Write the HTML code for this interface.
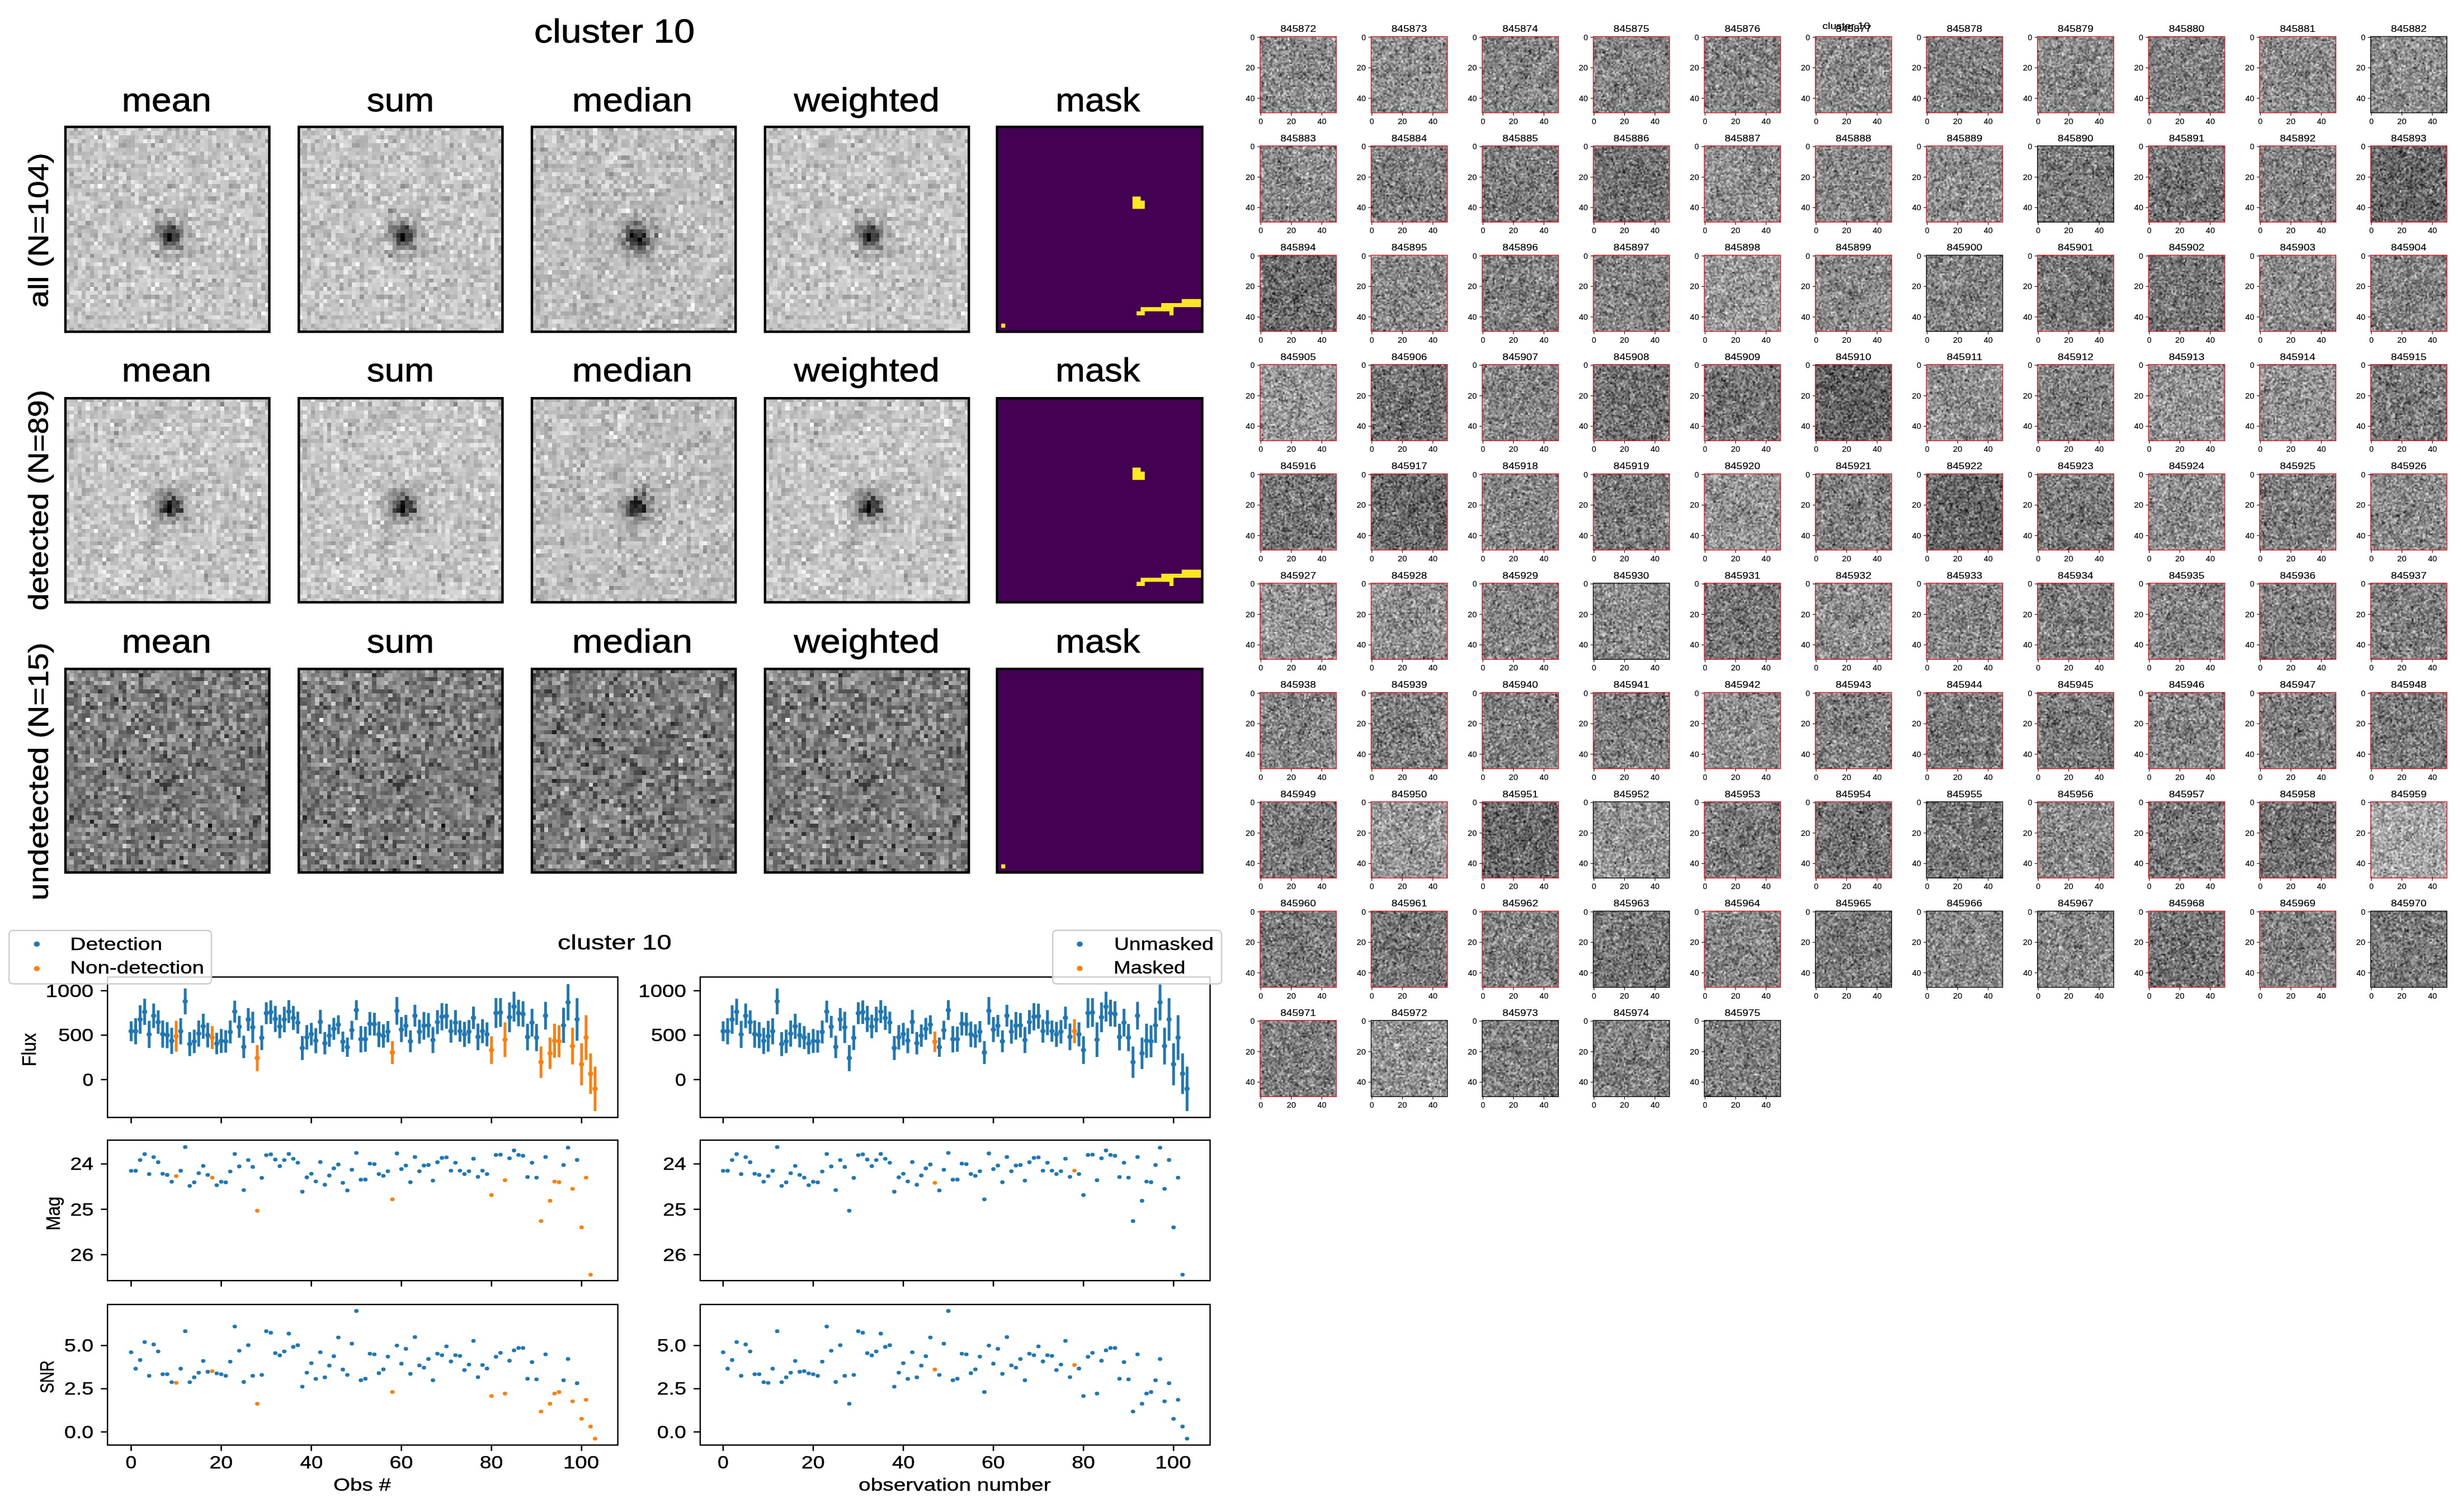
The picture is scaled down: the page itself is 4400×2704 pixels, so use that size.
<!DOCTYPE html>
<html><head><meta charset="utf-8"><title>cluster 10</title>
<style>
html,body{margin:0;padding:0;background:#fff;}
body{width:4400px;height:2704px;position:relative;overflow:hidden;}
svg,canvas{position:absolute;left:0;top:0;}
text{font-family:"Liberation Sans",sans-serif;stroke:#000;}
</style></head><body>
<svg width="4400" height="2704" viewBox="0 0 4400 2704"><defs><radialGradient id="star"><stop offset="0" stop-color="#202020" stop-opacity="1"/><stop offset="0.35" stop-color="#505050" stop-opacity="0.8"/><stop offset="1" stop-color="#c2c2c2" stop-opacity="0"/></radialGradient></defs><rect x="117.00" y="226.90" width="364.50" height="366.40" fill="#c2c2c2"/><circle cx="305.08" cy="421.54" r="43.74" fill="url(#star)"/><rect x="534.20" y="226.90" width="364.20" height="366.40" fill="#c2c2c2"/><circle cx="722.13" cy="421.38" r="43.70" fill="url(#star)"/><rect x="951.00" y="226.90" width="364.20" height="366.40" fill="#c2c2c2"/><circle cx="1138.93" cy="421.38" r="43.70" fill="url(#star)"/><rect x="1367.80" y="226.90" width="364.40" height="366.40" fill="#c2c2c2"/><circle cx="1555.83" cy="421.49" r="43.73" fill="url(#star)"/><rect x="117.00" y="712.20" width="364.50" height="364.90" fill="#c2c2c2"/><circle cx="305.08" cy="906.84" r="43.74" fill="url(#star)"/><rect x="534.20" y="712.20" width="364.20" height="364.90" fill="#c2c2c2"/><circle cx="722.13" cy="906.68" r="43.70" fill="url(#star)"/><rect x="951.00" y="712.20" width="364.20" height="364.90" fill="#c2c2c2"/><circle cx="1138.93" cy="906.68" r="43.70" fill="url(#star)"/><rect x="1367.80" y="712.20" width="364.40" height="364.90" fill="#c2c2c2"/><circle cx="1555.83" cy="906.79" r="43.73" fill="url(#star)"/><rect x="117.00" y="1196.30" width="364.50" height="364.00" fill="#7f7f7f"/><rect x="534.20" y="1196.30" width="364.20" height="364.00" fill="#7f7f7f"/><rect x="951.00" y="1196.30" width="364.20" height="364.00" fill="#7f7f7f"/><rect x="1367.80" y="1196.30" width="364.40" height="364.00" fill="#7f7f7f"/><rect x="2252.90" y="65.40" width="136.3" height="136.3" fill="rgb(138,138,138)"/><rect x="2451.46" y="65.40" width="136.3" height="136.3" fill="rgb(142,142,142)"/><rect x="2650.02" y="65.40" width="136.3" height="136.3" fill="rgb(135,135,135)"/><rect x="2848.58" y="65.40" width="136.3" height="136.3" fill="rgb(135,135,135)"/><rect x="3047.14" y="65.40" width="136.3" height="136.3" fill="rgb(133,133,133)"/><rect x="3245.70" y="65.40" width="136.3" height="136.3" fill="rgb(138,138,138)"/><rect x="3444.26" y="65.40" width="136.3" height="136.3" fill="rgb(127,127,127)"/><rect x="3642.82" y="65.40" width="136.3" height="136.3" fill="rgb(138,138,138)"/><rect x="3841.38" y="65.40" width="136.3" height="136.3" fill="rgb(129,129,129)"/><rect x="4039.94" y="65.40" width="136.3" height="136.3" fill="rgb(138,138,138)"/><rect x="4238.50" y="65.40" width="136.3" height="136.3" fill="rgb(142,142,142)"/><rect x="2252.90" y="260.90" width="136.3" height="136.3" fill="rgb(138,138,138)"/><rect x="2451.46" y="260.90" width="136.3" height="136.3" fill="rgb(129,129,129)"/><rect x="2650.02" y="260.90" width="136.3" height="136.3" fill="rgb(125,125,125)"/><rect x="2848.58" y="260.90" width="136.3" height="136.3" fill="rgb(115,115,115)"/><rect x="3047.14" y="260.90" width="136.3" height="136.3" fill="rgb(142,142,142)"/><rect x="3245.70" y="260.90" width="136.3" height="136.3" fill="rgb(138,138,138)"/><rect x="3444.26" y="260.90" width="136.3" height="136.3" fill="rgb(142,142,142)"/><rect x="3642.82" y="260.90" width="136.3" height="136.3" fill="rgb(123,123,123)"/><rect x="3841.38" y="260.90" width="136.3" height="136.3" fill="rgb(119,119,119)"/><rect x="4039.94" y="260.90" width="136.3" height="136.3" fill="rgb(133,133,133)"/><rect x="4238.50" y="260.90" width="136.3" height="136.3" fill="rgb(104,104,104)"/><rect x="2252.90" y="456.40" width="136.3" height="136.3" fill="rgb(112,112,112)"/><rect x="2451.46" y="456.40" width="136.3" height="136.3" fill="rgb(138,138,138)"/><rect x="2650.02" y="456.40" width="136.3" height="136.3" fill="rgb(129,129,129)"/><rect x="2848.58" y="456.40" width="136.3" height="136.3" fill="rgb(133,133,133)"/><rect x="3047.14" y="456.40" width="136.3" height="136.3" fill="rgb(154,154,154)"/><rect x="3245.70" y="456.40" width="136.3" height="136.3" fill="rgb(138,138,138)"/><rect x="3444.26" y="456.40" width="136.3" height="136.3" fill="rgb(133,133,133)"/><rect x="3642.82" y="456.40" width="136.3" height="136.3" fill="rgb(119,119,119)"/><rect x="3841.38" y="456.40" width="136.3" height="136.3" fill="rgb(119,119,119)"/><rect x="4039.94" y="456.40" width="136.3" height="136.3" fill="rgb(138,138,138)"/><rect x="4238.50" y="456.40" width="136.3" height="136.3" fill="rgb(133,133,133)"/><rect x="2252.90" y="651.90" width="136.3" height="136.3" fill="rgb(154,154,154)"/><rect x="2451.46" y="651.90" width="136.3" height="136.3" fill="rgb(115,115,115)"/><rect x="2650.02" y="651.90" width="136.3" height="136.3" fill="rgb(135,135,135)"/><rect x="2848.58" y="651.90" width="136.3" height="136.3" fill="rgb(115,115,115)"/><rect x="3047.14" y="651.90" width="136.3" height="136.3" fill="rgb(119,119,119)"/><rect x="3245.70" y="651.90" width="136.3" height="136.3" fill="rgb(100,100,100)"/><rect x="3444.26" y="651.90" width="136.3" height="136.3" fill="rgb(144,144,144)"/><rect x="3642.82" y="651.90" width="136.3" height="136.3" fill="rgb(129,129,129)"/><rect x="3841.38" y="651.90" width="136.3" height="136.3" fill="rgb(148,148,148)"/><rect x="4039.94" y="651.90" width="136.3" height="136.3" fill="rgb(148,148,148)"/><rect x="4238.50" y="651.90" width="136.3" height="136.3" fill="rgb(123,123,123)"/><rect x="2252.90" y="847.40" width="136.3" height="136.3" fill="rgb(119,119,119)"/><rect x="2451.46" y="847.40" width="136.3" height="136.3" fill="rgb(106,106,106)"/><rect x="2650.02" y="847.40" width="136.3" height="136.3" fill="rgb(135,135,135)"/><rect x="2848.58" y="847.40" width="136.3" height="136.3" fill="rgb(123,123,123)"/><rect x="3047.14" y="847.40" width="136.3" height="136.3" fill="rgb(150,150,150)"/><rect x="3245.70" y="847.40" width="136.3" height="136.3" fill="rgb(129,129,129)"/><rect x="3444.26" y="847.40" width="136.3" height="136.3" fill="rgb(106,106,106)"/><rect x="3642.82" y="847.40" width="136.3" height="136.3" fill="rgb(123,123,123)"/><rect x="3841.38" y="847.40" width="136.3" height="136.3" fill="rgb(142,142,142)"/><rect x="4039.94" y="847.40" width="136.3" height="136.3" fill="rgb(129,129,129)"/><rect x="4238.50" y="847.40" width="136.3" height="136.3" fill="rgb(138,138,138)"/><rect x="2252.90" y="1042.90" width="136.3" height="136.3" fill="rgb(148,148,148)"/><rect x="2451.46" y="1042.90" width="136.3" height="136.3" fill="rgb(144,144,144)"/><rect x="2650.02" y="1042.90" width="136.3" height="136.3" fill="rgb(133,133,133)"/><rect x="2848.58" y="1042.90" width="136.3" height="136.3" fill="rgb(138,138,138)"/><rect x="3047.14" y="1042.90" width="136.3" height="136.3" fill="rgb(119,119,119)"/><rect x="3245.70" y="1042.90" width="136.3" height="136.3" fill="rgb(144,144,144)"/><rect x="3444.26" y="1042.90" width="136.3" height="136.3" fill="rgb(135,135,135)"/><rect x="3642.82" y="1042.90" width="136.3" height="136.3" fill="rgb(129,129,129)"/><rect x="3841.38" y="1042.90" width="136.3" height="136.3" fill="rgb(133,133,133)"/><rect x="4039.94" y="1042.90" width="136.3" height="136.3" fill="rgb(129,129,129)"/><rect x="4238.50" y="1042.90" width="136.3" height="136.3" fill="rgb(129,129,129)"/><rect x="2252.90" y="1238.40" width="136.3" height="136.3" fill="rgb(133,133,133)"/><rect x="2451.46" y="1238.40" width="136.3" height="136.3" fill="rgb(129,129,129)"/><rect x="2650.02" y="1238.40" width="136.3" height="136.3" fill="rgb(129,129,129)"/><rect x="2848.58" y="1238.40" width="136.3" height="136.3" fill="rgb(129,129,129)"/><rect x="3047.14" y="1238.40" width="136.3" height="136.3" fill="rgb(142,142,142)"/><rect x="3245.70" y="1238.40" width="136.3" height="136.3" fill="rgb(129,129,129)"/><rect x="3444.26" y="1238.40" width="136.3" height="136.3" fill="rgb(123,123,123)"/><rect x="3642.82" y="1238.40" width="136.3" height="136.3" fill="rgb(123,123,123)"/><rect x="3841.38" y="1238.40" width="136.3" height="136.3" fill="rgb(135,135,135)"/><rect x="4039.94" y="1238.40" width="136.3" height="136.3" fill="rgb(129,129,129)"/><rect x="4238.50" y="1238.40" width="136.3" height="136.3" fill="rgb(123,123,123)"/><rect x="2252.90" y="1433.90" width="136.3" height="136.3" fill="rgb(123,123,123)"/><rect x="2451.46" y="1433.90" width="136.3" height="136.3" fill="rgb(154,154,154)"/><rect x="2650.02" y="1433.90" width="136.3" height="136.3" fill="rgb(106,106,106)"/><rect x="2848.58" y="1433.90" width="136.3" height="136.3" fill="rgb(148,148,148)"/><rect x="3047.14" y="1433.90" width="136.3" height="136.3" fill="rgb(123,123,123)"/><rect x="3245.70" y="1433.90" width="136.3" height="136.3" fill="rgb(115,115,115)"/><rect x="3444.26" y="1433.90" width="136.3" height="136.3" fill="rgb(123,123,123)"/><rect x="3642.82" y="1433.90" width="136.3" height="136.3" fill="rgb(138,138,138)"/><rect x="3841.38" y="1433.90" width="136.3" height="136.3" fill="rgb(123,123,123)"/><rect x="4039.94" y="1433.90" width="136.3" height="136.3" fill="rgb(115,115,115)"/><rect x="4238.50" y="1433.90" width="136.3" height="136.3" fill="rgb(167,167,167)"/><rect x="2252.90" y="1629.40" width="136.3" height="136.3" fill="rgb(123,123,123)"/><rect x="2451.46" y="1629.40" width="136.3" height="136.3" fill="rgb(119,119,119)"/><rect x="2650.02" y="1629.40" width="136.3" height="136.3" fill="rgb(129,129,129)"/><rect x="2848.58" y="1629.40" width="136.3" height="136.3" fill="rgb(119,119,119)"/><rect x="3047.14" y="1629.40" width="136.3" height="136.3" fill="rgb(133,133,133)"/><rect x="3245.70" y="1629.40" width="136.3" height="136.3" fill="rgb(123,123,123)"/><rect x="3444.26" y="1629.40" width="136.3" height="136.3" fill="rgb(138,138,138)"/><rect x="3642.82" y="1629.40" width="136.3" height="136.3" fill="rgb(138,138,138)"/><rect x="3841.38" y="1629.40" width="136.3" height="136.3" fill="rgb(115,115,115)"/><rect x="4039.94" y="1629.40" width="136.3" height="136.3" fill="rgb(129,129,129)"/><rect x="4238.50" y="1629.40" width="136.3" height="136.3" fill="rgb(123,123,123)"/><rect x="2252.90" y="1824.90" width="136.3" height="136.3" fill="rgb(129,129,129)"/><rect x="2451.46" y="1824.90" width="136.3" height="136.3" fill="rgb(148,148,148)"/><rect x="2650.02" y="1824.90" width="136.3" height="136.3" fill="rgb(129,129,129)"/><rect x="2848.58" y="1824.90" width="136.3" height="136.3" fill="rgb(129,129,129)"/><rect x="3047.14" y="1824.90" width="136.3" height="136.3" fill="rgb(129,129,129)"/></svg>
<canvas id="cv" width="4400" height="2704"></canvas>
<svg width="4400" height="2704" viewBox="0 0 4400 2704">
<text x="955.05" y="75.60" font-size="60.00" textLength="287.10" lengthAdjust="spacingAndGlyphs" fill="#000" stroke-width="0.78">cluster 10</text>
<text x="217.74" y="199.10" font-size="60.00" textLength="160.23" lengthAdjust="spacingAndGlyphs" fill="#000" stroke-width="0.78">mean</text>
<text x="655.79" y="199.10" font-size="60.00" textLength="120.40" lengthAdjust="spacingAndGlyphs" fill="#000" stroke-width="0.78">sum</text>
<text x="1022.73" y="199.10" font-size="60.00" textLength="215.33" lengthAdjust="spacingAndGlyphs" fill="#000" stroke-width="0.78">median</text>
<text x="1419.50" y="199.10" font-size="60.00" textLength="260.43" lengthAdjust="spacingAndGlyphs" fill="#000" stroke-width="0.78">weighted</text>
<text x="1887.29" y="199.10" font-size="60.00" textLength="150.96" lengthAdjust="spacingAndGlyphs" fill="#000" stroke-width="0.78">mask</text>
<text x="217.74" y="682.40" font-size="60.00" textLength="160.23" lengthAdjust="spacingAndGlyphs" fill="#000" stroke-width="0.78">mean</text>
<text x="655.79" y="682.40" font-size="60.00" textLength="120.40" lengthAdjust="spacingAndGlyphs" fill="#000" stroke-width="0.78">sum</text>
<text x="1022.73" y="682.40" font-size="60.00" textLength="215.33" lengthAdjust="spacingAndGlyphs" fill="#000" stroke-width="0.78">median</text>
<text x="1419.50" y="682.40" font-size="60.00" textLength="260.43" lengthAdjust="spacingAndGlyphs" fill="#000" stroke-width="0.78">weighted</text>
<text x="1887.29" y="682.40" font-size="60.00" textLength="150.96" lengthAdjust="spacingAndGlyphs" fill="#000" stroke-width="0.78">mask</text>
<text x="217.74" y="1166.70" font-size="60.00" textLength="160.23" lengthAdjust="spacingAndGlyphs" fill="#000" stroke-width="0.78">mean</text>
<text x="655.79" y="1166.70" font-size="60.00" textLength="120.40" lengthAdjust="spacingAndGlyphs" fill="#000" stroke-width="0.78">sum</text>
<text x="1022.73" y="1166.70" font-size="60.00" textLength="215.33" lengthAdjust="spacingAndGlyphs" fill="#000" stroke-width="0.78">median</text>
<text x="1419.50" y="1166.70" font-size="60.00" textLength="260.43" lengthAdjust="spacingAndGlyphs" fill="#000" stroke-width="0.78">weighted</text>
<text x="1887.29" y="1166.70" font-size="60.00" textLength="150.96" lengthAdjust="spacingAndGlyphs" fill="#000" stroke-width="0.78">mask</text>
<g transform="translate(85.50,0) rotate(-90)"><text x="-550.15" y="0.00" font-size="49.20" textLength="276.76" lengthAdjust="spacingAndGlyphs" fill="#000" stroke-width="0.64">all (N=104)</text></g>
<g transform="translate(85.50,0) rotate(-90)"><text x="-1091.89" y="0.00" font-size="49.20" textLength="394.60" lengthAdjust="spacingAndGlyphs" fill="#000" stroke-width="0.64">detected (N=89)</text></g>
<g transform="translate(85.50,0) rotate(-90)"><text x="-1610.31" y="0.00" font-size="49.20" textLength="461.00" lengthAdjust="spacingAndGlyphs" fill="#000" stroke-width="0.64">undetected (N=15)</text></g>
<rect x="1782.60" y="226.90" width="366.90" height="366.40" fill="#440154"/>
<path d="M2024.75 351.48h7.34v7.33h-7.34zM2032.09 351.48h7.34v7.33h-7.34zM2024.75 358.80h7.34v7.33h-7.34zM2032.09 358.80h7.34v7.33h-7.34zM2039.43 358.80h7.34v7.33h-7.34zM2024.75 366.13h7.34v7.33h-7.34zM2032.09 366.13h7.34v7.33h-7.34zM2039.43 366.13h7.34v7.33h-7.34zM2112.81 534.68h7.34v7.33h-7.34zM2120.15 534.68h7.34v7.33h-7.34zM2127.49 534.68h7.34v7.33h-7.34zM2134.82 534.68h7.34v7.33h-7.34zM2142.16 534.68h7.34v7.33h-7.34zM2076.12 542.00h7.34v7.33h-7.34zM2083.46 542.00h7.34v7.33h-7.34zM2090.80 542.00h7.34v7.33h-7.34zM2098.13 542.00h7.34v7.33h-7.34zM2105.47 542.00h7.34v7.33h-7.34zM2112.81 542.00h7.34v7.33h-7.34zM2120.15 542.00h7.34v7.33h-7.34zM2127.49 542.00h7.34v7.33h-7.34zM2134.82 542.00h7.34v7.33h-7.34zM2142.16 542.00h7.34v7.33h-7.34zM2039.43 549.33h7.34v7.33h-7.34zM2046.77 549.33h7.34v7.33h-7.34zM2054.11 549.33h7.34v7.33h-7.34zM2061.44 549.33h7.34v7.33h-7.34zM2068.78 549.33h7.34v7.33h-7.34zM2076.12 549.33h7.34v7.33h-7.34zM2083.46 549.33h7.34v7.33h-7.34zM2090.80 549.33h7.34v7.33h-7.34zM2032.09 556.66h7.34v7.33h-7.34zM2039.43 556.66h7.34v7.33h-7.34zM2090.80 556.66h7.34v7.33h-7.34zM1789.94 578.64h7.34v7.33h-7.34z" fill="#fde725"/>
<rect x="1782.60" y="712.20" width="366.90" height="364.90" fill="#440154"/>
<path d="M2024.75 836.27h7.34v7.30h-7.34zM2032.09 836.27h7.34v7.30h-7.34zM2024.75 843.56h7.34v7.30h-7.34zM2032.09 843.56h7.34v7.30h-7.34zM2039.43 843.56h7.34v7.30h-7.34zM2024.75 850.86h7.34v7.30h-7.34zM2032.09 850.86h7.34v7.30h-7.34zM2039.43 850.86h7.34v7.30h-7.34zM2112.81 1018.72h7.34v7.30h-7.34zM2120.15 1018.72h7.34v7.30h-7.34zM2127.49 1018.72h7.34v7.30h-7.34zM2134.82 1018.72h7.34v7.30h-7.34zM2142.16 1018.72h7.34v7.30h-7.34zM2076.12 1026.01h7.34v7.30h-7.34zM2083.46 1026.01h7.34v7.30h-7.34zM2090.80 1026.01h7.34v7.30h-7.34zM2098.13 1026.01h7.34v7.30h-7.34zM2105.47 1026.01h7.34v7.30h-7.34zM2112.81 1026.01h7.34v7.30h-7.34zM2120.15 1026.01h7.34v7.30h-7.34zM2127.49 1026.01h7.34v7.30h-7.34zM2134.82 1026.01h7.34v7.30h-7.34zM2142.16 1026.01h7.34v7.30h-7.34zM2039.43 1033.31h7.34v7.30h-7.34zM2046.77 1033.31h7.34v7.30h-7.34zM2054.11 1033.31h7.34v7.30h-7.34zM2061.44 1033.31h7.34v7.30h-7.34zM2068.78 1033.31h7.34v7.30h-7.34zM2076.12 1033.31h7.34v7.30h-7.34zM2083.46 1033.31h7.34v7.30h-7.34zM2090.80 1033.31h7.34v7.30h-7.34zM2032.09 1040.61h7.34v7.30h-7.34zM2039.43 1040.61h7.34v7.30h-7.34zM2090.80 1040.61h7.34v7.30h-7.34z" fill="#fde725"/>
<rect x="1782.60" y="1196.30" width="366.90" height="364.00" fill="#440154"/>
<path d="M1789.94 1545.74h7.34v7.28h-7.34z" fill="#fde725"/>
<rect x="117.00" y="226.90" width="364.50" height="366.40" fill="none" stroke="#000" stroke-width="4.4"/>
<rect x="534.20" y="226.90" width="364.20" height="366.40" fill="none" stroke="#000" stroke-width="4.4"/>
<rect x="951.00" y="226.90" width="364.20" height="366.40" fill="none" stroke="#000" stroke-width="4.4"/>
<rect x="1367.80" y="226.90" width="364.40" height="366.40" fill="none" stroke="#000" stroke-width="4.4"/>
<rect x="1782.60" y="226.90" width="366.90" height="366.40" fill="none" stroke="#000" stroke-width="4.4"/>
<rect x="117.00" y="712.20" width="364.50" height="364.90" fill="none" stroke="#000" stroke-width="4.4"/>
<rect x="534.20" y="712.20" width="364.20" height="364.90" fill="none" stroke="#000" stroke-width="4.4"/>
<rect x="951.00" y="712.20" width="364.20" height="364.90" fill="none" stroke="#000" stroke-width="4.4"/>
<rect x="1367.80" y="712.20" width="364.40" height="364.90" fill="none" stroke="#000" stroke-width="4.4"/>
<rect x="1782.60" y="712.20" width="366.90" height="364.90" fill="none" stroke="#000" stroke-width="4.4"/>
<rect x="117.00" y="1196.30" width="364.50" height="364.00" fill="none" stroke="#000" stroke-width="4.4"/>
<rect x="534.20" y="1196.30" width="364.20" height="364.00" fill="none" stroke="#000" stroke-width="4.4"/>
<rect x="951.00" y="1196.30" width="364.20" height="364.00" fill="none" stroke="#000" stroke-width="4.4"/>
<rect x="1367.80" y="1196.30" width="364.40" height="364.00" fill="none" stroke="#000" stroke-width="4.4"/>
<rect x="1782.60" y="1196.30" width="366.90" height="364.00" fill="none" stroke="#000" stroke-width="4.4"/>
<text x="997.12" y="1697.50" font-size="36.50" textLength="203.45" lengthAdjust="spacingAndGlyphs" fill="#000" stroke-width="0.47">cluster 10</text>
<rect x="232.00" y="1826.56" width="5" height="35.50" fill="#1f77b4"/><ellipse cx="234.50" cy="1844.31" rx="4.7" ry="4.2" fill="#1f77b4"/><rect x="240.05" y="1820.90" width="5" height="46.72" fill="#1f77b4"/><ellipse cx="242.55" cy="1844.26" rx="4.7" ry="4.2" fill="#1f77b4"/><rect x="248.11" y="1797.68" width="5" height="51.04" fill="#1f77b4"/><ellipse cx="250.61" cy="1823.20" rx="4.7" ry="4.2" fill="#1f77b4"/><rect x="256.16" y="1786.18" width="5" height="46.72" fill="#1f77b4"/><ellipse cx="258.66" cy="1809.54" rx="4.7" ry="4.2" fill="#1f77b4"/><rect x="264.21" y="1825.59" width="5" height="48.62" fill="#1f77b4"/><ellipse cx="266.71" cy="1849.90" rx="4.7" ry="4.2" fill="#1f77b4"/><rect x="272.26" y="1794.68" width="5" height="43.86" fill="#1f77b4"/><ellipse cx="274.76" cy="1816.61" rx="4.7" ry="4.2" fill="#1f77b4"/><rect x="280.32" y="1806.92" width="5" height="41.95" fill="#1f77b4"/><ellipse cx="282.82" cy="1827.89" rx="4.7" ry="4.2" fill="#1f77b4"/><rect x="288.37" y="1825.03" width="5" height="48.62" fill="#1f77b4"/><ellipse cx="290.87" cy="1849.34" rx="4.7" ry="4.2" fill="#1f77b4"/><rect x="296.42" y="1827.89" width="5" height="46.72" fill="#1f77b4"/><ellipse cx="298.92" cy="1851.25" rx="4.7" ry="4.2" fill="#1f77b4"/><rect x="304.48" y="1838.14" width="5" height="46.72" fill="#1f77b4"/><ellipse cx="306.98" cy="1861.50" rx="4.7" ry="4.2" fill="#1f77b4"/><rect x="312.53" y="1825.59" width="5" height="55.14" fill="#ff7f0e"/><ellipse cx="315.03" cy="1853.16" rx="4.7" ry="4.2" fill="#ff7f0e"/><rect x="320.58" y="1820.90" width="5" height="46.72" fill="#1f77b4"/><ellipse cx="323.08" cy="1844.26" rx="4.7" ry="4.2" fill="#1f77b4"/><rect x="328.64" y="1767.67" width="5" height="46.40" fill="#1f77b4"/><ellipse cx="331.14" cy="1790.87" rx="4.7" ry="4.2" fill="#1f77b4"/><rect x="336.69" y="1845.69" width="5" height="42.90" fill="#1f77b4"/><ellipse cx="339.19" cy="1867.14" rx="4.7" ry="4.2" fill="#1f77b4"/><rect x="344.74" y="1841.40" width="5" height="41.95" fill="#1f77b4"/><ellipse cx="347.24" cy="1862.37" rx="4.7" ry="4.2" fill="#1f77b4"/><rect x="352.80" y="1825.03" width="5" height="46.72" fill="#1f77b4"/><ellipse cx="355.30" cy="1848.39" rx="4.7" ry="4.2" fill="#1f77b4"/><rect x="360.85" y="1812.96" width="5" height="44.81" fill="#1f77b4"/><ellipse cx="363.35" cy="1835.36" rx="4.7" ry="4.2" fill="#1f77b4"/><rect x="368.90" y="1829.32" width="5" height="43.86" fill="#1f77b4"/><ellipse cx="371.40" cy="1851.25" rx="4.7" ry="4.2" fill="#1f77b4"/><rect x="376.95" y="1835.04" width="5" height="41.00" fill="#ff7f0e"/><ellipse cx="379.45" cy="1855.54" rx="4.7" ry="4.2" fill="#ff7f0e"/><rect x="385.01" y="1847.02" width="5" height="38.33" fill="#1f77b4"/><ellipse cx="387.51" cy="1866.19" rx="4.7" ry="4.2" fill="#1f77b4"/><rect x="393.06" y="1840.13" width="5" height="42.90" fill="#1f77b4"/><ellipse cx="395.56" cy="1861.58" rx="4.7" ry="4.2" fill="#1f77b4"/><rect x="401.11" y="1842.35" width="5" height="40.04" fill="#1f77b4"/><ellipse cx="403.61" cy="1862.37" rx="4.7" ry="4.2" fill="#1f77b4"/><rect x="409.17" y="1825.10" width="5" height="41.00" fill="#1f77b4"/><ellipse cx="411.67" cy="1845.59" rx="4.7" ry="4.2" fill="#1f77b4"/><rect x="417.22" y="1789.52" width="5" height="39.25" fill="#1f77b4"/><ellipse cx="419.72" cy="1809.14" rx="4.7" ry="4.2" fill="#1f77b4"/><rect x="425.27" y="1816.69" width="5" height="39.25" fill="#1f77b4"/><ellipse cx="427.77" cy="1836.31" rx="4.7" ry="4.2" fill="#1f77b4"/><rect x="433.33" y="1852.28" width="5" height="40.04" fill="#1f77b4"/><ellipse cx="435.83" cy="1872.30" rx="4.7" ry="4.2" fill="#1f77b4"/><rect x="441.38" y="1802.71" width="5" height="41.00" fill="#1f77b4"/><ellipse cx="443.88" cy="1823.20" rx="4.7" ry="4.2" fill="#1f77b4"/><rect x="449.43" y="1809.30" width="5" height="55.93" fill="#1f77b4"/><ellipse cx="451.93" cy="1837.27" rx="4.7" ry="4.2" fill="#1f77b4"/><rect x="457.48" y="1868.95" width="5" height="46.72" fill="#ff7f0e"/><ellipse cx="459.98" cy="1892.31" rx="4.7" ry="4.2" fill="#ff7f0e"/><rect x="465.54" y="1833.98" width="5" height="43.86" fill="#1f77b4"/><ellipse cx="468.04" cy="1855.91" rx="4.7" ry="4.2" fill="#1f77b4"/><rect x="473.59" y="1792.38" width="5" height="39.25" fill="#1f77b4"/><ellipse cx="476.09" cy="1812.00" rx="4.7" ry="4.2" fill="#1f77b4"/><rect x="481.64" y="1789.12" width="5" height="41.95" fill="#1f77b4"/><ellipse cx="484.14" cy="1810.09" rx="4.7" ry="4.2" fill="#1f77b4"/><rect x="489.70" y="1798.88" width="5" height="46.72" fill="#1f77b4"/><ellipse cx="492.20" cy="1822.23" rx="4.7" ry="4.2" fill="#1f77b4"/><rect x="497.75" y="1814.70" width="5" height="41.95" fill="#1f77b4"/><ellipse cx="500.25" cy="1835.68" rx="4.7" ry="4.2" fill="#1f77b4"/><rect x="505.80" y="1800.32" width="5" height="45.76" fill="#1f77b4"/><ellipse cx="508.30" cy="1823.20" rx="4.7" ry="4.2" fill="#1f77b4"/><rect x="513.86" y="1788.64" width="5" height="41.00" fill="#1f77b4"/><ellipse cx="516.36" cy="1809.14" rx="4.7" ry="4.2" fill="#1f77b4"/><rect x="521.91" y="1798.97" width="5" height="42.90" fill="#1f77b4"/><ellipse cx="524.41" cy="1820.42" rx="4.7" ry="4.2" fill="#1f77b4"/><rect x="529.96" y="1809.22" width="5" height="39.25" fill="#1f77b4"/><ellipse cx="532.46" cy="1828.85" rx="4.7" ry="4.2" fill="#1f77b4"/><rect x="538.01" y="1852.74" width="5" height="42.90" fill="#1f77b4"/><ellipse cx="540.51" cy="1874.20" rx="4.7" ry="4.2" fill="#1f77b4"/><rect x="546.07" y="1833.14" width="5" height="43.86" fill="#1f77b4"/><ellipse cx="548.57" cy="1855.06" rx="4.7" ry="4.2" fill="#1f77b4"/><rect x="554.12" y="1829.32" width="5" height="40.04" fill="#1f77b4"/><ellipse cx="556.62" cy="1849.34" rx="4.7" ry="4.2" fill="#1f77b4"/><rect x="562.17" y="1838.70" width="5" height="44.81" fill="#1f77b4"/><ellipse cx="564.67" cy="1861.10" rx="4.7" ry="4.2" fill="#1f77b4"/><rect x="570.23" y="1806.04" width="5" height="42.90" fill="#1f77b4"/><ellipse cx="572.73" cy="1827.49" rx="4.7" ry="4.2" fill="#1f77b4"/><rect x="578.28" y="1845.58" width="5" height="40.04" fill="#1f77b4"/><ellipse cx="580.78" cy="1865.60" rx="4.7" ry="4.2" fill="#1f77b4"/><rect x="586.33" y="1832.09" width="5" height="40.04" fill="#1f77b4"/><ellipse cx="588.83" cy="1852.11" rx="4.7" ry="4.2" fill="#1f77b4"/><rect x="594.38" y="1820.38" width="5" height="39.25" fill="#1f77b4"/><ellipse cx="596.88" cy="1840.00" rx="4.7" ry="4.2" fill="#1f77b4"/><rect x="602.44" y="1815.66" width="5" height="33.69" fill="#1f77b4"/><ellipse cx="604.94" cy="1832.50" rx="4.7" ry="4.2" fill="#1f77b4"/><rect x="610.49" y="1844.78" width="5" height="36.45" fill="#1f77b4"/><ellipse cx="612.99" cy="1863.01" rx="4.7" ry="4.2" fill="#1f77b4"/><rect x="618.54" y="1855.41" width="5" height="34.58" fill="#1f77b4"/><ellipse cx="621.04" cy="1872.70" rx="4.7" ry="4.2" fill="#1f77b4"/><rect x="626.60" y="1825.56" width="5" height="33.69" fill="#1f77b4"/><ellipse cx="629.10" cy="1842.40" rx="4.7" ry="4.2" fill="#1f77b4"/><rect x="634.65" y="1788.69" width="5" height="35.50" fill="#1f77b4"/><ellipse cx="637.15" cy="1806.44" rx="4.7" ry="4.2" fill="#1f77b4"/><rect x="642.70" y="1835.04" width="5" height="47.03" fill="#1f77b4"/><ellipse cx="645.20" cy="1858.56" rx="4.7" ry="4.2" fill="#1f77b4"/><rect x="650.76" y="1836.00" width="5" height="44.81" fill="#1f77b4"/><ellipse cx="653.26" cy="1858.40" rx="4.7" ry="4.2" fill="#1f77b4"/><rect x="658.81" y="1809.78" width="5" height="41.95" fill="#1f77b4"/><ellipse cx="661.31" cy="1830.75" rx="4.7" ry="4.2" fill="#1f77b4"/><rect x="666.86" y="1811.21" width="5" height="41.00" fill="#1f77b4"/><ellipse cx="669.36" cy="1831.71" rx="4.7" ry="4.2" fill="#1f77b4"/><rect x="674.91" y="1826.94" width="5" height="45.76" fill="#1f77b4"/><ellipse cx="677.41" cy="1849.82" rx="4.7" ry="4.2" fill="#1f77b4"/><rect x="682.97" y="1831.71" width="5" height="41.95" fill="#1f77b4"/><ellipse cx="685.47" cy="1852.68" rx="4.7" ry="4.2" fill="#1f77b4"/><rect x="691.02" y="1825.98" width="5" height="38.14" fill="#1f77b4"/><ellipse cx="693.52" cy="1845.05" rx="4.7" ry="4.2" fill="#1f77b4"/><rect x="699.07" y="1861.80" width="5" height="41.00" fill="#ff7f0e"/><ellipse cx="701.57" cy="1882.30" rx="4.7" ry="4.2" fill="#ff7f0e"/><rect x="707.13" y="1783.00" width="5" height="49.58" fill="#1f77b4"/><ellipse cx="709.63" cy="1807.79" rx="4.7" ry="4.2" fill="#1f77b4"/><rect x="715.18" y="1818.83" width="5" height="44.81" fill="#1f77b4"/><ellipse cx="717.68" cy="1841.24" rx="4.7" ry="4.2" fill="#1f77b4"/><rect x="723.23" y="1815.02" width="5" height="39.09" fill="#1f77b4"/><ellipse cx="725.73" cy="1834.57" rx="4.7" ry="4.2" fill="#1f77b4"/><rect x="731.29" y="1842.67" width="5" height="39.09" fill="#1f77b4"/><ellipse cx="733.79" cy="1862.21" rx="4.7" ry="4.2" fill="#1f77b4"/><rect x="739.34" y="1796.91" width="5" height="39.09" fill="#1f77b4"/><ellipse cx="741.84" cy="1816.45" rx="4.7" ry="4.2" fill="#1f77b4"/><rect x="747.39" y="1823.60" width="5" height="42.90" fill="#1f77b4"/><ellipse cx="749.89" cy="1845.05" rx="4.7" ry="4.2" fill="#1f77b4"/><rect x="755.45" y="1809.78" width="5" height="49.58" fill="#1f77b4"/><ellipse cx="757.95" cy="1834.57" rx="4.7" ry="4.2" fill="#1f77b4"/><rect x="763.50" y="1811.68" width="5" height="43.86" fill="#1f77b4"/><ellipse cx="766.00" cy="1833.61" rx="4.7" ry="4.2" fill="#1f77b4"/><rect x="771.55" y="1836.55" width="5" height="46.72" fill="#1f77b4"/><ellipse cx="774.05" cy="1859.91" rx="4.7" ry="4.2" fill="#1f77b4"/><rect x="779.60" y="1806.44" width="5" height="42.90" fill="#1f77b4"/><ellipse cx="782.10" cy="1827.89" rx="4.7" ry="4.2" fill="#1f77b4"/><rect x="787.66" y="1794.05" width="5" height="48.62" fill="#1f77b4"/><ellipse cx="790.16" cy="1818.36" rx="4.7" ry="4.2" fill="#1f77b4"/><rect x="795.71" y="1794.92" width="5" height="44.81" fill="#1f77b4"/><ellipse cx="798.21" cy="1817.32" rx="4.7" ry="4.2" fill="#1f77b4"/><rect x="803.76" y="1823.60" width="5" height="41.00" fill="#1f77b4"/><ellipse cx="806.26" cy="1844.10" rx="4.7" ry="4.2" fill="#1f77b4"/><rect x="811.82" y="1806.44" width="5" height="44.81" fill="#1f77b4"/><ellipse cx="814.32" cy="1828.85" rx="4.7" ry="4.2" fill="#1f77b4"/><rect x="819.87" y="1825.03" width="5" height="38.14" fill="#1f77b4"/><ellipse cx="822.37" cy="1844.10" rx="4.7" ry="4.2" fill="#1f77b4"/><rect x="827.92" y="1827.41" width="5" height="44.81" fill="#1f77b4"/><ellipse cx="830.42" cy="1849.82" rx="4.7" ry="4.2" fill="#1f77b4"/><rect x="835.98" y="1824.08" width="5" height="41.95" fill="#1f77b4"/><ellipse cx="838.48" cy="1845.05" rx="4.7" ry="4.2" fill="#1f77b4"/><rect x="844.03" y="1800.24" width="5" height="40.04" fill="#1f77b4"/><ellipse cx="846.53" cy="1820.26" rx="4.7" ry="4.2" fill="#1f77b4"/><rect x="852.08" y="1830.43" width="5" height="47.67" fill="#1f77b4"/><ellipse cx="854.58" cy="1854.27" rx="4.7" ry="4.2" fill="#1f77b4"/><rect x="860.13" y="1822.65" width="5" height="42.90" fill="#1f77b4"/><ellipse cx="862.63" cy="1844.10" rx="4.7" ry="4.2" fill="#1f77b4"/><rect x="868.19" y="1828.37" width="5" height="42.90" fill="#1f77b4"/><ellipse cx="870.69" cy="1849.82" rx="4.7" ry="4.2" fill="#1f77b4"/><rect x="876.24" y="1853.16" width="5" height="49.58" fill="#ff7f0e"/><ellipse cx="878.74" cy="1877.95" rx="4.7" ry="4.2" fill="#ff7f0e"/><rect x="884.29" y="1784.91" width="5" height="53.39" fill="#1f77b4"/><ellipse cx="886.79" cy="1811.60" rx="4.7" ry="4.2" fill="#1f77b4"/><rect x="892.35" y="1784.99" width="5" height="51.48" fill="#1f77b4"/><ellipse cx="894.85" cy="1810.73" rx="4.7" ry="4.2" fill="#1f77b4"/><rect x="900.40" y="1828.37" width="5" height="61.97" fill="#ff7f0e"/><ellipse cx="902.90" cy="1859.35" rx="4.7" ry="4.2" fill="#ff7f0e"/><rect x="908.45" y="1792.62" width="5" height="53.39" fill="#1f77b4"/><ellipse cx="910.95" cy="1819.31" rx="4.7" ry="4.2" fill="#1f77b4"/><rect x="916.51" y="1773.55" width="5" height="53.39" fill="#1f77b4"/><ellipse cx="919.01" cy="1800.24" rx="4.7" ry="4.2" fill="#1f77b4"/><rect x="924.56" y="1787.77" width="5" height="47.67" fill="#1f77b4"/><ellipse cx="927.06" cy="1811.60" rx="4.7" ry="4.2" fill="#1f77b4"/><rect x="932.61" y="1790.63" width="5" height="45.76" fill="#1f77b4"/><ellipse cx="935.11" cy="1813.51" rx="4.7" ry="4.2" fill="#1f77b4"/><rect x="940.66" y="1830.75" width="5" height="47.67" fill="#1f77b4"/><ellipse cx="943.16" cy="1854.59" rx="4.7" ry="4.2" fill="#1f77b4"/><rect x="948.72" y="1804.06" width="5" height="49.58" fill="#1f77b4"/><ellipse cx="951.22" cy="1828.85" rx="4.7" ry="4.2" fill="#1f77b4"/><rect x="956.77" y="1831.23" width="5" height="48.62" fill="#1f77b4"/><ellipse cx="959.27" cy="1855.54" rx="4.7" ry="4.2" fill="#1f77b4"/><rect x="964.82" y="1871.43" width="5" height="56.25" fill="#ff7f0e"/><ellipse cx="967.32" cy="1899.56" rx="4.7" ry="4.2" fill="#ff7f0e"/><rect x="972.88" y="1791.66" width="5" height="49.58" fill="#1f77b4"/><ellipse cx="975.38" cy="1816.45" rx="4.7" ry="4.2" fill="#1f77b4"/><rect x="980.93" y="1855.54" width="5" height="56.25" fill="#ff7f0e"/><ellipse cx="983.43" cy="1883.67" rx="4.7" ry="4.2" fill="#ff7f0e"/><rect x="988.98" y="1830.75" width="5" height="61.02" fill="#ff7f0e"/><ellipse cx="991.48" cy="1861.26" rx="4.7" ry="4.2" fill="#ff7f0e"/><rect x="997.04" y="1833.61" width="5" height="57.20" fill="#ff7f0e"/><ellipse cx="999.54" cy="1862.21" rx="4.7" ry="4.2" fill="#ff7f0e"/><rect x="1005.09" y="1802.15" width="5" height="62.92" fill="#1f77b4"/><ellipse cx="1007.59" cy="1833.61" rx="4.7" ry="4.2" fill="#1f77b4"/><rect x="1013.14" y="1760.04" width="5" height="64.83" fill="#1f77b4"/><ellipse cx="1015.64" cy="1792.46" rx="4.7" ry="4.2" fill="#1f77b4"/><rect x="1021.19" y="1837.90" width="5" height="65.78" fill="#ff7f0e"/><ellipse cx="1023.69" cy="1870.79" rx="4.7" ry="4.2" fill="#ff7f0e"/><rect x="1029.25" y="1784.99" width="5" height="76.27" fill="#1f77b4"/><ellipse cx="1031.75" cy="1823.12" rx="4.7" ry="4.2" fill="#1f77b4"/><rect x="1037.30" y="1865.65" width="5" height="75.32" fill="#ff7f0e"/><ellipse cx="1039.80" cy="1903.31" rx="4.7" ry="4.2" fill="#ff7f0e"/><rect x="1045.35" y="1815.50" width="5" height="80.09" fill="#ff7f0e"/><ellipse cx="1047.85" cy="1855.54" rx="4.7" ry="4.2" fill="#ff7f0e"/><rect x="1053.41" y="1883.98" width="5" height="72.46" fill="#ff7f0e"/><ellipse cx="1055.91" cy="1920.21" rx="4.7" ry="4.2" fill="#ff7f0e"/><rect x="1061.46" y="1907.50" width="5" height="79.45" fill="#ff7f0e"/><ellipse cx="1063.96" cy="1947.23" rx="4.7" ry="4.2" fill="#ff7f0e"/><ellipse cx="234.50" cy="2093.80" rx="3.9" ry="3.4" fill="#1f77b4"/><ellipse cx="242.55" cy="2093.75" rx="3.9" ry="3.4" fill="#1f77b4"/><ellipse cx="250.61" cy="2074.55" rx="3.9" ry="3.4" fill="#1f77b4"/><ellipse cx="258.66" cy="2064.00" rx="3.9" ry="3.4" fill="#1f77b4"/><ellipse cx="266.71" cy="2099.70" rx="3.9" ry="3.4" fill="#1f77b4"/><ellipse cx="274.76" cy="2069.30" rx="3.9" ry="3.4" fill="#1f77b4"/><ellipse cx="282.82" cy="2078.48" rx="3.9" ry="3.4" fill="#1f77b4"/><ellipse cx="290.87" cy="2099.10" rx="3.9" ry="3.4" fill="#1f77b4"/><ellipse cx="298.92" cy="2101.18" rx="3.9" ry="3.4" fill="#1f77b4"/><ellipse cx="306.98" cy="2113.35" rx="3.9" ry="3.4" fill="#1f77b4"/><ellipse cx="315.03" cy="2103.33" rx="3.9" ry="3.4" fill="#ff7f0e"/><ellipse cx="323.08" cy="2093.75" rx="3.9" ry="3.4" fill="#1f77b4"/><ellipse cx="331.14" cy="2051.38" rx="3.9" ry="3.4" fill="#1f77b4"/><ellipse cx="339.19" cy="2120.85" rx="3.9" ry="3.4" fill="#1f77b4"/><ellipse cx="347.24" cy="2114.47" rx="3.9" ry="3.4" fill="#1f77b4"/><ellipse cx="355.30" cy="2098.07" rx="3.9" ry="3.4" fill="#1f77b4"/><ellipse cx="363.35" cy="2085.12" rx="3.9" ry="3.4" fill="#1f77b4"/><ellipse cx="371.40" cy="2101.18" rx="3.9" ry="3.4" fill="#1f77b4"/><ellipse cx="379.45" cy="2106.08" rx="3.9" ry="3.4" fill="#ff7f0e"/><ellipse cx="387.51" cy="2119.53" rx="3.9" ry="3.4" fill="#1f77b4"/><ellipse cx="395.56" cy="2113.45" rx="3.9" ry="3.4" fill="#1f77b4"/><ellipse cx="403.61" cy="2114.47" rx="3.9" ry="3.4" fill="#1f77b4"/><ellipse cx="411.67" cy="2095.12" rx="3.9" ry="3.4" fill="#1f77b4"/><ellipse cx="419.72" cy="2063.72" rx="3.9" ry="3.4" fill="#1f77b4"/><ellipse cx="427.77" cy="2086.01" rx="3.9" ry="3.4" fill="#1f77b4"/><ellipse cx="435.83" cy="2128.31" rx="3.9" ry="3.4" fill="#1f77b4"/><ellipse cx="443.88" cy="2074.55" rx="3.9" ry="3.4" fill="#1f77b4"/><ellipse cx="451.93" cy="2086.90" rx="3.9" ry="3.4" fill="#1f77b4"/><ellipse cx="459.98" cy="2165.27" rx="3.9" ry="3.4" fill="#ff7f0e"/><ellipse cx="468.04" cy="2106.51" rx="3.9" ry="3.4" fill="#1f77b4"/><ellipse cx="476.09" cy="2065.81" rx="3.9" ry="3.4" fill="#1f77b4"/><ellipse cx="484.14" cy="2064.41" rx="3.9" ry="3.4" fill="#1f77b4"/><ellipse cx="492.20" cy="2073.76" rx="3.9" ry="3.4" fill="#1f77b4"/><ellipse cx="500.25" cy="2085.42" rx="3.9" ry="3.4" fill="#1f77b4"/><ellipse cx="508.30" cy="2074.55" rx="3.9" ry="3.4" fill="#1f77b4"/><ellipse cx="516.36" cy="2063.72" rx="3.9" ry="3.4" fill="#1f77b4"/><ellipse cx="524.41" cy="2072.30" rx="3.9" ry="3.4" fill="#1f77b4"/><ellipse cx="532.46" cy="2079.30" rx="3.9" ry="3.4" fill="#1f77b4"/><ellipse cx="540.51" cy="2131.21" rx="3.9" ry="3.4" fill="#1f77b4"/><ellipse cx="548.57" cy="2105.52" rx="3.9" ry="3.4" fill="#1f77b4"/><ellipse cx="556.62" cy="2099.10" rx="3.9" ry="3.4" fill="#1f77b4"/><ellipse cx="564.67" cy="2112.85" rx="3.9" ry="3.4" fill="#1f77b4"/><ellipse cx="572.73" cy="2078.14" rx="3.9" ry="3.4" fill="#1f77b4"/><ellipse cx="580.78" cy="2118.73" rx="3.9" ry="3.4" fill="#1f77b4"/><ellipse cx="588.83" cy="2102.14" rx="3.9" ry="3.4" fill="#1f77b4"/><ellipse cx="596.88" cy="2089.52" rx="3.9" ry="3.4" fill="#1f77b4"/><ellipse cx="604.94" cy="2082.52" rx="3.9" ry="3.4" fill="#1f77b4"/><ellipse cx="612.99" cy="2115.30" rx="3.9" ry="3.4" fill="#1f77b4"/><ellipse cx="621.04" cy="2128.91" rx="3.9" ry="3.4" fill="#1f77b4"/><ellipse cx="629.10" cy="2091.88" rx="3.9" ry="3.4" fill="#1f77b4"/><ellipse cx="637.15" cy="2061.78" rx="3.9" ry="3.4" fill="#1f77b4"/><ellipse cx="645.20" cy="2109.69" rx="3.9" ry="3.4" fill="#1f77b4"/><ellipse cx="653.26" cy="2109.49" rx="3.9" ry="3.4" fill="#1f77b4"/><ellipse cx="661.31" cy="2080.96" rx="3.9" ry="3.4" fill="#1f77b4"/><ellipse cx="669.36" cy="2081.81" rx="3.9" ry="3.4" fill="#1f77b4"/><ellipse cx="677.41" cy="2099.61" rx="3.9" ry="3.4" fill="#1f77b4"/><ellipse cx="685.47" cy="2102.79" rx="3.9" ry="3.4" fill="#1f77b4"/><ellipse cx="693.52" cy="2094.57" rx="3.9" ry="3.4" fill="#1f77b4"/><ellipse cx="701.57" cy="2144.85" rx="3.9" ry="3.4" fill="#ff7f0e"/><ellipse cx="709.63" cy="2062.74" rx="3.9" ry="3.4" fill="#1f77b4"/><ellipse cx="717.68" cy="2090.73" rx="3.9" ry="3.4" fill="#1f77b4"/><ellipse cx="725.73" cy="2084.39" rx="3.9" ry="3.4" fill="#1f77b4"/><ellipse cx="733.79" cy="2114.27" rx="3.9" ry="3.4" fill="#1f77b4"/><ellipse cx="741.84" cy="2069.18" rx="3.9" ry="3.4" fill="#1f77b4"/><ellipse cx="749.89" cy="2094.57" rx="3.9" ry="3.4" fill="#1f77b4"/><ellipse cx="757.95" cy="2084.39" rx="3.9" ry="3.4" fill="#1f77b4"/><ellipse cx="766.00" cy="2083.52" rx="3.9" ry="3.4" fill="#1f77b4"/><ellipse cx="774.05" cy="2111.35" rx="3.9" ry="3.4" fill="#1f77b4"/><ellipse cx="782.10" cy="2078.48" rx="3.9" ry="3.4" fill="#1f77b4"/><ellipse cx="790.16" cy="2070.66" rx="3.9" ry="3.4" fill="#1f77b4"/><ellipse cx="798.21" cy="2069.86" rx="3.9" ry="3.4" fill="#1f77b4"/><ellipse cx="806.26" cy="2093.59" rx="3.9" ry="3.4" fill="#1f77b4"/><ellipse cx="814.32" cy="2079.30" rx="3.9" ry="3.4" fill="#1f77b4"/><ellipse cx="822.37" cy="2093.59" rx="3.9" ry="3.4" fill="#1f77b4"/><ellipse cx="830.42" cy="2099.61" rx="3.9" ry="3.4" fill="#1f77b4"/><ellipse cx="838.48" cy="2094.57" rx="3.9" ry="3.4" fill="#1f77b4"/><ellipse cx="846.53" cy="2072.17" rx="3.9" ry="3.4" fill="#1f77b4"/><ellipse cx="854.58" cy="2104.60" rx="3.9" ry="3.4" fill="#1f77b4"/><ellipse cx="862.63" cy="2093.59" rx="3.9" ry="3.4" fill="#1f77b4"/><ellipse cx="870.69" cy="2099.61" rx="3.9" ry="3.4" fill="#1f77b4"/><ellipse cx="878.74" cy="2137.26" rx="3.9" ry="3.4" fill="#ff7f0e"/><ellipse cx="886.79" cy="2065.52" rx="3.9" ry="3.4" fill="#1f77b4"/><ellipse cx="894.85" cy="2064.88" rx="3.9" ry="3.4" fill="#1f77b4"/><ellipse cx="902.90" cy="2110.66" rx="3.9" ry="3.4" fill="#ff7f0e"/><ellipse cx="910.95" cy="2071.41" rx="3.9" ry="3.4" fill="#1f77b4"/><ellipse cx="919.01" cy="2057.49" rx="3.9" ry="3.4" fill="#1f77b4"/><ellipse cx="927.06" cy="2065.52" rx="3.9" ry="3.4" fill="#1f77b4"/><ellipse cx="935.11" cy="2066.94" rx="3.9" ry="3.4" fill="#1f77b4"/><ellipse cx="943.16" cy="2104.97" rx="3.9" ry="3.4" fill="#1f77b4"/><ellipse cx="951.22" cy="2079.30" rx="3.9" ry="3.4" fill="#1f77b4"/><ellipse cx="959.27" cy="2106.08" rx="3.9" ry="3.4" fill="#1f77b4"/><ellipse cx="967.32" cy="2183.70" rx="3.9" ry="3.4" fill="#ff7f0e"/><ellipse cx="975.38" cy="2069.18" rx="3.9" ry="3.4" fill="#1f77b4"/><ellipse cx="983.43" cy="2147.38" rx="3.9" ry="3.4" fill="#ff7f0e"/><ellipse cx="991.48" cy="2113.05" rx="3.9" ry="3.4" fill="#ff7f0e"/><ellipse cx="999.54" cy="2114.27" rx="3.9" ry="3.4" fill="#ff7f0e"/><ellipse cx="1007.59" cy="2083.52" rx="3.9" ry="3.4" fill="#1f77b4"/><ellipse cx="1015.64" cy="2052.38" rx="3.9" ry="3.4" fill="#1f77b4"/><ellipse cx="1023.69" cy="2126.06" rx="3.9" ry="3.4" fill="#ff7f0e"/><ellipse cx="1031.75" cy="2074.48" rx="3.9" ry="3.4" fill="#1f77b4"/><ellipse cx="1039.80" cy="2195.00" rx="3.9" ry="3.4" fill="#ff7f0e"/><ellipse cx="1047.85" cy="2106.08" rx="3.9" ry="3.4" fill="#ff7f0e"/><ellipse cx="1055.91" cy="2279.60" rx="3.9" ry="3.4" fill="#ff7f0e"/><ellipse cx="234.50" cy="2418.35" rx="3.9" ry="3.4" fill="#1f77b4"/><ellipse cx="242.55" cy="2447.71" rx="3.9" ry="3.4" fill="#1f77b4"/><ellipse cx="250.61" cy="2432.26" rx="3.9" ry="3.4" fill="#1f77b4"/><ellipse cx="258.66" cy="2400.12" rx="3.9" ry="3.4" fill="#1f77b4"/><ellipse cx="266.71" cy="2460.38" rx="3.9" ry="3.4" fill="#1f77b4"/><ellipse cx="274.76" cy="2404.45" rx="3.9" ry="3.4" fill="#1f77b4"/><ellipse cx="282.82" cy="2416.81" rx="3.9" ry="3.4" fill="#1f77b4"/><ellipse cx="290.87" cy="2457.59" rx="3.9" ry="3.4" fill="#1f77b4"/><ellipse cx="298.92" cy="2457.59" rx="3.9" ry="3.4" fill="#1f77b4"/><ellipse cx="306.98" cy="2471.81" rx="3.9" ry="3.4" fill="#1f77b4"/><ellipse cx="315.03" cy="2473.04" rx="3.9" ry="3.4" fill="#ff7f0e"/><ellipse cx="323.08" cy="2447.71" rx="3.9" ry="3.4" fill="#1f77b4"/><ellipse cx="331.14" cy="2380.65" rx="3.9" ry="3.4" fill="#1f77b4"/><ellipse cx="339.19" cy="2471.81" rx="3.9" ry="3.4" fill="#1f77b4"/><ellipse cx="347.24" cy="2463.16" rx="3.9" ry="3.4" fill="#1f77b4"/><ellipse cx="355.30" cy="2454.81" rx="3.9" ry="3.4" fill="#1f77b4"/><ellipse cx="363.35" cy="2433.80" rx="3.9" ry="3.4" fill="#1f77b4"/><ellipse cx="371.40" cy="2453.27" rx="3.9" ry="3.4" fill="#1f77b4"/><ellipse cx="379.45" cy="2452.03" rx="3.9" ry="3.4" fill="#ff7f0e"/><ellipse cx="387.51" cy="2456.05" rx="3.9" ry="3.4" fill="#1f77b4"/><ellipse cx="395.56" cy="2457.59" rx="3.9" ry="3.4" fill="#1f77b4"/><ellipse cx="403.61" cy="2460.38" rx="3.9" ry="3.4" fill="#1f77b4"/><ellipse cx="411.67" cy="2435.04" rx="3.9" ry="3.4" fill="#1f77b4"/><ellipse cx="419.72" cy="2372.31" rx="3.9" ry="3.4" fill="#1f77b4"/><ellipse cx="427.77" cy="2415.57" rx="3.9" ry="3.4" fill="#1f77b4"/><ellipse cx="435.83" cy="2471.50" rx="3.9" ry="3.4" fill="#1f77b4"/><ellipse cx="443.88" cy="2405.68" rx="3.9" ry="3.4" fill="#1f77b4"/><ellipse cx="451.93" cy="2460.38" rx="3.9" ry="3.4" fill="#1f77b4"/><ellipse cx="459.98" cy="2510.43" rx="3.9" ry="3.4" fill="#ff7f0e"/><ellipse cx="468.04" cy="2458.83" rx="3.9" ry="3.4" fill="#1f77b4"/><ellipse cx="476.09" cy="2380.65" rx="3.9" ry="3.4" fill="#1f77b4"/><ellipse cx="484.14" cy="2383.43" rx="3.9" ry="3.4" fill="#1f77b4"/><ellipse cx="492.20" cy="2419.90" rx="3.9" ry="3.4" fill="#1f77b4"/><ellipse cx="500.25" cy="2423.91" rx="3.9" ry="3.4" fill="#1f77b4"/><ellipse cx="508.30" cy="2416.81" rx="3.9" ry="3.4" fill="#1f77b4"/><ellipse cx="516.36" cy="2384.98" rx="3.9" ry="3.4" fill="#1f77b4"/><ellipse cx="524.41" cy="2408.77" rx="3.9" ry="3.4" fill="#1f77b4"/><ellipse cx="532.46" cy="2405.68" rx="3.9" ry="3.4" fill="#1f77b4"/><ellipse cx="540.51" cy="2479.84" rx="3.9" ry="3.4" fill="#1f77b4"/><ellipse cx="548.57" cy="2454.81" rx="3.9" ry="3.4" fill="#1f77b4"/><ellipse cx="556.62" cy="2437.82" rx="3.9" ry="3.4" fill="#1f77b4"/><ellipse cx="564.67" cy="2465.94" rx="3.9" ry="3.4" fill="#1f77b4"/><ellipse cx="572.73" cy="2418.35" rx="3.9" ry="3.4" fill="#1f77b4"/><ellipse cx="580.78" cy="2463.16" rx="3.9" ry="3.4" fill="#1f77b4"/><ellipse cx="588.83" cy="2442.14" rx="3.9" ry="3.4" fill="#1f77b4"/><ellipse cx="596.88" cy="2425.46" rx="3.9" ry="3.4" fill="#1f77b4"/><ellipse cx="604.94" cy="2391.78" rx="3.9" ry="3.4" fill="#1f77b4"/><ellipse cx="612.99" cy="2449.25" rx="3.9" ry="3.4" fill="#1f77b4"/><ellipse cx="621.04" cy="2458.83" rx="3.9" ry="3.4" fill="#1f77b4"/><ellipse cx="629.10" cy="2402.90" rx="3.9" ry="3.4" fill="#1f77b4"/><ellipse cx="637.15" cy="2344.50" rx="3.9" ry="3.4" fill="#1f77b4"/><ellipse cx="645.20" cy="2468.41" rx="3.9" ry="3.4" fill="#1f77b4"/><ellipse cx="653.26" cy="2465.63" rx="3.9" ry="3.4" fill="#1f77b4"/><ellipse cx="661.31" cy="2420.82" rx="3.9" ry="3.4" fill="#1f77b4"/><ellipse cx="669.36" cy="2422.06" rx="3.9" ry="3.4" fill="#1f77b4"/><ellipse cx="677.41" cy="2455.74" rx="3.9" ry="3.4" fill="#1f77b4"/><ellipse cx="685.47" cy="2448.94" rx="3.9" ry="3.4" fill="#1f77b4"/><ellipse cx="693.52" cy="2426.08" rx="3.9" ry="3.4" fill="#1f77b4"/><ellipse cx="701.57" cy="2489.42" rx="3.9" ry="3.4" fill="#ff7f0e"/><ellipse cx="709.63" cy="2406.30" rx="3.9" ry="3.4" fill="#1f77b4"/><ellipse cx="717.68" cy="2438.75" rx="3.9" ry="3.4" fill="#1f77b4"/><ellipse cx="725.73" cy="2412.17" rx="3.9" ry="3.4" fill="#1f77b4"/><ellipse cx="733.79" cy="2456.98" rx="3.9" ry="3.4" fill="#1f77b4"/><ellipse cx="741.84" cy="2391.16" rx="3.9" ry="3.4" fill="#1f77b4"/><ellipse cx="749.89" cy="2441.84" rx="3.9" ry="3.4" fill="#1f77b4"/><ellipse cx="757.95" cy="2445.85" rx="3.9" ry="3.4" fill="#1f77b4"/><ellipse cx="766.00" cy="2430.40" rx="3.9" ry="3.4" fill="#1f77b4"/><ellipse cx="774.05" cy="2468.41" rx="3.9" ry="3.4" fill="#1f77b4"/><ellipse cx="782.10" cy="2420.82" rx="3.9" ry="3.4" fill="#1f77b4"/><ellipse cx="790.16" cy="2423.60" rx="3.9" ry="3.4" fill="#1f77b4"/><ellipse cx="798.21" cy="2407.85" rx="3.9" ry="3.4" fill="#1f77b4"/><ellipse cx="806.26" cy="2434.73" rx="3.9" ry="3.4" fill="#1f77b4"/><ellipse cx="814.32" cy="2423.60" rx="3.9" ry="3.4" fill="#1f77b4"/><ellipse cx="822.37" cy="2424.84" rx="3.9" ry="3.4" fill="#1f77b4"/><ellipse cx="830.42" cy="2450.18" rx="3.9" ry="3.4" fill="#1f77b4"/><ellipse cx="838.48" cy="2440.29" rx="3.9" ry="3.4" fill="#1f77b4"/><ellipse cx="846.53" cy="2397.96" rx="3.9" ry="3.4" fill="#1f77b4"/><ellipse cx="854.58" cy="2462.85" rx="3.9" ry="3.4" fill="#1f77b4"/><ellipse cx="862.63" cy="2441.22" rx="3.9" ry="3.4" fill="#1f77b4"/><ellipse cx="870.69" cy="2447.40" rx="3.9" ry="3.4" fill="#1f77b4"/><ellipse cx="878.74" cy="2496.53" rx="3.9" ry="3.4" fill="#ff7f0e"/><ellipse cx="886.79" cy="2426.39" rx="3.9" ry="3.4" fill="#1f77b4"/><ellipse cx="894.85" cy="2419.28" rx="3.9" ry="3.4" fill="#1f77b4"/><ellipse cx="902.90" cy="2492.20" rx="3.9" ry="3.4" fill="#ff7f0e"/><ellipse cx="910.95" cy="2433.49" rx="3.9" ry="3.4" fill="#1f77b4"/><ellipse cx="919.01" cy="2414.95" rx="3.9" ry="3.4" fill="#1f77b4"/><ellipse cx="927.06" cy="2410.63" rx="3.9" ry="3.4" fill="#1f77b4"/><ellipse cx="935.11" cy="2410.63" rx="3.9" ry="3.4" fill="#1f77b4"/><ellipse cx="943.16" cy="2465.63" rx="3.9" ry="3.4" fill="#1f77b4"/><ellipse cx="951.22" cy="2435.96" rx="3.9" ry="3.4" fill="#1f77b4"/><ellipse cx="959.27" cy="2466.86" rx="3.9" ry="3.4" fill="#1f77b4"/><ellipse cx="967.32" cy="2524.34" rx="3.9" ry="3.4" fill="#ff7f0e"/><ellipse cx="975.38" cy="2422.06" rx="3.9" ry="3.4" fill="#1f77b4"/><ellipse cx="983.43" cy="2510.43" rx="3.9" ry="3.4" fill="#ff7f0e"/><ellipse cx="991.48" cy="2492.20" rx="3.9" ry="3.4" fill="#ff7f0e"/><ellipse cx="999.54" cy="2489.42" rx="3.9" ry="3.4" fill="#ff7f0e"/><ellipse cx="1007.59" cy="2468.41" rx="3.9" ry="3.4" fill="#1f77b4"/><ellipse cx="1015.64" cy="2430.40" rx="3.9" ry="3.4" fill="#1f77b4"/><ellipse cx="1023.69" cy="2506.11" rx="3.9" ry="3.4" fill="#ff7f0e"/><ellipse cx="1031.75" cy="2473.66" rx="3.9" ry="3.4" fill="#1f77b4"/><ellipse cx="1039.80" cy="2537.32" rx="3.9" ry="3.4" fill="#ff7f0e"/><ellipse cx="1047.85" cy="2503.33" rx="3.9" ry="3.4" fill="#ff7f0e"/><ellipse cx="1055.91" cy="2551.22" rx="3.9" ry="3.4" fill="#ff7f0e"/><ellipse cx="1063.96" cy="2572.85" rx="3.9" ry="3.4" fill="#ff7f0e"/><rect x="1290.40" y="1826.56" width="5" height="35.50" fill="#1f77b4"/><ellipse cx="1292.90" cy="1844.31" rx="4.7" ry="4.2" fill="#1f77b4"/><rect x="1298.45" y="1820.90" width="5" height="46.72" fill="#1f77b4"/><ellipse cx="1300.95" cy="1844.26" rx="4.7" ry="4.2" fill="#1f77b4"/><rect x="1306.51" y="1797.68" width="5" height="51.04" fill="#1f77b4"/><ellipse cx="1309.01" cy="1823.20" rx="4.7" ry="4.2" fill="#1f77b4"/><rect x="1314.56" y="1786.18" width="5" height="46.72" fill="#1f77b4"/><ellipse cx="1317.06" cy="1809.54" rx="4.7" ry="4.2" fill="#1f77b4"/><rect x="1322.61" y="1825.59" width="5" height="48.62" fill="#1f77b4"/><ellipse cx="1325.11" cy="1849.90" rx="4.7" ry="4.2" fill="#1f77b4"/><rect x="1330.67" y="1794.68" width="5" height="43.86" fill="#1f77b4"/><ellipse cx="1333.17" cy="1816.61" rx="4.7" ry="4.2" fill="#1f77b4"/><rect x="1338.72" y="1806.92" width="5" height="41.95" fill="#1f77b4"/><ellipse cx="1341.22" cy="1827.89" rx="4.7" ry="4.2" fill="#1f77b4"/><rect x="1346.77" y="1825.03" width="5" height="48.62" fill="#1f77b4"/><ellipse cx="1349.27" cy="1849.34" rx="4.7" ry="4.2" fill="#1f77b4"/><rect x="1354.82" y="1827.89" width="5" height="46.72" fill="#1f77b4"/><ellipse cx="1357.32" cy="1851.25" rx="4.7" ry="4.2" fill="#1f77b4"/><rect x="1362.88" y="1838.14" width="5" height="46.72" fill="#1f77b4"/><ellipse cx="1365.38" cy="1861.50" rx="4.7" ry="4.2" fill="#1f77b4"/><rect x="1370.93" y="1825.59" width="5" height="55.14" fill="#1f77b4"/><ellipse cx="1373.43" cy="1853.16" rx="4.7" ry="4.2" fill="#1f77b4"/><rect x="1378.98" y="1820.90" width="5" height="46.72" fill="#1f77b4"/><ellipse cx="1381.48" cy="1844.26" rx="4.7" ry="4.2" fill="#1f77b4"/><rect x="1387.04" y="1767.67" width="5" height="46.40" fill="#1f77b4"/><ellipse cx="1389.54" cy="1790.87" rx="4.7" ry="4.2" fill="#1f77b4"/><rect x="1395.09" y="1845.69" width="5" height="42.90" fill="#1f77b4"/><ellipse cx="1397.59" cy="1867.14" rx="4.7" ry="4.2" fill="#1f77b4"/><rect x="1403.14" y="1841.40" width="5" height="41.95" fill="#1f77b4"/><ellipse cx="1405.64" cy="1862.37" rx="4.7" ry="4.2" fill="#1f77b4"/><rect x="1411.20" y="1825.03" width="5" height="46.72" fill="#1f77b4"/><ellipse cx="1413.70" cy="1848.39" rx="4.7" ry="4.2" fill="#1f77b4"/><rect x="1419.25" y="1812.96" width="5" height="44.81" fill="#1f77b4"/><ellipse cx="1421.75" cy="1835.36" rx="4.7" ry="4.2" fill="#1f77b4"/><rect x="1427.30" y="1829.32" width="5" height="43.86" fill="#1f77b4"/><ellipse cx="1429.80" cy="1851.25" rx="4.7" ry="4.2" fill="#1f77b4"/><rect x="1435.35" y="1835.04" width="5" height="41.00" fill="#1f77b4"/><ellipse cx="1437.85" cy="1855.54" rx="4.7" ry="4.2" fill="#1f77b4"/><rect x="1443.41" y="1847.02" width="5" height="38.33" fill="#1f77b4"/><ellipse cx="1445.91" cy="1866.19" rx="4.7" ry="4.2" fill="#1f77b4"/><rect x="1451.46" y="1840.13" width="5" height="42.90" fill="#1f77b4"/><ellipse cx="1453.96" cy="1861.58" rx="4.7" ry="4.2" fill="#1f77b4"/><rect x="1459.51" y="1842.35" width="5" height="40.04" fill="#1f77b4"/><ellipse cx="1462.01" cy="1862.37" rx="4.7" ry="4.2" fill="#1f77b4"/><rect x="1467.57" y="1825.10" width="5" height="41.00" fill="#1f77b4"/><ellipse cx="1470.07" cy="1845.59" rx="4.7" ry="4.2" fill="#1f77b4"/><rect x="1475.62" y="1789.52" width="5" height="39.25" fill="#1f77b4"/><ellipse cx="1478.12" cy="1809.14" rx="4.7" ry="4.2" fill="#1f77b4"/><rect x="1483.67" y="1816.69" width="5" height="39.25" fill="#1f77b4"/><ellipse cx="1486.17" cy="1836.31" rx="4.7" ry="4.2" fill="#1f77b4"/><rect x="1491.73" y="1852.28" width="5" height="40.04" fill="#1f77b4"/><ellipse cx="1494.23" cy="1872.30" rx="4.7" ry="4.2" fill="#1f77b4"/><rect x="1499.78" y="1802.71" width="5" height="41.00" fill="#1f77b4"/><ellipse cx="1502.28" cy="1823.20" rx="4.7" ry="4.2" fill="#1f77b4"/><rect x="1507.83" y="1809.30" width="5" height="55.93" fill="#1f77b4"/><ellipse cx="1510.33" cy="1837.27" rx="4.7" ry="4.2" fill="#1f77b4"/><rect x="1515.88" y="1868.95" width="5" height="46.72" fill="#1f77b4"/><ellipse cx="1518.38" cy="1892.31" rx="4.7" ry="4.2" fill="#1f77b4"/><rect x="1523.94" y="1833.98" width="5" height="43.86" fill="#1f77b4"/><ellipse cx="1526.44" cy="1855.91" rx="4.7" ry="4.2" fill="#1f77b4"/><rect x="1531.99" y="1792.38" width="5" height="39.25" fill="#1f77b4"/><ellipse cx="1534.49" cy="1812.00" rx="4.7" ry="4.2" fill="#1f77b4"/><rect x="1540.04" y="1789.12" width="5" height="41.95" fill="#1f77b4"/><ellipse cx="1542.54" cy="1810.09" rx="4.7" ry="4.2" fill="#1f77b4"/><rect x="1548.10" y="1798.88" width="5" height="46.72" fill="#1f77b4"/><ellipse cx="1550.60" cy="1822.23" rx="4.7" ry="4.2" fill="#1f77b4"/><rect x="1556.15" y="1814.70" width="5" height="41.95" fill="#1f77b4"/><ellipse cx="1558.65" cy="1835.68" rx="4.7" ry="4.2" fill="#1f77b4"/><rect x="1564.20" y="1800.32" width="5" height="45.76" fill="#1f77b4"/><ellipse cx="1566.70" cy="1823.20" rx="4.7" ry="4.2" fill="#1f77b4"/><rect x="1572.26" y="1788.64" width="5" height="41.00" fill="#1f77b4"/><ellipse cx="1574.76" cy="1809.14" rx="4.7" ry="4.2" fill="#1f77b4"/><rect x="1580.31" y="1798.97" width="5" height="42.90" fill="#1f77b4"/><ellipse cx="1582.81" cy="1820.42" rx="4.7" ry="4.2" fill="#1f77b4"/><rect x="1588.36" y="1809.22" width="5" height="39.25" fill="#1f77b4"/><ellipse cx="1590.86" cy="1828.85" rx="4.7" ry="4.2" fill="#1f77b4"/><rect x="1596.41" y="1852.74" width="5" height="42.90" fill="#1f77b4"/><ellipse cx="1598.91" cy="1874.20" rx="4.7" ry="4.2" fill="#1f77b4"/><rect x="1604.47" y="1833.14" width="5" height="43.86" fill="#1f77b4"/><ellipse cx="1606.97" cy="1855.06" rx="4.7" ry="4.2" fill="#1f77b4"/><rect x="1612.52" y="1829.32" width="5" height="40.04" fill="#1f77b4"/><ellipse cx="1615.02" cy="1849.34" rx="4.7" ry="4.2" fill="#1f77b4"/><rect x="1620.57" y="1838.70" width="5" height="44.81" fill="#1f77b4"/><ellipse cx="1623.07" cy="1861.10" rx="4.7" ry="4.2" fill="#1f77b4"/><rect x="1628.63" y="1806.04" width="5" height="42.90" fill="#1f77b4"/><ellipse cx="1631.13" cy="1827.49" rx="4.7" ry="4.2" fill="#1f77b4"/><rect x="1636.68" y="1845.58" width="5" height="40.04" fill="#1f77b4"/><ellipse cx="1639.18" cy="1865.60" rx="4.7" ry="4.2" fill="#1f77b4"/><rect x="1644.73" y="1832.09" width="5" height="40.04" fill="#1f77b4"/><ellipse cx="1647.23" cy="1852.11" rx="4.7" ry="4.2" fill="#1f77b4"/><rect x="1652.79" y="1820.38" width="5" height="39.25" fill="#1f77b4"/><ellipse cx="1655.29" cy="1840.00" rx="4.7" ry="4.2" fill="#1f77b4"/><rect x="1660.84" y="1815.66" width="5" height="33.69" fill="#1f77b4"/><ellipse cx="1663.34" cy="1832.50" rx="4.7" ry="4.2" fill="#1f77b4"/><rect x="1668.89" y="1844.78" width="5" height="36.45" fill="#ff7f0e"/><ellipse cx="1671.39" cy="1863.01" rx="4.7" ry="4.2" fill="#ff7f0e"/><rect x="1676.94" y="1855.41" width="5" height="34.58" fill="#1f77b4"/><ellipse cx="1679.44" cy="1872.70" rx="4.7" ry="4.2" fill="#1f77b4"/><rect x="1685.00" y="1825.56" width="5" height="33.69" fill="#1f77b4"/><ellipse cx="1687.50" cy="1842.40" rx="4.7" ry="4.2" fill="#1f77b4"/><rect x="1693.05" y="1788.69" width="5" height="35.50" fill="#1f77b4"/><ellipse cx="1695.55" cy="1806.44" rx="4.7" ry="4.2" fill="#1f77b4"/><rect x="1701.10" y="1835.04" width="5" height="47.03" fill="#1f77b4"/><ellipse cx="1703.60" cy="1858.56" rx="4.7" ry="4.2" fill="#1f77b4"/><rect x="1709.16" y="1836.00" width="5" height="44.81" fill="#1f77b4"/><ellipse cx="1711.66" cy="1858.40" rx="4.7" ry="4.2" fill="#1f77b4"/><rect x="1717.21" y="1809.78" width="5" height="41.95" fill="#1f77b4"/><ellipse cx="1719.71" cy="1830.75" rx="4.7" ry="4.2" fill="#1f77b4"/><rect x="1725.26" y="1811.21" width="5" height="41.00" fill="#1f77b4"/><ellipse cx="1727.76" cy="1831.71" rx="4.7" ry="4.2" fill="#1f77b4"/><rect x="1733.32" y="1826.94" width="5" height="45.76" fill="#1f77b4"/><ellipse cx="1735.82" cy="1849.82" rx="4.7" ry="4.2" fill="#1f77b4"/><rect x="1741.37" y="1831.71" width="5" height="41.95" fill="#1f77b4"/><ellipse cx="1743.87" cy="1852.68" rx="4.7" ry="4.2" fill="#1f77b4"/><rect x="1749.42" y="1825.98" width="5" height="38.14" fill="#1f77b4"/><ellipse cx="1751.92" cy="1845.05" rx="4.7" ry="4.2" fill="#1f77b4"/><rect x="1757.47" y="1861.80" width="5" height="41.00" fill="#1f77b4"/><ellipse cx="1759.97" cy="1882.30" rx="4.7" ry="4.2" fill="#1f77b4"/><rect x="1765.53" y="1783.00" width="5" height="49.58" fill="#1f77b4"/><ellipse cx="1768.03" cy="1807.79" rx="4.7" ry="4.2" fill="#1f77b4"/><rect x="1773.58" y="1818.83" width="5" height="44.81" fill="#1f77b4"/><ellipse cx="1776.08" cy="1841.24" rx="4.7" ry="4.2" fill="#1f77b4"/><rect x="1781.63" y="1815.02" width="5" height="39.09" fill="#1f77b4"/><ellipse cx="1784.13" cy="1834.57" rx="4.7" ry="4.2" fill="#1f77b4"/><rect x="1789.69" y="1842.67" width="5" height="39.09" fill="#1f77b4"/><ellipse cx="1792.19" cy="1862.21" rx="4.7" ry="4.2" fill="#1f77b4"/><rect x="1797.74" y="1796.91" width="5" height="39.09" fill="#1f77b4"/><ellipse cx="1800.24" cy="1816.45" rx="4.7" ry="4.2" fill="#1f77b4"/><rect x="1805.79" y="1823.60" width="5" height="42.90" fill="#1f77b4"/><ellipse cx="1808.29" cy="1845.05" rx="4.7" ry="4.2" fill="#1f77b4"/><rect x="1813.85" y="1809.78" width="5" height="49.58" fill="#1f77b4"/><ellipse cx="1816.35" cy="1834.57" rx="4.7" ry="4.2" fill="#1f77b4"/><rect x="1821.90" y="1811.68" width="5" height="43.86" fill="#1f77b4"/><ellipse cx="1824.40" cy="1833.61" rx="4.7" ry="4.2" fill="#1f77b4"/><rect x="1829.95" y="1836.55" width="5" height="46.72" fill="#1f77b4"/><ellipse cx="1832.45" cy="1859.91" rx="4.7" ry="4.2" fill="#1f77b4"/><rect x="1838.00" y="1806.44" width="5" height="42.90" fill="#1f77b4"/><ellipse cx="1840.50" cy="1827.89" rx="4.7" ry="4.2" fill="#1f77b4"/><rect x="1846.06" y="1794.05" width="5" height="48.62" fill="#1f77b4"/><ellipse cx="1848.56" cy="1818.36" rx="4.7" ry="4.2" fill="#1f77b4"/><rect x="1854.11" y="1794.92" width="5" height="44.81" fill="#1f77b4"/><ellipse cx="1856.61" cy="1817.32" rx="4.7" ry="4.2" fill="#1f77b4"/><rect x="1862.16" y="1823.60" width="5" height="41.00" fill="#1f77b4"/><ellipse cx="1864.66" cy="1844.10" rx="4.7" ry="4.2" fill="#1f77b4"/><rect x="1870.22" y="1806.44" width="5" height="44.81" fill="#1f77b4"/><ellipse cx="1872.72" cy="1828.85" rx="4.7" ry="4.2" fill="#1f77b4"/><rect x="1878.27" y="1825.03" width="5" height="38.14" fill="#1f77b4"/><ellipse cx="1880.77" cy="1844.10" rx="4.7" ry="4.2" fill="#1f77b4"/><rect x="1886.32" y="1827.41" width="5" height="44.81" fill="#1f77b4"/><ellipse cx="1888.82" cy="1849.82" rx="4.7" ry="4.2" fill="#1f77b4"/><rect x="1894.38" y="1824.08" width="5" height="41.95" fill="#1f77b4"/><ellipse cx="1896.88" cy="1845.05" rx="4.7" ry="4.2" fill="#1f77b4"/><rect x="1902.43" y="1800.24" width="5" height="40.04" fill="#1f77b4"/><ellipse cx="1904.93" cy="1820.26" rx="4.7" ry="4.2" fill="#1f77b4"/><rect x="1910.48" y="1830.43" width="5" height="47.67" fill="#1f77b4"/><ellipse cx="1912.98" cy="1854.27" rx="4.7" ry="4.2" fill="#1f77b4"/><rect x="1918.53" y="1822.65" width="5" height="42.90" fill="#ff7f0e"/><ellipse cx="1921.03" cy="1844.10" rx="4.7" ry="4.2" fill="#ff7f0e"/><rect x="1926.59" y="1828.37" width="5" height="42.90" fill="#1f77b4"/><ellipse cx="1929.09" cy="1849.82" rx="4.7" ry="4.2" fill="#1f77b4"/><rect x="1934.64" y="1853.16" width="5" height="49.58" fill="#1f77b4"/><ellipse cx="1937.14" cy="1877.95" rx="4.7" ry="4.2" fill="#1f77b4"/><rect x="1942.69" y="1784.91" width="5" height="53.39" fill="#1f77b4"/><ellipse cx="1945.19" cy="1811.60" rx="4.7" ry="4.2" fill="#1f77b4"/><rect x="1950.75" y="1784.99" width="5" height="51.48" fill="#1f77b4"/><ellipse cx="1953.25" cy="1810.73" rx="4.7" ry="4.2" fill="#1f77b4"/><rect x="1958.80" y="1828.37" width="5" height="61.97" fill="#1f77b4"/><ellipse cx="1961.30" cy="1859.35" rx="4.7" ry="4.2" fill="#1f77b4"/><rect x="1966.85" y="1792.62" width="5" height="53.39" fill="#1f77b4"/><ellipse cx="1969.35" cy="1819.31" rx="4.7" ry="4.2" fill="#1f77b4"/><rect x="1974.91" y="1773.55" width="5" height="53.39" fill="#1f77b4"/><ellipse cx="1977.41" cy="1800.24" rx="4.7" ry="4.2" fill="#1f77b4"/><rect x="1982.96" y="1787.77" width="5" height="47.67" fill="#1f77b4"/><ellipse cx="1985.46" cy="1811.60" rx="4.7" ry="4.2" fill="#1f77b4"/><rect x="1991.01" y="1790.63" width="5" height="45.76" fill="#1f77b4"/><ellipse cx="1993.51" cy="1813.51" rx="4.7" ry="4.2" fill="#1f77b4"/><rect x="1999.06" y="1830.75" width="5" height="47.67" fill="#1f77b4"/><ellipse cx="2001.56" cy="1854.59" rx="4.7" ry="4.2" fill="#1f77b4"/><rect x="2007.12" y="1804.06" width="5" height="49.58" fill="#1f77b4"/><ellipse cx="2009.62" cy="1828.85" rx="4.7" ry="4.2" fill="#1f77b4"/><rect x="2015.17" y="1831.23" width="5" height="48.62" fill="#1f77b4"/><ellipse cx="2017.67" cy="1855.54" rx="4.7" ry="4.2" fill="#1f77b4"/><rect x="2023.22" y="1871.43" width="5" height="56.25" fill="#1f77b4"/><ellipse cx="2025.72" cy="1899.56" rx="4.7" ry="4.2" fill="#1f77b4"/><rect x="2031.28" y="1791.66" width="5" height="49.58" fill="#1f77b4"/><ellipse cx="2033.78" cy="1816.45" rx="4.7" ry="4.2" fill="#1f77b4"/><rect x="2039.33" y="1855.54" width="5" height="56.25" fill="#1f77b4"/><ellipse cx="2041.83" cy="1883.67" rx="4.7" ry="4.2" fill="#1f77b4"/><rect x="2047.38" y="1830.75" width="5" height="61.02" fill="#1f77b4"/><ellipse cx="2049.88" cy="1861.26" rx="4.7" ry="4.2" fill="#1f77b4"/><rect x="2055.44" y="1833.61" width="5" height="57.20" fill="#1f77b4"/><ellipse cx="2057.94" cy="1862.21" rx="4.7" ry="4.2" fill="#1f77b4"/><rect x="2063.49" y="1802.15" width="5" height="62.92" fill="#1f77b4"/><ellipse cx="2065.99" cy="1833.61" rx="4.7" ry="4.2" fill="#1f77b4"/><rect x="2071.54" y="1760.04" width="5" height="64.83" fill="#1f77b4"/><ellipse cx="2074.04" cy="1792.46" rx="4.7" ry="4.2" fill="#1f77b4"/><rect x="2079.59" y="1837.90" width="5" height="65.78" fill="#1f77b4"/><ellipse cx="2082.09" cy="1870.79" rx="4.7" ry="4.2" fill="#1f77b4"/><rect x="2087.65" y="1784.99" width="5" height="76.27" fill="#1f77b4"/><ellipse cx="2090.15" cy="1823.12" rx="4.7" ry="4.2" fill="#1f77b4"/><rect x="2095.70" y="1865.65" width="5" height="75.32" fill="#1f77b4"/><ellipse cx="2098.20" cy="1903.31" rx="4.7" ry="4.2" fill="#1f77b4"/><rect x="2103.75" y="1815.50" width="5" height="80.09" fill="#1f77b4"/><ellipse cx="2106.25" cy="1855.54" rx="4.7" ry="4.2" fill="#1f77b4"/><rect x="2111.81" y="1883.98" width="5" height="72.46" fill="#1f77b4"/><ellipse cx="2114.31" cy="1920.21" rx="4.7" ry="4.2" fill="#1f77b4"/><rect x="2119.86" y="1907.50" width="5" height="79.45" fill="#1f77b4"/><ellipse cx="2122.36" cy="1947.23" rx="4.7" ry="4.2" fill="#1f77b4"/><ellipse cx="1292.90" cy="2093.80" rx="3.9" ry="3.4" fill="#1f77b4"/><ellipse cx="1300.95" cy="2093.75" rx="3.9" ry="3.4" fill="#1f77b4"/><ellipse cx="1309.01" cy="2074.55" rx="3.9" ry="3.4" fill="#1f77b4"/><ellipse cx="1317.06" cy="2064.00" rx="3.9" ry="3.4" fill="#1f77b4"/><ellipse cx="1325.11" cy="2099.70" rx="3.9" ry="3.4" fill="#1f77b4"/><ellipse cx="1333.17" cy="2069.30" rx="3.9" ry="3.4" fill="#1f77b4"/><ellipse cx="1341.22" cy="2078.48" rx="3.9" ry="3.4" fill="#1f77b4"/><ellipse cx="1349.27" cy="2099.10" rx="3.9" ry="3.4" fill="#1f77b4"/><ellipse cx="1357.32" cy="2101.18" rx="3.9" ry="3.4" fill="#1f77b4"/><ellipse cx="1365.38" cy="2113.35" rx="3.9" ry="3.4" fill="#1f77b4"/><ellipse cx="1373.43" cy="2103.33" rx="3.9" ry="3.4" fill="#1f77b4"/><ellipse cx="1381.48" cy="2093.75" rx="3.9" ry="3.4" fill="#1f77b4"/><ellipse cx="1389.54" cy="2051.38" rx="3.9" ry="3.4" fill="#1f77b4"/><ellipse cx="1397.59" cy="2120.85" rx="3.9" ry="3.4" fill="#1f77b4"/><ellipse cx="1405.64" cy="2114.47" rx="3.9" ry="3.4" fill="#1f77b4"/><ellipse cx="1413.70" cy="2098.07" rx="3.9" ry="3.4" fill="#1f77b4"/><ellipse cx="1421.75" cy="2085.12" rx="3.9" ry="3.4" fill="#1f77b4"/><ellipse cx="1429.80" cy="2101.18" rx="3.9" ry="3.4" fill="#1f77b4"/><ellipse cx="1437.85" cy="2106.08" rx="3.9" ry="3.4" fill="#1f77b4"/><ellipse cx="1445.91" cy="2119.53" rx="3.9" ry="3.4" fill="#1f77b4"/><ellipse cx="1453.96" cy="2113.45" rx="3.9" ry="3.4" fill="#1f77b4"/><ellipse cx="1462.01" cy="2114.47" rx="3.9" ry="3.4" fill="#1f77b4"/><ellipse cx="1470.07" cy="2095.12" rx="3.9" ry="3.4" fill="#1f77b4"/><ellipse cx="1478.12" cy="2063.72" rx="3.9" ry="3.4" fill="#1f77b4"/><ellipse cx="1486.17" cy="2086.01" rx="3.9" ry="3.4" fill="#1f77b4"/><ellipse cx="1494.23" cy="2128.31" rx="3.9" ry="3.4" fill="#1f77b4"/><ellipse cx="1502.28" cy="2074.55" rx="3.9" ry="3.4" fill="#1f77b4"/><ellipse cx="1510.33" cy="2086.90" rx="3.9" ry="3.4" fill="#1f77b4"/><ellipse cx="1518.38" cy="2165.27" rx="3.9" ry="3.4" fill="#1f77b4"/><ellipse cx="1526.44" cy="2106.51" rx="3.9" ry="3.4" fill="#1f77b4"/><ellipse cx="1534.49" cy="2065.81" rx="3.9" ry="3.4" fill="#1f77b4"/><ellipse cx="1542.54" cy="2064.41" rx="3.9" ry="3.4" fill="#1f77b4"/><ellipse cx="1550.60" cy="2073.76" rx="3.9" ry="3.4" fill="#1f77b4"/><ellipse cx="1558.65" cy="2085.42" rx="3.9" ry="3.4" fill="#1f77b4"/><ellipse cx="1566.70" cy="2074.55" rx="3.9" ry="3.4" fill="#1f77b4"/><ellipse cx="1574.76" cy="2063.72" rx="3.9" ry="3.4" fill="#1f77b4"/><ellipse cx="1582.81" cy="2072.30" rx="3.9" ry="3.4" fill="#1f77b4"/><ellipse cx="1590.86" cy="2079.30" rx="3.9" ry="3.4" fill="#1f77b4"/><ellipse cx="1598.91" cy="2131.21" rx="3.9" ry="3.4" fill="#1f77b4"/><ellipse cx="1606.97" cy="2105.52" rx="3.9" ry="3.4" fill="#1f77b4"/><ellipse cx="1615.02" cy="2099.10" rx="3.9" ry="3.4" fill="#1f77b4"/><ellipse cx="1623.07" cy="2112.85" rx="3.9" ry="3.4" fill="#1f77b4"/><ellipse cx="1631.13" cy="2078.14" rx="3.9" ry="3.4" fill="#1f77b4"/><ellipse cx="1639.18" cy="2118.73" rx="3.9" ry="3.4" fill="#1f77b4"/><ellipse cx="1647.23" cy="2102.14" rx="3.9" ry="3.4" fill="#1f77b4"/><ellipse cx="1655.29" cy="2089.52" rx="3.9" ry="3.4" fill="#1f77b4"/><ellipse cx="1663.34" cy="2082.52" rx="3.9" ry="3.4" fill="#1f77b4"/><ellipse cx="1671.39" cy="2115.30" rx="3.9" ry="3.4" fill="#ff7f0e"/><ellipse cx="1679.44" cy="2128.91" rx="3.9" ry="3.4" fill="#1f77b4"/><ellipse cx="1687.50" cy="2091.88" rx="3.9" ry="3.4" fill="#1f77b4"/><ellipse cx="1695.55" cy="2061.78" rx="3.9" ry="3.4" fill="#1f77b4"/><ellipse cx="1703.60" cy="2109.69" rx="3.9" ry="3.4" fill="#1f77b4"/><ellipse cx="1711.66" cy="2109.49" rx="3.9" ry="3.4" fill="#1f77b4"/><ellipse cx="1719.71" cy="2080.96" rx="3.9" ry="3.4" fill="#1f77b4"/><ellipse cx="1727.76" cy="2081.81" rx="3.9" ry="3.4" fill="#1f77b4"/><ellipse cx="1735.82" cy="2099.61" rx="3.9" ry="3.4" fill="#1f77b4"/><ellipse cx="1743.87" cy="2102.79" rx="3.9" ry="3.4" fill="#1f77b4"/><ellipse cx="1751.92" cy="2094.57" rx="3.9" ry="3.4" fill="#1f77b4"/><ellipse cx="1759.97" cy="2144.85" rx="3.9" ry="3.4" fill="#1f77b4"/><ellipse cx="1768.03" cy="2062.74" rx="3.9" ry="3.4" fill="#1f77b4"/><ellipse cx="1776.08" cy="2090.73" rx="3.9" ry="3.4" fill="#1f77b4"/><ellipse cx="1784.13" cy="2084.39" rx="3.9" ry="3.4" fill="#1f77b4"/><ellipse cx="1792.19" cy="2114.27" rx="3.9" ry="3.4" fill="#1f77b4"/><ellipse cx="1800.24" cy="2069.18" rx="3.9" ry="3.4" fill="#1f77b4"/><ellipse cx="1808.29" cy="2094.57" rx="3.9" ry="3.4" fill="#1f77b4"/><ellipse cx="1816.35" cy="2084.39" rx="3.9" ry="3.4" fill="#1f77b4"/><ellipse cx="1824.40" cy="2083.52" rx="3.9" ry="3.4" fill="#1f77b4"/><ellipse cx="1832.45" cy="2111.35" rx="3.9" ry="3.4" fill="#1f77b4"/><ellipse cx="1840.50" cy="2078.48" rx="3.9" ry="3.4" fill="#1f77b4"/><ellipse cx="1848.56" cy="2070.66" rx="3.9" ry="3.4" fill="#1f77b4"/><ellipse cx="1856.61" cy="2069.86" rx="3.9" ry="3.4" fill="#1f77b4"/><ellipse cx="1864.66" cy="2093.59" rx="3.9" ry="3.4" fill="#1f77b4"/><ellipse cx="1872.72" cy="2079.30" rx="3.9" ry="3.4" fill="#1f77b4"/><ellipse cx="1880.77" cy="2093.59" rx="3.9" ry="3.4" fill="#1f77b4"/><ellipse cx="1888.82" cy="2099.61" rx="3.9" ry="3.4" fill="#1f77b4"/><ellipse cx="1896.88" cy="2094.57" rx="3.9" ry="3.4" fill="#1f77b4"/><ellipse cx="1904.93" cy="2072.17" rx="3.9" ry="3.4" fill="#1f77b4"/><ellipse cx="1912.98" cy="2104.60" rx="3.9" ry="3.4" fill="#1f77b4"/><ellipse cx="1921.03" cy="2093.59" rx="3.9" ry="3.4" fill="#ff7f0e"/><ellipse cx="1929.09" cy="2099.61" rx="3.9" ry="3.4" fill="#1f77b4"/><ellipse cx="1937.14" cy="2137.26" rx="3.9" ry="3.4" fill="#1f77b4"/><ellipse cx="1945.19" cy="2065.52" rx="3.9" ry="3.4" fill="#1f77b4"/><ellipse cx="1953.25" cy="2064.88" rx="3.9" ry="3.4" fill="#1f77b4"/><ellipse cx="1961.30" cy="2110.66" rx="3.9" ry="3.4" fill="#1f77b4"/><ellipse cx="1969.35" cy="2071.41" rx="3.9" ry="3.4" fill="#1f77b4"/><ellipse cx="1977.41" cy="2057.49" rx="3.9" ry="3.4" fill="#1f77b4"/><ellipse cx="1985.46" cy="2065.52" rx="3.9" ry="3.4" fill="#1f77b4"/><ellipse cx="1993.51" cy="2066.94" rx="3.9" ry="3.4" fill="#1f77b4"/><ellipse cx="2001.56" cy="2104.97" rx="3.9" ry="3.4" fill="#1f77b4"/><ellipse cx="2009.62" cy="2079.30" rx="3.9" ry="3.4" fill="#1f77b4"/><ellipse cx="2017.67" cy="2106.08" rx="3.9" ry="3.4" fill="#1f77b4"/><ellipse cx="2025.72" cy="2183.70" rx="3.9" ry="3.4" fill="#1f77b4"/><ellipse cx="2033.78" cy="2069.18" rx="3.9" ry="3.4" fill="#1f77b4"/><ellipse cx="2041.83" cy="2147.38" rx="3.9" ry="3.4" fill="#1f77b4"/><ellipse cx="2049.88" cy="2113.05" rx="3.9" ry="3.4" fill="#1f77b4"/><ellipse cx="2057.94" cy="2114.27" rx="3.9" ry="3.4" fill="#1f77b4"/><ellipse cx="2065.99" cy="2083.52" rx="3.9" ry="3.4" fill="#1f77b4"/><ellipse cx="2074.04" cy="2052.38" rx="3.9" ry="3.4" fill="#1f77b4"/><ellipse cx="2082.09" cy="2126.06" rx="3.9" ry="3.4" fill="#1f77b4"/><ellipse cx="2090.15" cy="2074.48" rx="3.9" ry="3.4" fill="#1f77b4"/><ellipse cx="2098.20" cy="2195.00" rx="3.9" ry="3.4" fill="#1f77b4"/><ellipse cx="2106.25" cy="2106.08" rx="3.9" ry="3.4" fill="#1f77b4"/><ellipse cx="2114.31" cy="2279.60" rx="3.9" ry="3.4" fill="#1f77b4"/><ellipse cx="1292.90" cy="2418.35" rx="3.9" ry="3.4" fill="#1f77b4"/><ellipse cx="1300.95" cy="2447.71" rx="3.9" ry="3.4" fill="#1f77b4"/><ellipse cx="1309.01" cy="2432.26" rx="3.9" ry="3.4" fill="#1f77b4"/><ellipse cx="1317.06" cy="2400.12" rx="3.9" ry="3.4" fill="#1f77b4"/><ellipse cx="1325.11" cy="2460.38" rx="3.9" ry="3.4" fill="#1f77b4"/><ellipse cx="1333.17" cy="2404.45" rx="3.9" ry="3.4" fill="#1f77b4"/><ellipse cx="1341.22" cy="2416.81" rx="3.9" ry="3.4" fill="#1f77b4"/><ellipse cx="1349.27" cy="2457.59" rx="3.9" ry="3.4" fill="#1f77b4"/><ellipse cx="1357.32" cy="2457.59" rx="3.9" ry="3.4" fill="#1f77b4"/><ellipse cx="1365.38" cy="2471.81" rx="3.9" ry="3.4" fill="#1f77b4"/><ellipse cx="1373.43" cy="2473.04" rx="3.9" ry="3.4" fill="#1f77b4"/><ellipse cx="1381.48" cy="2447.71" rx="3.9" ry="3.4" fill="#1f77b4"/><ellipse cx="1389.54" cy="2380.65" rx="3.9" ry="3.4" fill="#1f77b4"/><ellipse cx="1397.59" cy="2471.81" rx="3.9" ry="3.4" fill="#1f77b4"/><ellipse cx="1405.64" cy="2463.16" rx="3.9" ry="3.4" fill="#1f77b4"/><ellipse cx="1413.70" cy="2454.81" rx="3.9" ry="3.4" fill="#1f77b4"/><ellipse cx="1421.75" cy="2433.80" rx="3.9" ry="3.4" fill="#1f77b4"/><ellipse cx="1429.80" cy="2453.27" rx="3.9" ry="3.4" fill="#1f77b4"/><ellipse cx="1437.85" cy="2452.03" rx="3.9" ry="3.4" fill="#1f77b4"/><ellipse cx="1445.91" cy="2456.05" rx="3.9" ry="3.4" fill="#1f77b4"/><ellipse cx="1453.96" cy="2457.59" rx="3.9" ry="3.4" fill="#1f77b4"/><ellipse cx="1462.01" cy="2460.38" rx="3.9" ry="3.4" fill="#1f77b4"/><ellipse cx="1470.07" cy="2435.04" rx="3.9" ry="3.4" fill="#1f77b4"/><ellipse cx="1478.12" cy="2372.31" rx="3.9" ry="3.4" fill="#1f77b4"/><ellipse cx="1486.17" cy="2415.57" rx="3.9" ry="3.4" fill="#1f77b4"/><ellipse cx="1494.23" cy="2471.50" rx="3.9" ry="3.4" fill="#1f77b4"/><ellipse cx="1502.28" cy="2405.68" rx="3.9" ry="3.4" fill="#1f77b4"/><ellipse cx="1510.33" cy="2460.38" rx="3.9" ry="3.4" fill="#1f77b4"/><ellipse cx="1518.38" cy="2510.43" rx="3.9" ry="3.4" fill="#1f77b4"/><ellipse cx="1526.44" cy="2458.83" rx="3.9" ry="3.4" fill="#1f77b4"/><ellipse cx="1534.49" cy="2380.65" rx="3.9" ry="3.4" fill="#1f77b4"/><ellipse cx="1542.54" cy="2383.43" rx="3.9" ry="3.4" fill="#1f77b4"/><ellipse cx="1550.60" cy="2419.90" rx="3.9" ry="3.4" fill="#1f77b4"/><ellipse cx="1558.65" cy="2423.91" rx="3.9" ry="3.4" fill="#1f77b4"/><ellipse cx="1566.70" cy="2416.81" rx="3.9" ry="3.4" fill="#1f77b4"/><ellipse cx="1574.76" cy="2384.98" rx="3.9" ry="3.4" fill="#1f77b4"/><ellipse cx="1582.81" cy="2408.77" rx="3.9" ry="3.4" fill="#1f77b4"/><ellipse cx="1590.86" cy="2405.68" rx="3.9" ry="3.4" fill="#1f77b4"/><ellipse cx="1598.91" cy="2479.84" rx="3.9" ry="3.4" fill="#1f77b4"/><ellipse cx="1606.97" cy="2454.81" rx="3.9" ry="3.4" fill="#1f77b4"/><ellipse cx="1615.02" cy="2437.82" rx="3.9" ry="3.4" fill="#1f77b4"/><ellipse cx="1623.07" cy="2465.94" rx="3.9" ry="3.4" fill="#1f77b4"/><ellipse cx="1631.13" cy="2418.35" rx="3.9" ry="3.4" fill="#1f77b4"/><ellipse cx="1639.18" cy="2463.16" rx="3.9" ry="3.4" fill="#1f77b4"/><ellipse cx="1647.23" cy="2442.14" rx="3.9" ry="3.4" fill="#1f77b4"/><ellipse cx="1655.29" cy="2425.46" rx="3.9" ry="3.4" fill="#1f77b4"/><ellipse cx="1663.34" cy="2391.78" rx="3.9" ry="3.4" fill="#1f77b4"/><ellipse cx="1671.39" cy="2449.25" rx="3.9" ry="3.4" fill="#ff7f0e"/><ellipse cx="1679.44" cy="2458.83" rx="3.9" ry="3.4" fill="#1f77b4"/><ellipse cx="1687.50" cy="2402.90" rx="3.9" ry="3.4" fill="#1f77b4"/><ellipse cx="1695.55" cy="2344.50" rx="3.9" ry="3.4" fill="#1f77b4"/><ellipse cx="1703.60" cy="2468.41" rx="3.9" ry="3.4" fill="#1f77b4"/><ellipse cx="1711.66" cy="2465.63" rx="3.9" ry="3.4" fill="#1f77b4"/><ellipse cx="1719.71" cy="2420.82" rx="3.9" ry="3.4" fill="#1f77b4"/><ellipse cx="1727.76" cy="2422.06" rx="3.9" ry="3.4" fill="#1f77b4"/><ellipse cx="1735.82" cy="2455.74" rx="3.9" ry="3.4" fill="#1f77b4"/><ellipse cx="1743.87" cy="2448.94" rx="3.9" ry="3.4" fill="#1f77b4"/><ellipse cx="1751.92" cy="2426.08" rx="3.9" ry="3.4" fill="#1f77b4"/><ellipse cx="1759.97" cy="2489.42" rx="3.9" ry="3.4" fill="#1f77b4"/><ellipse cx="1768.03" cy="2406.30" rx="3.9" ry="3.4" fill="#1f77b4"/><ellipse cx="1776.08" cy="2438.75" rx="3.9" ry="3.4" fill="#1f77b4"/><ellipse cx="1784.13" cy="2412.17" rx="3.9" ry="3.4" fill="#1f77b4"/><ellipse cx="1792.19" cy="2456.98" rx="3.9" ry="3.4" fill="#1f77b4"/><ellipse cx="1800.24" cy="2391.16" rx="3.9" ry="3.4" fill="#1f77b4"/><ellipse cx="1808.29" cy="2441.84" rx="3.9" ry="3.4" fill="#1f77b4"/><ellipse cx="1816.35" cy="2445.85" rx="3.9" ry="3.4" fill="#1f77b4"/><ellipse cx="1824.40" cy="2430.40" rx="3.9" ry="3.4" fill="#1f77b4"/><ellipse cx="1832.45" cy="2468.41" rx="3.9" ry="3.4" fill="#1f77b4"/><ellipse cx="1840.50" cy="2420.82" rx="3.9" ry="3.4" fill="#1f77b4"/><ellipse cx="1848.56" cy="2423.60" rx="3.9" ry="3.4" fill="#1f77b4"/><ellipse cx="1856.61" cy="2407.85" rx="3.9" ry="3.4" fill="#1f77b4"/><ellipse cx="1864.66" cy="2434.73" rx="3.9" ry="3.4" fill="#1f77b4"/><ellipse cx="1872.72" cy="2423.60" rx="3.9" ry="3.4" fill="#1f77b4"/><ellipse cx="1880.77" cy="2424.84" rx="3.9" ry="3.4" fill="#1f77b4"/><ellipse cx="1888.82" cy="2450.18" rx="3.9" ry="3.4" fill="#1f77b4"/><ellipse cx="1896.88" cy="2440.29" rx="3.9" ry="3.4" fill="#1f77b4"/><ellipse cx="1904.93" cy="2397.96" rx="3.9" ry="3.4" fill="#1f77b4"/><ellipse cx="1912.98" cy="2462.85" rx="3.9" ry="3.4" fill="#1f77b4"/><ellipse cx="1921.03" cy="2441.22" rx="3.9" ry="3.4" fill="#ff7f0e"/><ellipse cx="1929.09" cy="2447.40" rx="3.9" ry="3.4" fill="#1f77b4"/><ellipse cx="1937.14" cy="2496.53" rx="3.9" ry="3.4" fill="#1f77b4"/><ellipse cx="1945.19" cy="2426.39" rx="3.9" ry="3.4" fill="#1f77b4"/><ellipse cx="1953.25" cy="2419.28" rx="3.9" ry="3.4" fill="#1f77b4"/><ellipse cx="1961.30" cy="2492.20" rx="3.9" ry="3.4" fill="#1f77b4"/><ellipse cx="1969.35" cy="2433.49" rx="3.9" ry="3.4" fill="#1f77b4"/><ellipse cx="1977.41" cy="2414.95" rx="3.9" ry="3.4" fill="#1f77b4"/><ellipse cx="1985.46" cy="2410.63" rx="3.9" ry="3.4" fill="#1f77b4"/><ellipse cx="1993.51" cy="2410.63" rx="3.9" ry="3.4" fill="#1f77b4"/><ellipse cx="2001.56" cy="2465.63" rx="3.9" ry="3.4" fill="#1f77b4"/><ellipse cx="2009.62" cy="2435.96" rx="3.9" ry="3.4" fill="#1f77b4"/><ellipse cx="2017.67" cy="2466.86" rx="3.9" ry="3.4" fill="#1f77b4"/><ellipse cx="2025.72" cy="2524.34" rx="3.9" ry="3.4" fill="#1f77b4"/><ellipse cx="2033.78" cy="2422.06" rx="3.9" ry="3.4" fill="#1f77b4"/><ellipse cx="2041.83" cy="2510.43" rx="3.9" ry="3.4" fill="#1f77b4"/><ellipse cx="2049.88" cy="2492.20" rx="3.9" ry="3.4" fill="#1f77b4"/><ellipse cx="2057.94" cy="2489.42" rx="3.9" ry="3.4" fill="#1f77b4"/><ellipse cx="2065.99" cy="2468.41" rx="3.9" ry="3.4" fill="#1f77b4"/><ellipse cx="2074.04" cy="2430.40" rx="3.9" ry="3.4" fill="#1f77b4"/><ellipse cx="2082.09" cy="2506.11" rx="3.9" ry="3.4" fill="#1f77b4"/><ellipse cx="2090.15" cy="2473.66" rx="3.9" ry="3.4" fill="#1f77b4"/><ellipse cx="2098.20" cy="2537.32" rx="3.9" ry="3.4" fill="#1f77b4"/><ellipse cx="2106.25" cy="2503.33" rx="3.9" ry="3.4" fill="#1f77b4"/><ellipse cx="2114.31" cy="2551.22" rx="3.9" ry="3.4" fill="#1f77b4"/><ellipse cx="2122.36" cy="2572.85" rx="3.9" ry="3.4" fill="#1f77b4"/>
<rect x="192.20" y="1747.30" width="912.40" height="251.10" fill="none" stroke="#000" stroke-width="2.4"/>
<line x1="234.50" y1="1998.40" x2="234.50" y2="2008.90" stroke="#000" stroke-width="2.6"/>
<line x1="395.56" y1="1998.40" x2="395.56" y2="2008.90" stroke="#000" stroke-width="2.6"/>
<line x1="556.62" y1="1998.40" x2="556.62" y2="2008.90" stroke="#000" stroke-width="2.6"/>
<line x1="717.68" y1="1998.40" x2="717.68" y2="2008.90" stroke="#000" stroke-width="2.6"/>
<line x1="878.74" y1="1998.40" x2="878.74" y2="2008.90" stroke="#000" stroke-width="2.6"/>
<line x1="1039.80" y1="1998.40" x2="1039.80" y2="2008.90" stroke="#000" stroke-width="2.6"/>
<line x1="180.39" y1="1771.80" x2="192.20" y2="1771.80" stroke="#000" stroke-width="2.4"/>
<text x="81.54" y="1782.70" font-size="31.30" textLength="85.70" lengthAdjust="spacingAndGlyphs" fill="#000" stroke-width="0.41">1000</text>
<line x1="180.39" y1="1851.25" x2="192.20" y2="1851.25" stroke="#000" stroke-width="2.4"/>
<text x="104.38" y="1862.15" font-size="31.30" textLength="62.97" lengthAdjust="spacingAndGlyphs" fill="#000" stroke-width="0.41">500</text>
<line x1="180.39" y1="1930.70" x2="192.20" y2="1930.70" stroke="#000" stroke-width="2.4"/>
<text x="147.40" y="1941.60" font-size="31.30" textLength="19.79" lengthAdjust="spacingAndGlyphs" fill="#000" stroke-width="0.41">0</text>
<rect x="192.20" y="2039.00" width="912.40" height="251.20" fill="none" stroke="#000" stroke-width="2.4"/>
<line x1="234.50" y1="2290.20" x2="234.50" y2="2300.70" stroke="#000" stroke-width="2.6"/>
<line x1="395.56" y1="2290.20" x2="395.56" y2="2300.70" stroke="#000" stroke-width="2.6"/>
<line x1="556.62" y1="2290.20" x2="556.62" y2="2300.70" stroke="#000" stroke-width="2.6"/>
<line x1="717.68" y1="2290.20" x2="717.68" y2="2300.70" stroke="#000" stroke-width="2.6"/>
<line x1="878.74" y1="2290.20" x2="878.74" y2="2300.70" stroke="#000" stroke-width="2.6"/>
<line x1="1039.80" y1="2290.20" x2="1039.80" y2="2300.70" stroke="#000" stroke-width="2.6"/>
<line x1="180.39" y1="2081.50" x2="192.20" y2="2081.50" stroke="#000" stroke-width="2.4"/>
<text x="125.49" y="2092.40" font-size="31.30" textLength="41.62" lengthAdjust="spacingAndGlyphs" fill="#000" stroke-width="0.41">24</text>
<line x1="180.39" y1="2162.65" x2="192.20" y2="2162.65" stroke="#000" stroke-width="2.4"/>
<text x="125.47" y="2173.55" font-size="31.30" textLength="42.03" lengthAdjust="spacingAndGlyphs" fill="#000" stroke-width="0.41">25</text>
<line x1="180.39" y1="2243.80" x2="192.20" y2="2243.80" stroke="#000" stroke-width="2.4"/>
<text x="125.47" y="2254.70" font-size="31.30" textLength="42.03" lengthAdjust="spacingAndGlyphs" fill="#000" stroke-width="0.41">26</text>
<rect x="192.20" y="2332.90" width="912.40" height="251.40" fill="none" stroke="#000" stroke-width="2.4"/>
<line x1="234.50" y1="2584.30" x2="234.50" y2="2594.80" stroke="#000" stroke-width="2.6"/>
<text x="224.54" y="2626.20" font-size="31.30" textLength="19.79" lengthAdjust="spacingAndGlyphs" fill="#000" stroke-width="0.41">0</text>
<line x1="395.56" y1="2584.30" x2="395.56" y2="2594.80" stroke="#000" stroke-width="2.6"/>
<text x="374.41" y="2626.20" font-size="31.30" textLength="41.83" lengthAdjust="spacingAndGlyphs" fill="#000" stroke-width="0.41">20</text>
<line x1="556.62" y1="2584.30" x2="556.62" y2="2594.80" stroke="#000" stroke-width="2.6"/>
<text x="536.62" y="2626.20" font-size="31.30" textLength="40.64" lengthAdjust="spacingAndGlyphs" fill="#000" stroke-width="0.41">40</text>
<line x1="717.68" y1="2584.30" x2="717.68" y2="2594.80" stroke="#000" stroke-width="2.6"/>
<text x="696.53" y="2626.20" font-size="31.30" textLength="41.83" lengthAdjust="spacingAndGlyphs" fill="#000" stroke-width="0.41">60</text>
<line x1="878.74" y1="2584.30" x2="878.74" y2="2594.80" stroke="#000" stroke-width="2.6"/>
<text x="857.78" y="2626.20" font-size="31.30" textLength="41.62" lengthAdjust="spacingAndGlyphs" fill="#000" stroke-width="0.41">80</text>
<line x1="1039.80" y1="2584.30" x2="1039.80" y2="2594.80" stroke="#000" stroke-width="2.6"/>
<text x="1006.90" y="2626.20" font-size="31.30" textLength="64.39" lengthAdjust="spacingAndGlyphs" fill="#000" stroke-width="0.41">100</text>
<line x1="180.39" y1="2406.30" x2="192.20" y2="2406.30" stroke="#000" stroke-width="2.4"/>
<text x="115.13" y="2417.20" font-size="31.30" textLength="52.09" lengthAdjust="spacingAndGlyphs" fill="#000" stroke-width="0.41">5.0</text>
<line x1="180.39" y1="2483.55" x2="192.20" y2="2483.55" stroke="#000" stroke-width="2.4"/>
<text x="114.73" y="2494.45" font-size="31.30" textLength="52.69" lengthAdjust="spacingAndGlyphs" fill="#000" stroke-width="0.41">2.5</text>
<line x1="180.39" y1="2560.80" x2="192.20" y2="2560.80" stroke="#000" stroke-width="2.4"/>
<text x="115.13" y="2571.70" font-size="31.30" textLength="52.09" lengthAdjust="spacingAndGlyphs" fill="#000" stroke-width="0.41">0.0</text>
<rect x="1251.90" y="1747.30" width="911.60" height="251.10" fill="none" stroke="#000" stroke-width="2.4"/>
<line x1="1292.90" y1="1998.40" x2="1292.90" y2="2008.90" stroke="#000" stroke-width="2.6"/>
<line x1="1453.96" y1="1998.40" x2="1453.96" y2="2008.90" stroke="#000" stroke-width="2.6"/>
<line x1="1615.02" y1="1998.40" x2="1615.02" y2="2008.90" stroke="#000" stroke-width="2.6"/>
<line x1="1776.08" y1="1998.40" x2="1776.08" y2="2008.90" stroke="#000" stroke-width="2.6"/>
<line x1="1937.14" y1="1998.40" x2="1937.14" y2="2008.90" stroke="#000" stroke-width="2.6"/>
<line x1="2098.20" y1="1998.40" x2="2098.20" y2="2008.90" stroke="#000" stroke-width="2.6"/>
<line x1="1240.09" y1="1771.80" x2="1251.90" y2="1771.80" stroke="#000" stroke-width="2.4"/>
<text x="1141.24" y="1782.70" font-size="31.30" textLength="85.70" lengthAdjust="spacingAndGlyphs" fill="#000" stroke-width="0.41">1000</text>
<line x1="1240.09" y1="1851.25" x2="1251.90" y2="1851.25" stroke="#000" stroke-width="2.4"/>
<text x="1164.08" y="1862.15" font-size="31.30" textLength="62.97" lengthAdjust="spacingAndGlyphs" fill="#000" stroke-width="0.41">500</text>
<line x1="1240.09" y1="1930.70" x2="1251.90" y2="1930.70" stroke="#000" stroke-width="2.4"/>
<text x="1207.10" y="1941.60" font-size="31.30" textLength="19.79" lengthAdjust="spacingAndGlyphs" fill="#000" stroke-width="0.41">0</text>
<rect x="1251.90" y="2039.00" width="911.60" height="251.20" fill="none" stroke="#000" stroke-width="2.4"/>
<line x1="1292.90" y1="2290.20" x2="1292.90" y2="2300.70" stroke="#000" stroke-width="2.6"/>
<line x1="1453.96" y1="2290.20" x2="1453.96" y2="2300.70" stroke="#000" stroke-width="2.6"/>
<line x1="1615.02" y1="2290.20" x2="1615.02" y2="2300.70" stroke="#000" stroke-width="2.6"/>
<line x1="1776.08" y1="2290.20" x2="1776.08" y2="2300.70" stroke="#000" stroke-width="2.6"/>
<line x1="1937.14" y1="2290.20" x2="1937.14" y2="2300.70" stroke="#000" stroke-width="2.6"/>
<line x1="2098.20" y1="2290.20" x2="2098.20" y2="2300.70" stroke="#000" stroke-width="2.6"/>
<line x1="1240.09" y1="2081.50" x2="1251.90" y2="2081.50" stroke="#000" stroke-width="2.4"/>
<text x="1185.19" y="2092.40" font-size="31.30" textLength="41.62" lengthAdjust="spacingAndGlyphs" fill="#000" stroke-width="0.41">24</text>
<line x1="1240.09" y1="2162.65" x2="1251.90" y2="2162.65" stroke="#000" stroke-width="2.4"/>
<text x="1185.17" y="2173.55" font-size="31.30" textLength="42.03" lengthAdjust="spacingAndGlyphs" fill="#000" stroke-width="0.41">25</text>
<line x1="1240.09" y1="2243.80" x2="1251.90" y2="2243.80" stroke="#000" stroke-width="2.4"/>
<text x="1185.17" y="2254.70" font-size="31.30" textLength="42.03" lengthAdjust="spacingAndGlyphs" fill="#000" stroke-width="0.41">26</text>
<rect x="1251.90" y="2332.90" width="911.60" height="251.40" fill="none" stroke="#000" stroke-width="2.4"/>
<line x1="1292.90" y1="2584.30" x2="1292.90" y2="2594.80" stroke="#000" stroke-width="2.6"/>
<text x="1282.94" y="2626.20" font-size="31.30" textLength="19.79" lengthAdjust="spacingAndGlyphs" fill="#000" stroke-width="0.41">0</text>
<line x1="1453.96" y1="2584.30" x2="1453.96" y2="2594.80" stroke="#000" stroke-width="2.6"/>
<text x="1432.81" y="2626.20" font-size="31.30" textLength="41.83" lengthAdjust="spacingAndGlyphs" fill="#000" stroke-width="0.41">20</text>
<line x1="1615.02" y1="2584.30" x2="1615.02" y2="2594.80" stroke="#000" stroke-width="2.6"/>
<text x="1595.02" y="2626.20" font-size="31.30" textLength="40.64" lengthAdjust="spacingAndGlyphs" fill="#000" stroke-width="0.41">40</text>
<line x1="1776.08" y1="2584.30" x2="1776.08" y2="2594.80" stroke="#000" stroke-width="2.6"/>
<text x="1754.93" y="2626.20" font-size="31.30" textLength="41.83" lengthAdjust="spacingAndGlyphs" fill="#000" stroke-width="0.41">60</text>
<line x1="1937.14" y1="2584.30" x2="1937.14" y2="2594.80" stroke="#000" stroke-width="2.6"/>
<text x="1916.18" y="2626.20" font-size="31.30" textLength="41.62" lengthAdjust="spacingAndGlyphs" fill="#000" stroke-width="0.41">80</text>
<line x1="2098.20" y1="2584.30" x2="2098.20" y2="2594.80" stroke="#000" stroke-width="2.6"/>
<text x="2065.30" y="2626.20" font-size="31.30" textLength="64.39" lengthAdjust="spacingAndGlyphs" fill="#000" stroke-width="0.41">100</text>
<line x1="1240.09" y1="2406.30" x2="1251.90" y2="2406.30" stroke="#000" stroke-width="2.4"/>
<text x="1174.83" y="2417.20" font-size="31.30" textLength="52.09" lengthAdjust="spacingAndGlyphs" fill="#000" stroke-width="0.41">5.0</text>
<line x1="1240.09" y1="2483.55" x2="1251.90" y2="2483.55" stroke="#000" stroke-width="2.4"/>
<text x="1174.43" y="2494.45" font-size="31.30" textLength="52.69" lengthAdjust="spacingAndGlyphs" fill="#000" stroke-width="0.41">2.5</text>
<line x1="1240.09" y1="2560.80" x2="1251.90" y2="2560.80" stroke="#000" stroke-width="2.4"/>
<text x="1174.83" y="2571.70" font-size="31.30" textLength="52.09" lengthAdjust="spacingAndGlyphs" fill="#000" stroke-width="0.41">0.0</text>
<g transform="translate(63.75,0) scale(1.125,1) rotate(-90)"><text x="-1906.91" y="0.00" font-size="31.30" textLength="59.30" lengthAdjust="spacingAndGlyphs" fill="#000" stroke-width="0.41">Flux</text></g>
<g transform="translate(107.30,0) scale(1.125,1) rotate(-90)"><text x="-2200.60" y="0.00" font-size="31.30" textLength="60.85" lengthAdjust="spacingAndGlyphs" fill="#000" stroke-width="0.41">Mag</text></g>
<g transform="translate(96.00,0) scale(1.125,1) rotate(-90)"><text x="-2491.65" y="0.00" font-size="31.30" textLength="58.74" lengthAdjust="spacingAndGlyphs" fill="#000" stroke-width="0.41">SNR</text></g>
<text x="596.07" y="2665.60" font-size="31.30" textLength="102.84" lengthAdjust="spacingAndGlyphs" fill="#000" stroke-width="0.41">Obs #</text>
<text x="1535.04" y="2665.60" font-size="31.30" textLength="343.68" lengthAdjust="spacingAndGlyphs" fill="#000" stroke-width="0.41">observation number</text>
<rect x="16.30" y="1664.00" width="361.70" height="95.50" rx="7" ry="6" fill="#fff" fill-opacity="0.8" stroke="#cccccc" stroke-width="2.4"/><ellipse cx="65.80" cy="1688.40" rx="5.3" ry="4.7" fill="#1f77b4"/><text x="125.28" y="1699.30" font-size="31.30" textLength="164.95" lengthAdjust="spacingAndGlyphs" fill="#000" stroke-width="0.41">Detection</text><ellipse cx="65.80" cy="1732.30" rx="5.3" ry="4.7" fill="#ff7f0e"/><text x="125.32" y="1741.00" font-size="31.30" textLength="239.73" lengthAdjust="spacingAndGlyphs" fill="#000" stroke-width="0.41">Non-detection</text>
<rect x="1882.10" y="1663.80" width="301.90" height="95.70" rx="7" ry="6" fill="#fff" fill-opacity="0.8" stroke="#cccccc" stroke-width="2.4"/><ellipse cx="1930.50" cy="1688.40" rx="5.3" ry="4.7" fill="#1f77b4"/><text x="1991.91" y="1698.70" font-size="31.30" textLength="177.91" lengthAdjust="spacingAndGlyphs" fill="#000" stroke-width="0.41">Unmasked</text><ellipse cx="1930.50" cy="1731.90" rx="5.3" ry="4.7" fill="#ff7f0e"/><text x="1991.07" y="1740.90" font-size="31.30" textLength="128.37" lengthAdjust="spacingAndGlyphs" fill="#000" stroke-width="0.41">Masked</text>
<rect x="2252.90" y="65.40" width="136.3" height="136.3" fill="none" stroke="#d4202c" stroke-width="1.5"/>
<text x="2289.19" y="57.40" font-size="17.20" textLength="63.86" lengthAdjust="spacingAndGlyphs" fill="#000" stroke-width="0.22">845872</text>
<line x1="2247.90" y1="66.76" x2="2252.90" y2="66.76" stroke="#000" stroke-width="1.1"/>
<line x1="2254.26" y1="201.70" x2="2254.26" y2="206.70" stroke="#000" stroke-width="1.1"/>
<text x="2235.59" y="71.66" font-size="13.90" textLength="7.82" lengthAdjust="spacingAndGlyphs" fill="#000" stroke-width="0.18">0</text>
<text x="2250.33" y="221.80" font-size="13.90" textLength="7.82" lengthAdjust="spacingAndGlyphs" fill="#000" stroke-width="0.18">0</text>
<line x1="2247.90" y1="121.28" x2="2252.90" y2="121.28" stroke="#000" stroke-width="1.1"/>
<line x1="2308.78" y1="201.70" x2="2308.78" y2="206.70" stroke="#000" stroke-width="1.1"/>
<text x="2226.93" y="126.18" font-size="13.90" textLength="16.52" lengthAdjust="spacingAndGlyphs" fill="#000" stroke-width="0.18">20</text>
<text x="2300.43" y="221.80" font-size="13.90" textLength="16.52" lengthAdjust="spacingAndGlyphs" fill="#000" stroke-width="0.18">20</text>
<line x1="2247.90" y1="175.80" x2="2252.90" y2="175.80" stroke="#000" stroke-width="1.1"/>
<line x1="2363.30" y1="201.70" x2="2363.30" y2="206.70" stroke="#000" stroke-width="1.1"/>
<text x="2227.39" y="180.70" font-size="13.90" textLength="16.05" lengthAdjust="spacingAndGlyphs" fill="#000" stroke-width="0.18">40</text>
<text x="2355.40" y="221.80" font-size="13.90" textLength="16.05" lengthAdjust="spacingAndGlyphs" fill="#000" stroke-width="0.18">40</text>
<rect x="2451.46" y="65.40" width="136.3" height="136.3" fill="none" stroke="#d4202c" stroke-width="1.5"/>
<text x="2487.75" y="57.40" font-size="17.20" textLength="63.66" lengthAdjust="spacingAndGlyphs" fill="#000" stroke-width="0.22">845873</text>
<line x1="2446.46" y1="66.76" x2="2451.46" y2="66.76" stroke="#000" stroke-width="1.1"/>
<line x1="2452.82" y1="201.70" x2="2452.82" y2="206.70" stroke="#000" stroke-width="1.1"/>
<text x="2434.15" y="71.66" font-size="13.90" textLength="7.82" lengthAdjust="spacingAndGlyphs" fill="#000" stroke-width="0.18">0</text>
<text x="2448.89" y="221.80" font-size="13.90" textLength="7.82" lengthAdjust="spacingAndGlyphs" fill="#000" stroke-width="0.18">0</text>
<line x1="2446.46" y1="121.28" x2="2451.46" y2="121.28" stroke="#000" stroke-width="1.1"/>
<line x1="2507.34" y1="201.70" x2="2507.34" y2="206.70" stroke="#000" stroke-width="1.1"/>
<text x="2425.49" y="126.18" font-size="13.90" textLength="16.52" lengthAdjust="spacingAndGlyphs" fill="#000" stroke-width="0.18">20</text>
<text x="2498.99" y="221.80" font-size="13.90" textLength="16.52" lengthAdjust="spacingAndGlyphs" fill="#000" stroke-width="0.18">20</text>
<line x1="2446.46" y1="175.80" x2="2451.46" y2="175.80" stroke="#000" stroke-width="1.1"/>
<line x1="2561.86" y1="201.70" x2="2561.86" y2="206.70" stroke="#000" stroke-width="1.1"/>
<text x="2425.95" y="180.70" font-size="13.90" textLength="16.05" lengthAdjust="spacingAndGlyphs" fill="#000" stroke-width="0.18">40</text>
<text x="2553.96" y="221.80" font-size="13.90" textLength="16.05" lengthAdjust="spacingAndGlyphs" fill="#000" stroke-width="0.18">40</text>
<rect x="2650.02" y="65.40" width="136.3" height="136.3" fill="none" stroke="#d4202c" stroke-width="1.5"/>
<text x="2686.31" y="57.40" font-size="17.20" textLength="63.47" lengthAdjust="spacingAndGlyphs" fill="#000" stroke-width="0.22">845874</text>
<line x1="2645.02" y1="66.76" x2="2650.02" y2="66.76" stroke="#000" stroke-width="1.1"/>
<line x1="2651.38" y1="201.70" x2="2651.38" y2="206.70" stroke="#000" stroke-width="1.1"/>
<text x="2632.71" y="71.66" font-size="13.90" textLength="7.82" lengthAdjust="spacingAndGlyphs" fill="#000" stroke-width="0.18">0</text>
<text x="2647.45" y="221.80" font-size="13.90" textLength="7.82" lengthAdjust="spacingAndGlyphs" fill="#000" stroke-width="0.18">0</text>
<line x1="2645.02" y1="121.28" x2="2650.02" y2="121.28" stroke="#000" stroke-width="1.1"/>
<line x1="2705.90" y1="201.70" x2="2705.90" y2="206.70" stroke="#000" stroke-width="1.1"/>
<text x="2624.05" y="126.18" font-size="13.90" textLength="16.52" lengthAdjust="spacingAndGlyphs" fill="#000" stroke-width="0.18">20</text>
<text x="2697.55" y="221.80" font-size="13.90" textLength="16.52" lengthAdjust="spacingAndGlyphs" fill="#000" stroke-width="0.18">20</text>
<line x1="2645.02" y1="175.80" x2="2650.02" y2="175.80" stroke="#000" stroke-width="1.1"/>
<line x1="2760.42" y1="201.70" x2="2760.42" y2="206.70" stroke="#000" stroke-width="1.1"/>
<text x="2624.51" y="180.70" font-size="13.90" textLength="16.05" lengthAdjust="spacingAndGlyphs" fill="#000" stroke-width="0.18">40</text>
<text x="2752.52" y="221.80" font-size="13.90" textLength="16.05" lengthAdjust="spacingAndGlyphs" fill="#000" stroke-width="0.18">40</text>
<rect x="2848.58" y="65.40" width="136.3" height="136.3" fill="none" stroke="#d4202c" stroke-width="1.5"/>
<text x="2884.87" y="57.40" font-size="17.20" textLength="63.66" lengthAdjust="spacingAndGlyphs" fill="#000" stroke-width="0.22">845875</text>
<line x1="2843.58" y1="66.76" x2="2848.58" y2="66.76" stroke="#000" stroke-width="1.1"/>
<line x1="2849.94" y1="201.70" x2="2849.94" y2="206.70" stroke="#000" stroke-width="1.1"/>
<text x="2831.27" y="71.66" font-size="13.90" textLength="7.82" lengthAdjust="spacingAndGlyphs" fill="#000" stroke-width="0.18">0</text>
<text x="2846.01" y="221.80" font-size="13.90" textLength="7.82" lengthAdjust="spacingAndGlyphs" fill="#000" stroke-width="0.18">0</text>
<line x1="2843.58" y1="121.28" x2="2848.58" y2="121.28" stroke="#000" stroke-width="1.1"/>
<line x1="2904.46" y1="201.70" x2="2904.46" y2="206.70" stroke="#000" stroke-width="1.1"/>
<text x="2822.61" y="126.18" font-size="13.90" textLength="16.52" lengthAdjust="spacingAndGlyphs" fill="#000" stroke-width="0.18">20</text>
<text x="2896.11" y="221.80" font-size="13.90" textLength="16.52" lengthAdjust="spacingAndGlyphs" fill="#000" stroke-width="0.18">20</text>
<line x1="2843.58" y1="175.80" x2="2848.58" y2="175.80" stroke="#000" stroke-width="1.1"/>
<line x1="2958.98" y1="201.70" x2="2958.98" y2="206.70" stroke="#000" stroke-width="1.1"/>
<text x="2823.07" y="180.70" font-size="13.90" textLength="16.05" lengthAdjust="spacingAndGlyphs" fill="#000" stroke-width="0.18">40</text>
<text x="2951.08" y="221.80" font-size="13.90" textLength="16.05" lengthAdjust="spacingAndGlyphs" fill="#000" stroke-width="0.18">40</text>
<rect x="3047.14" y="65.40" width="136.3" height="136.3" fill="none" stroke="#d4202c" stroke-width="1.5"/>
<text x="3083.43" y="57.40" font-size="17.20" textLength="63.66" lengthAdjust="spacingAndGlyphs" fill="#000" stroke-width="0.22">845876</text>
<line x1="3042.14" y1="66.76" x2="3047.14" y2="66.76" stroke="#000" stroke-width="1.1"/>
<line x1="3048.50" y1="201.70" x2="3048.50" y2="206.70" stroke="#000" stroke-width="1.1"/>
<text x="3029.83" y="71.66" font-size="13.90" textLength="7.82" lengthAdjust="spacingAndGlyphs" fill="#000" stroke-width="0.18">0</text>
<text x="3044.57" y="221.80" font-size="13.90" textLength="7.82" lengthAdjust="spacingAndGlyphs" fill="#000" stroke-width="0.18">0</text>
<line x1="3042.14" y1="121.28" x2="3047.14" y2="121.28" stroke="#000" stroke-width="1.1"/>
<line x1="3103.02" y1="201.70" x2="3103.02" y2="206.70" stroke="#000" stroke-width="1.1"/>
<text x="3021.17" y="126.18" font-size="13.90" textLength="16.52" lengthAdjust="spacingAndGlyphs" fill="#000" stroke-width="0.18">20</text>
<text x="3094.67" y="221.80" font-size="13.90" textLength="16.52" lengthAdjust="spacingAndGlyphs" fill="#000" stroke-width="0.18">20</text>
<line x1="3042.14" y1="175.80" x2="3047.14" y2="175.80" stroke="#000" stroke-width="1.1"/>
<line x1="3157.54" y1="201.70" x2="3157.54" y2="206.70" stroke="#000" stroke-width="1.1"/>
<text x="3021.63" y="180.70" font-size="13.90" textLength="16.05" lengthAdjust="spacingAndGlyphs" fill="#000" stroke-width="0.18">40</text>
<text x="3149.64" y="221.80" font-size="13.90" textLength="16.05" lengthAdjust="spacingAndGlyphs" fill="#000" stroke-width="0.18">40</text>
<rect x="3245.70" y="65.40" width="136.3" height="136.3" fill="none" stroke="#d4202c" stroke-width="1.5"/>
<text x="3281.99" y="57.40" font-size="17.20" textLength="63.86" lengthAdjust="spacingAndGlyphs" fill="#000" stroke-width="0.22">845877</text>
<line x1="3240.70" y1="66.76" x2="3245.70" y2="66.76" stroke="#000" stroke-width="1.1"/>
<line x1="3247.06" y1="201.70" x2="3247.06" y2="206.70" stroke="#000" stroke-width="1.1"/>
<text x="3228.39" y="71.66" font-size="13.90" textLength="7.82" lengthAdjust="spacingAndGlyphs" fill="#000" stroke-width="0.18">0</text>
<text x="3243.13" y="221.80" font-size="13.90" textLength="7.82" lengthAdjust="spacingAndGlyphs" fill="#000" stroke-width="0.18">0</text>
<line x1="3240.70" y1="121.28" x2="3245.70" y2="121.28" stroke="#000" stroke-width="1.1"/>
<line x1="3301.58" y1="201.70" x2="3301.58" y2="206.70" stroke="#000" stroke-width="1.1"/>
<text x="3219.73" y="126.18" font-size="13.90" textLength="16.52" lengthAdjust="spacingAndGlyphs" fill="#000" stroke-width="0.18">20</text>
<text x="3293.23" y="221.80" font-size="13.90" textLength="16.52" lengthAdjust="spacingAndGlyphs" fill="#000" stroke-width="0.18">20</text>
<line x1="3240.70" y1="175.80" x2="3245.70" y2="175.80" stroke="#000" stroke-width="1.1"/>
<line x1="3356.10" y1="201.70" x2="3356.10" y2="206.70" stroke="#000" stroke-width="1.1"/>
<text x="3220.19" y="180.70" font-size="13.90" textLength="16.05" lengthAdjust="spacingAndGlyphs" fill="#000" stroke-width="0.18">40</text>
<text x="3348.20" y="221.80" font-size="13.90" textLength="16.05" lengthAdjust="spacingAndGlyphs" fill="#000" stroke-width="0.18">40</text>
<rect x="3444.26" y="65.40" width="136.3" height="136.3" fill="none" stroke="#d4202c" stroke-width="1.5"/>
<text x="3480.55" y="57.40" font-size="17.20" textLength="63.66" lengthAdjust="spacingAndGlyphs" fill="#000" stroke-width="0.22">845878</text>
<line x1="3439.26" y1="66.76" x2="3444.26" y2="66.76" stroke="#000" stroke-width="1.1"/>
<line x1="3445.62" y1="201.70" x2="3445.62" y2="206.70" stroke="#000" stroke-width="1.1"/>
<text x="3426.95" y="71.66" font-size="13.90" textLength="7.82" lengthAdjust="spacingAndGlyphs" fill="#000" stroke-width="0.18">0</text>
<text x="3441.69" y="221.80" font-size="13.90" textLength="7.82" lengthAdjust="spacingAndGlyphs" fill="#000" stroke-width="0.18">0</text>
<line x1="3439.26" y1="121.28" x2="3444.26" y2="121.28" stroke="#000" stroke-width="1.1"/>
<line x1="3500.14" y1="201.70" x2="3500.14" y2="206.70" stroke="#000" stroke-width="1.1"/>
<text x="3418.29" y="126.18" font-size="13.90" textLength="16.52" lengthAdjust="spacingAndGlyphs" fill="#000" stroke-width="0.18">20</text>
<text x="3491.79" y="221.80" font-size="13.90" textLength="16.52" lengthAdjust="spacingAndGlyphs" fill="#000" stroke-width="0.18">20</text>
<line x1="3439.26" y1="175.80" x2="3444.26" y2="175.80" stroke="#000" stroke-width="1.1"/>
<line x1="3554.66" y1="201.70" x2="3554.66" y2="206.70" stroke="#000" stroke-width="1.1"/>
<text x="3418.75" y="180.70" font-size="13.90" textLength="16.05" lengthAdjust="spacingAndGlyphs" fill="#000" stroke-width="0.18">40</text>
<text x="3546.76" y="221.80" font-size="13.90" textLength="16.05" lengthAdjust="spacingAndGlyphs" fill="#000" stroke-width="0.18">40</text>
<rect x="3642.82" y="65.40" width="136.3" height="136.3" fill="none" stroke="#d4202c" stroke-width="1.5"/>
<text x="3679.11" y="57.40" font-size="17.20" textLength="63.76" lengthAdjust="spacingAndGlyphs" fill="#000" stroke-width="0.22">845879</text>
<line x1="3637.82" y1="66.76" x2="3642.82" y2="66.76" stroke="#000" stroke-width="1.1"/>
<line x1="3644.18" y1="201.70" x2="3644.18" y2="206.70" stroke="#000" stroke-width="1.1"/>
<text x="3625.51" y="71.66" font-size="13.90" textLength="7.82" lengthAdjust="spacingAndGlyphs" fill="#000" stroke-width="0.18">0</text>
<text x="3640.25" y="221.80" font-size="13.90" textLength="7.82" lengthAdjust="spacingAndGlyphs" fill="#000" stroke-width="0.18">0</text>
<line x1="3637.82" y1="121.28" x2="3642.82" y2="121.28" stroke="#000" stroke-width="1.1"/>
<line x1="3698.70" y1="201.70" x2="3698.70" y2="206.70" stroke="#000" stroke-width="1.1"/>
<text x="3616.85" y="126.18" font-size="13.90" textLength="16.52" lengthAdjust="spacingAndGlyphs" fill="#000" stroke-width="0.18">20</text>
<text x="3690.35" y="221.80" font-size="13.90" textLength="16.52" lengthAdjust="spacingAndGlyphs" fill="#000" stroke-width="0.18">20</text>
<line x1="3637.82" y1="175.80" x2="3642.82" y2="175.80" stroke="#000" stroke-width="1.1"/>
<line x1="3753.22" y1="201.70" x2="3753.22" y2="206.70" stroke="#000" stroke-width="1.1"/>
<text x="3617.31" y="180.70" font-size="13.90" textLength="16.05" lengthAdjust="spacingAndGlyphs" fill="#000" stroke-width="0.18">40</text>
<text x="3745.32" y="221.80" font-size="13.90" textLength="16.05" lengthAdjust="spacingAndGlyphs" fill="#000" stroke-width="0.18">40</text>
<rect x="3841.38" y="65.40" width="136.3" height="136.3" fill="none" stroke="#d4202c" stroke-width="1.5"/>
<text x="3877.67" y="57.40" font-size="17.20" textLength="63.56" lengthAdjust="spacingAndGlyphs" fill="#000" stroke-width="0.22">845880</text>
<line x1="3836.38" y1="66.76" x2="3841.38" y2="66.76" stroke="#000" stroke-width="1.1"/>
<line x1="3842.74" y1="201.70" x2="3842.74" y2="206.70" stroke="#000" stroke-width="1.1"/>
<text x="3824.07" y="71.66" font-size="13.90" textLength="7.82" lengthAdjust="spacingAndGlyphs" fill="#000" stroke-width="0.18">0</text>
<text x="3838.81" y="221.80" font-size="13.90" textLength="7.82" lengthAdjust="spacingAndGlyphs" fill="#000" stroke-width="0.18">0</text>
<line x1="3836.38" y1="121.28" x2="3841.38" y2="121.28" stroke="#000" stroke-width="1.1"/>
<line x1="3897.26" y1="201.70" x2="3897.26" y2="206.70" stroke="#000" stroke-width="1.1"/>
<text x="3815.41" y="126.18" font-size="13.90" textLength="16.52" lengthAdjust="spacingAndGlyphs" fill="#000" stroke-width="0.18">20</text>
<text x="3888.91" y="221.80" font-size="13.90" textLength="16.52" lengthAdjust="spacingAndGlyphs" fill="#000" stroke-width="0.18">20</text>
<line x1="3836.38" y1="175.80" x2="3841.38" y2="175.80" stroke="#000" stroke-width="1.1"/>
<line x1="3951.78" y1="201.70" x2="3951.78" y2="206.70" stroke="#000" stroke-width="1.1"/>
<text x="3815.87" y="180.70" font-size="13.90" textLength="16.05" lengthAdjust="spacingAndGlyphs" fill="#000" stroke-width="0.18">40</text>
<text x="3943.88" y="221.80" font-size="13.90" textLength="16.05" lengthAdjust="spacingAndGlyphs" fill="#000" stroke-width="0.18">40</text>
<rect x="4039.94" y="65.40" width="136.3" height="136.3" fill="none" stroke="#d4202c" stroke-width="1.5"/>
<text x="4076.23" y="57.40" font-size="17.20" textLength="63.76" lengthAdjust="spacingAndGlyphs" fill="#000" stroke-width="0.22">845881</text>
<line x1="4034.94" y1="66.76" x2="4039.94" y2="66.76" stroke="#000" stroke-width="1.1"/>
<line x1="4041.30" y1="201.70" x2="4041.30" y2="206.70" stroke="#000" stroke-width="1.1"/>
<text x="4022.63" y="71.66" font-size="13.90" textLength="7.82" lengthAdjust="spacingAndGlyphs" fill="#000" stroke-width="0.18">0</text>
<text x="4037.37" y="221.80" font-size="13.90" textLength="7.82" lengthAdjust="spacingAndGlyphs" fill="#000" stroke-width="0.18">0</text>
<line x1="4034.94" y1="121.28" x2="4039.94" y2="121.28" stroke="#000" stroke-width="1.1"/>
<line x1="4095.82" y1="201.70" x2="4095.82" y2="206.70" stroke="#000" stroke-width="1.1"/>
<text x="4013.97" y="126.18" font-size="13.90" textLength="16.52" lengthAdjust="spacingAndGlyphs" fill="#000" stroke-width="0.18">20</text>
<text x="4087.47" y="221.80" font-size="13.90" textLength="16.52" lengthAdjust="spacingAndGlyphs" fill="#000" stroke-width="0.18">20</text>
<line x1="4034.94" y1="175.80" x2="4039.94" y2="175.80" stroke="#000" stroke-width="1.1"/>
<line x1="4150.34" y1="201.70" x2="4150.34" y2="206.70" stroke="#000" stroke-width="1.1"/>
<text x="4014.43" y="180.70" font-size="13.90" textLength="16.05" lengthAdjust="spacingAndGlyphs" fill="#000" stroke-width="0.18">40</text>
<text x="4142.44" y="221.80" font-size="13.90" textLength="16.05" lengthAdjust="spacingAndGlyphs" fill="#000" stroke-width="0.18">40</text>
<rect x="4238.50" y="65.40" width="136.3" height="136.3" fill="none" stroke="#111" stroke-width="1.5"/>
<text x="4274.79" y="57.40" font-size="17.20" textLength="63.86" lengthAdjust="spacingAndGlyphs" fill="#000" stroke-width="0.22">845882</text>
<line x1="4233.50" y1="66.76" x2="4238.50" y2="66.76" stroke="#000" stroke-width="1.1"/>
<line x1="4239.86" y1="201.70" x2="4239.86" y2="206.70" stroke="#000" stroke-width="1.1"/>
<text x="4221.19" y="71.66" font-size="13.90" textLength="7.82" lengthAdjust="spacingAndGlyphs" fill="#000" stroke-width="0.18">0</text>
<text x="4235.93" y="221.80" font-size="13.90" textLength="7.82" lengthAdjust="spacingAndGlyphs" fill="#000" stroke-width="0.18">0</text>
<line x1="4233.50" y1="121.28" x2="4238.50" y2="121.28" stroke="#000" stroke-width="1.1"/>
<line x1="4294.38" y1="201.70" x2="4294.38" y2="206.70" stroke="#000" stroke-width="1.1"/>
<text x="4212.53" y="126.18" font-size="13.90" textLength="16.52" lengthAdjust="spacingAndGlyphs" fill="#000" stroke-width="0.18">20</text>
<text x="4286.03" y="221.80" font-size="13.90" textLength="16.52" lengthAdjust="spacingAndGlyphs" fill="#000" stroke-width="0.18">20</text>
<line x1="4233.50" y1="175.80" x2="4238.50" y2="175.80" stroke="#000" stroke-width="1.1"/>
<line x1="4348.90" y1="201.70" x2="4348.90" y2="206.70" stroke="#000" stroke-width="1.1"/>
<text x="4212.99" y="180.70" font-size="13.90" textLength="16.05" lengthAdjust="spacingAndGlyphs" fill="#000" stroke-width="0.18">40</text>
<text x="4341.00" y="221.80" font-size="13.90" textLength="16.05" lengthAdjust="spacingAndGlyphs" fill="#000" stroke-width="0.18">40</text>
<rect x="2252.90" y="260.90" width="136.3" height="136.3" fill="none" stroke="#d4202c" stroke-width="1.5"/>
<text x="2289.19" y="252.90" font-size="17.20" textLength="63.66" lengthAdjust="spacingAndGlyphs" fill="#000" stroke-width="0.22">845883</text>
<line x1="2247.90" y1="262.26" x2="2252.90" y2="262.26" stroke="#000" stroke-width="1.1"/>
<line x1="2254.26" y1="397.20" x2="2254.26" y2="402.20" stroke="#000" stroke-width="1.1"/>
<text x="2235.59" y="267.16" font-size="13.90" textLength="7.82" lengthAdjust="spacingAndGlyphs" fill="#000" stroke-width="0.18">0</text>
<text x="2250.33" y="417.30" font-size="13.90" textLength="7.82" lengthAdjust="spacingAndGlyphs" fill="#000" stroke-width="0.18">0</text>
<line x1="2247.90" y1="316.78" x2="2252.90" y2="316.78" stroke="#000" stroke-width="1.1"/>
<line x1="2308.78" y1="397.20" x2="2308.78" y2="402.20" stroke="#000" stroke-width="1.1"/>
<text x="2226.93" y="321.68" font-size="13.90" textLength="16.52" lengthAdjust="spacingAndGlyphs" fill="#000" stroke-width="0.18">20</text>
<text x="2300.43" y="417.30" font-size="13.90" textLength="16.52" lengthAdjust="spacingAndGlyphs" fill="#000" stroke-width="0.18">20</text>
<line x1="2247.90" y1="371.30" x2="2252.90" y2="371.30" stroke="#000" stroke-width="1.1"/>
<line x1="2363.30" y1="397.20" x2="2363.30" y2="402.20" stroke="#000" stroke-width="1.1"/>
<text x="2227.39" y="376.20" font-size="13.90" textLength="16.05" lengthAdjust="spacingAndGlyphs" fill="#000" stroke-width="0.18">40</text>
<text x="2355.40" y="417.30" font-size="13.90" textLength="16.05" lengthAdjust="spacingAndGlyphs" fill="#000" stroke-width="0.18">40</text>
<rect x="2451.46" y="260.90" width="136.3" height="136.3" fill="none" stroke="#d4202c" stroke-width="1.5"/>
<text x="2487.75" y="252.90" font-size="17.20" textLength="63.47" lengthAdjust="spacingAndGlyphs" fill="#000" stroke-width="0.22">845884</text>
<line x1="2446.46" y1="262.26" x2="2451.46" y2="262.26" stroke="#000" stroke-width="1.1"/>
<line x1="2452.82" y1="397.20" x2="2452.82" y2="402.20" stroke="#000" stroke-width="1.1"/>
<text x="2434.15" y="267.16" font-size="13.90" textLength="7.82" lengthAdjust="spacingAndGlyphs" fill="#000" stroke-width="0.18">0</text>
<text x="2448.89" y="417.30" font-size="13.90" textLength="7.82" lengthAdjust="spacingAndGlyphs" fill="#000" stroke-width="0.18">0</text>
<line x1="2446.46" y1="316.78" x2="2451.46" y2="316.78" stroke="#000" stroke-width="1.1"/>
<line x1="2507.34" y1="397.20" x2="2507.34" y2="402.20" stroke="#000" stroke-width="1.1"/>
<text x="2425.49" y="321.68" font-size="13.90" textLength="16.52" lengthAdjust="spacingAndGlyphs" fill="#000" stroke-width="0.18">20</text>
<text x="2498.99" y="417.30" font-size="13.90" textLength="16.52" lengthAdjust="spacingAndGlyphs" fill="#000" stroke-width="0.18">20</text>
<line x1="2446.46" y1="371.30" x2="2451.46" y2="371.30" stroke="#000" stroke-width="1.1"/>
<line x1="2561.86" y1="397.20" x2="2561.86" y2="402.20" stroke="#000" stroke-width="1.1"/>
<text x="2425.95" y="376.20" font-size="13.90" textLength="16.05" lengthAdjust="spacingAndGlyphs" fill="#000" stroke-width="0.18">40</text>
<text x="2553.96" y="417.30" font-size="13.90" textLength="16.05" lengthAdjust="spacingAndGlyphs" fill="#000" stroke-width="0.18">40</text>
<rect x="2650.02" y="260.90" width="136.3" height="136.3" fill="none" stroke="#d4202c" stroke-width="1.5"/>
<text x="2686.31" y="252.90" font-size="17.20" textLength="63.66" lengthAdjust="spacingAndGlyphs" fill="#000" stroke-width="0.22">845885</text>
<line x1="2645.02" y1="262.26" x2="2650.02" y2="262.26" stroke="#000" stroke-width="1.1"/>
<line x1="2651.38" y1="397.20" x2="2651.38" y2="402.20" stroke="#000" stroke-width="1.1"/>
<text x="2632.71" y="267.16" font-size="13.90" textLength="7.82" lengthAdjust="spacingAndGlyphs" fill="#000" stroke-width="0.18">0</text>
<text x="2647.45" y="417.30" font-size="13.90" textLength="7.82" lengthAdjust="spacingAndGlyphs" fill="#000" stroke-width="0.18">0</text>
<line x1="2645.02" y1="316.78" x2="2650.02" y2="316.78" stroke="#000" stroke-width="1.1"/>
<line x1="2705.90" y1="397.20" x2="2705.90" y2="402.20" stroke="#000" stroke-width="1.1"/>
<text x="2624.05" y="321.68" font-size="13.90" textLength="16.52" lengthAdjust="spacingAndGlyphs" fill="#000" stroke-width="0.18">20</text>
<text x="2697.55" y="417.30" font-size="13.90" textLength="16.52" lengthAdjust="spacingAndGlyphs" fill="#000" stroke-width="0.18">20</text>
<line x1="2645.02" y1="371.30" x2="2650.02" y2="371.30" stroke="#000" stroke-width="1.1"/>
<line x1="2760.42" y1="397.20" x2="2760.42" y2="402.20" stroke="#000" stroke-width="1.1"/>
<text x="2624.51" y="376.20" font-size="13.90" textLength="16.05" lengthAdjust="spacingAndGlyphs" fill="#000" stroke-width="0.18">40</text>
<text x="2752.52" y="417.30" font-size="13.90" textLength="16.05" lengthAdjust="spacingAndGlyphs" fill="#000" stroke-width="0.18">40</text>
<rect x="2848.58" y="260.90" width="136.3" height="136.3" fill="none" stroke="#d4202c" stroke-width="1.5"/>
<text x="2884.87" y="252.90" font-size="17.20" textLength="63.66" lengthAdjust="spacingAndGlyphs" fill="#000" stroke-width="0.22">845886</text>
<line x1="2843.58" y1="262.26" x2="2848.58" y2="262.26" stroke="#000" stroke-width="1.1"/>
<line x1="2849.94" y1="397.20" x2="2849.94" y2="402.20" stroke="#000" stroke-width="1.1"/>
<text x="2831.27" y="267.16" font-size="13.90" textLength="7.82" lengthAdjust="spacingAndGlyphs" fill="#000" stroke-width="0.18">0</text>
<text x="2846.01" y="417.30" font-size="13.90" textLength="7.82" lengthAdjust="spacingAndGlyphs" fill="#000" stroke-width="0.18">0</text>
<line x1="2843.58" y1="316.78" x2="2848.58" y2="316.78" stroke="#000" stroke-width="1.1"/>
<line x1="2904.46" y1="397.20" x2="2904.46" y2="402.20" stroke="#000" stroke-width="1.1"/>
<text x="2822.61" y="321.68" font-size="13.90" textLength="16.52" lengthAdjust="spacingAndGlyphs" fill="#000" stroke-width="0.18">20</text>
<text x="2896.11" y="417.30" font-size="13.90" textLength="16.52" lengthAdjust="spacingAndGlyphs" fill="#000" stroke-width="0.18">20</text>
<line x1="2843.58" y1="371.30" x2="2848.58" y2="371.30" stroke="#000" stroke-width="1.1"/>
<line x1="2958.98" y1="397.20" x2="2958.98" y2="402.20" stroke="#000" stroke-width="1.1"/>
<text x="2823.07" y="376.20" font-size="13.90" textLength="16.05" lengthAdjust="spacingAndGlyphs" fill="#000" stroke-width="0.18">40</text>
<text x="2951.08" y="417.30" font-size="13.90" textLength="16.05" lengthAdjust="spacingAndGlyphs" fill="#000" stroke-width="0.18">40</text>
<rect x="3047.14" y="260.90" width="136.3" height="136.3" fill="none" stroke="#d4202c" stroke-width="1.5"/>
<text x="3083.43" y="252.90" font-size="17.20" textLength="63.86" lengthAdjust="spacingAndGlyphs" fill="#000" stroke-width="0.22">845887</text>
<line x1="3042.14" y1="262.26" x2="3047.14" y2="262.26" stroke="#000" stroke-width="1.1"/>
<line x1="3048.50" y1="397.20" x2="3048.50" y2="402.20" stroke="#000" stroke-width="1.1"/>
<text x="3029.83" y="267.16" font-size="13.90" textLength="7.82" lengthAdjust="spacingAndGlyphs" fill="#000" stroke-width="0.18">0</text>
<text x="3044.57" y="417.30" font-size="13.90" textLength="7.82" lengthAdjust="spacingAndGlyphs" fill="#000" stroke-width="0.18">0</text>
<line x1="3042.14" y1="316.78" x2="3047.14" y2="316.78" stroke="#000" stroke-width="1.1"/>
<line x1="3103.02" y1="397.20" x2="3103.02" y2="402.20" stroke="#000" stroke-width="1.1"/>
<text x="3021.17" y="321.68" font-size="13.90" textLength="16.52" lengthAdjust="spacingAndGlyphs" fill="#000" stroke-width="0.18">20</text>
<text x="3094.67" y="417.30" font-size="13.90" textLength="16.52" lengthAdjust="spacingAndGlyphs" fill="#000" stroke-width="0.18">20</text>
<line x1="3042.14" y1="371.30" x2="3047.14" y2="371.30" stroke="#000" stroke-width="1.1"/>
<line x1="3157.54" y1="397.20" x2="3157.54" y2="402.20" stroke="#000" stroke-width="1.1"/>
<text x="3021.63" y="376.20" font-size="13.90" textLength="16.05" lengthAdjust="spacingAndGlyphs" fill="#000" stroke-width="0.18">40</text>
<text x="3149.64" y="417.30" font-size="13.90" textLength="16.05" lengthAdjust="spacingAndGlyphs" fill="#000" stroke-width="0.18">40</text>
<rect x="3245.70" y="260.90" width="136.3" height="136.3" fill="none" stroke="#d4202c" stroke-width="1.5"/>
<text x="3281.99" y="252.90" font-size="17.20" textLength="63.66" lengthAdjust="spacingAndGlyphs" fill="#000" stroke-width="0.22">845888</text>
<line x1="3240.70" y1="262.26" x2="3245.70" y2="262.26" stroke="#000" stroke-width="1.1"/>
<line x1="3247.06" y1="397.20" x2="3247.06" y2="402.20" stroke="#000" stroke-width="1.1"/>
<text x="3228.39" y="267.16" font-size="13.90" textLength="7.82" lengthAdjust="spacingAndGlyphs" fill="#000" stroke-width="0.18">0</text>
<text x="3243.13" y="417.30" font-size="13.90" textLength="7.82" lengthAdjust="spacingAndGlyphs" fill="#000" stroke-width="0.18">0</text>
<line x1="3240.70" y1="316.78" x2="3245.70" y2="316.78" stroke="#000" stroke-width="1.1"/>
<line x1="3301.58" y1="397.20" x2="3301.58" y2="402.20" stroke="#000" stroke-width="1.1"/>
<text x="3219.73" y="321.68" font-size="13.90" textLength="16.52" lengthAdjust="spacingAndGlyphs" fill="#000" stroke-width="0.18">20</text>
<text x="3293.23" y="417.30" font-size="13.90" textLength="16.52" lengthAdjust="spacingAndGlyphs" fill="#000" stroke-width="0.18">20</text>
<line x1="3240.70" y1="371.30" x2="3245.70" y2="371.30" stroke="#000" stroke-width="1.1"/>
<line x1="3356.10" y1="397.20" x2="3356.10" y2="402.20" stroke="#000" stroke-width="1.1"/>
<text x="3220.19" y="376.20" font-size="13.90" textLength="16.05" lengthAdjust="spacingAndGlyphs" fill="#000" stroke-width="0.18">40</text>
<text x="3348.20" y="417.30" font-size="13.90" textLength="16.05" lengthAdjust="spacingAndGlyphs" fill="#000" stroke-width="0.18">40</text>
<rect x="3444.26" y="260.90" width="136.3" height="136.3" fill="none" stroke="#d4202c" stroke-width="1.5"/>
<text x="3480.55" y="252.90" font-size="17.20" textLength="63.76" lengthAdjust="spacingAndGlyphs" fill="#000" stroke-width="0.22">845889</text>
<line x1="3439.26" y1="262.26" x2="3444.26" y2="262.26" stroke="#000" stroke-width="1.1"/>
<line x1="3445.62" y1="397.20" x2="3445.62" y2="402.20" stroke="#000" stroke-width="1.1"/>
<text x="3426.95" y="267.16" font-size="13.90" textLength="7.82" lengthAdjust="spacingAndGlyphs" fill="#000" stroke-width="0.18">0</text>
<text x="3441.69" y="417.30" font-size="13.90" textLength="7.82" lengthAdjust="spacingAndGlyphs" fill="#000" stroke-width="0.18">0</text>
<line x1="3439.26" y1="316.78" x2="3444.26" y2="316.78" stroke="#000" stroke-width="1.1"/>
<line x1="3500.14" y1="397.20" x2="3500.14" y2="402.20" stroke="#000" stroke-width="1.1"/>
<text x="3418.29" y="321.68" font-size="13.90" textLength="16.52" lengthAdjust="spacingAndGlyphs" fill="#000" stroke-width="0.18">20</text>
<text x="3491.79" y="417.30" font-size="13.90" textLength="16.52" lengthAdjust="spacingAndGlyphs" fill="#000" stroke-width="0.18">20</text>
<line x1="3439.26" y1="371.30" x2="3444.26" y2="371.30" stroke="#000" stroke-width="1.1"/>
<line x1="3554.66" y1="397.20" x2="3554.66" y2="402.20" stroke="#000" stroke-width="1.1"/>
<text x="3418.75" y="376.20" font-size="13.90" textLength="16.05" lengthAdjust="spacingAndGlyphs" fill="#000" stroke-width="0.18">40</text>
<text x="3546.76" y="417.30" font-size="13.90" textLength="16.05" lengthAdjust="spacingAndGlyphs" fill="#000" stroke-width="0.18">40</text>
<rect x="3642.82" y="260.90" width="136.3" height="136.3" fill="none" stroke="#111" stroke-width="1.5"/>
<text x="3679.11" y="252.90" font-size="17.20" textLength="63.56" lengthAdjust="spacingAndGlyphs" fill="#000" stroke-width="0.22">845890</text>
<line x1="3637.82" y1="262.26" x2="3642.82" y2="262.26" stroke="#000" stroke-width="1.1"/>
<line x1="3644.18" y1="397.20" x2="3644.18" y2="402.20" stroke="#000" stroke-width="1.1"/>
<text x="3625.51" y="267.16" font-size="13.90" textLength="7.82" lengthAdjust="spacingAndGlyphs" fill="#000" stroke-width="0.18">0</text>
<text x="3640.25" y="417.30" font-size="13.90" textLength="7.82" lengthAdjust="spacingAndGlyphs" fill="#000" stroke-width="0.18">0</text>
<line x1="3637.82" y1="316.78" x2="3642.82" y2="316.78" stroke="#000" stroke-width="1.1"/>
<line x1="3698.70" y1="397.20" x2="3698.70" y2="402.20" stroke="#000" stroke-width="1.1"/>
<text x="3616.85" y="321.68" font-size="13.90" textLength="16.52" lengthAdjust="spacingAndGlyphs" fill="#000" stroke-width="0.18">20</text>
<text x="3690.35" y="417.30" font-size="13.90" textLength="16.52" lengthAdjust="spacingAndGlyphs" fill="#000" stroke-width="0.18">20</text>
<line x1="3637.82" y1="371.30" x2="3642.82" y2="371.30" stroke="#000" stroke-width="1.1"/>
<line x1="3753.22" y1="397.20" x2="3753.22" y2="402.20" stroke="#000" stroke-width="1.1"/>
<text x="3617.31" y="376.20" font-size="13.90" textLength="16.05" lengthAdjust="spacingAndGlyphs" fill="#000" stroke-width="0.18">40</text>
<text x="3745.32" y="417.30" font-size="13.90" textLength="16.05" lengthAdjust="spacingAndGlyphs" fill="#000" stroke-width="0.18">40</text>
<rect x="3841.38" y="260.90" width="136.3" height="136.3" fill="none" stroke="#d4202c" stroke-width="1.5"/>
<text x="3877.67" y="252.90" font-size="17.20" textLength="63.76" lengthAdjust="spacingAndGlyphs" fill="#000" stroke-width="0.22">845891</text>
<line x1="3836.38" y1="262.26" x2="3841.38" y2="262.26" stroke="#000" stroke-width="1.1"/>
<line x1="3842.74" y1="397.20" x2="3842.74" y2="402.20" stroke="#000" stroke-width="1.1"/>
<text x="3824.07" y="267.16" font-size="13.90" textLength="7.82" lengthAdjust="spacingAndGlyphs" fill="#000" stroke-width="0.18">0</text>
<text x="3838.81" y="417.30" font-size="13.90" textLength="7.82" lengthAdjust="spacingAndGlyphs" fill="#000" stroke-width="0.18">0</text>
<line x1="3836.38" y1="316.78" x2="3841.38" y2="316.78" stroke="#000" stroke-width="1.1"/>
<line x1="3897.26" y1="397.20" x2="3897.26" y2="402.20" stroke="#000" stroke-width="1.1"/>
<text x="3815.41" y="321.68" font-size="13.90" textLength="16.52" lengthAdjust="spacingAndGlyphs" fill="#000" stroke-width="0.18">20</text>
<text x="3888.91" y="417.30" font-size="13.90" textLength="16.52" lengthAdjust="spacingAndGlyphs" fill="#000" stroke-width="0.18">20</text>
<line x1="3836.38" y1="371.30" x2="3841.38" y2="371.30" stroke="#000" stroke-width="1.1"/>
<line x1="3951.78" y1="397.20" x2="3951.78" y2="402.20" stroke="#000" stroke-width="1.1"/>
<text x="3815.87" y="376.20" font-size="13.90" textLength="16.05" lengthAdjust="spacingAndGlyphs" fill="#000" stroke-width="0.18">40</text>
<text x="3943.88" y="417.30" font-size="13.90" textLength="16.05" lengthAdjust="spacingAndGlyphs" fill="#000" stroke-width="0.18">40</text>
<rect x="4039.94" y="260.90" width="136.3" height="136.3" fill="none" stroke="#d4202c" stroke-width="1.5"/>
<text x="4076.23" y="252.90" font-size="17.20" textLength="63.86" lengthAdjust="spacingAndGlyphs" fill="#000" stroke-width="0.22">845892</text>
<line x1="4034.94" y1="262.26" x2="4039.94" y2="262.26" stroke="#000" stroke-width="1.1"/>
<line x1="4041.30" y1="397.20" x2="4041.30" y2="402.20" stroke="#000" stroke-width="1.1"/>
<text x="4022.63" y="267.16" font-size="13.90" textLength="7.82" lengthAdjust="spacingAndGlyphs" fill="#000" stroke-width="0.18">0</text>
<text x="4037.37" y="417.30" font-size="13.90" textLength="7.82" lengthAdjust="spacingAndGlyphs" fill="#000" stroke-width="0.18">0</text>
<line x1="4034.94" y1="316.78" x2="4039.94" y2="316.78" stroke="#000" stroke-width="1.1"/>
<line x1="4095.82" y1="397.20" x2="4095.82" y2="402.20" stroke="#000" stroke-width="1.1"/>
<text x="4013.97" y="321.68" font-size="13.90" textLength="16.52" lengthAdjust="spacingAndGlyphs" fill="#000" stroke-width="0.18">20</text>
<text x="4087.47" y="417.30" font-size="13.90" textLength="16.52" lengthAdjust="spacingAndGlyphs" fill="#000" stroke-width="0.18">20</text>
<line x1="4034.94" y1="371.30" x2="4039.94" y2="371.30" stroke="#000" stroke-width="1.1"/>
<line x1="4150.34" y1="397.20" x2="4150.34" y2="402.20" stroke="#000" stroke-width="1.1"/>
<text x="4014.43" y="376.20" font-size="13.90" textLength="16.05" lengthAdjust="spacingAndGlyphs" fill="#000" stroke-width="0.18">40</text>
<text x="4142.44" y="417.30" font-size="13.90" textLength="16.05" lengthAdjust="spacingAndGlyphs" fill="#000" stroke-width="0.18">40</text>
<rect x="4238.50" y="260.90" width="136.3" height="136.3" fill="none" stroke="#d4202c" stroke-width="1.5"/>
<text x="4274.79" y="252.90" font-size="17.20" textLength="63.66" lengthAdjust="spacingAndGlyphs" fill="#000" stroke-width="0.22">845893</text>
<line x1="4233.50" y1="262.26" x2="4238.50" y2="262.26" stroke="#000" stroke-width="1.1"/>
<line x1="4239.86" y1="397.20" x2="4239.86" y2="402.20" stroke="#000" stroke-width="1.1"/>
<text x="4221.19" y="267.16" font-size="13.90" textLength="7.82" lengthAdjust="spacingAndGlyphs" fill="#000" stroke-width="0.18">0</text>
<text x="4235.93" y="417.30" font-size="13.90" textLength="7.82" lengthAdjust="spacingAndGlyphs" fill="#000" stroke-width="0.18">0</text>
<line x1="4233.50" y1="316.78" x2="4238.50" y2="316.78" stroke="#000" stroke-width="1.1"/>
<line x1="4294.38" y1="397.20" x2="4294.38" y2="402.20" stroke="#000" stroke-width="1.1"/>
<text x="4212.53" y="321.68" font-size="13.90" textLength="16.52" lengthAdjust="spacingAndGlyphs" fill="#000" stroke-width="0.18">20</text>
<text x="4286.03" y="417.30" font-size="13.90" textLength="16.52" lengthAdjust="spacingAndGlyphs" fill="#000" stroke-width="0.18">20</text>
<line x1="4233.50" y1="371.30" x2="4238.50" y2="371.30" stroke="#000" stroke-width="1.1"/>
<line x1="4348.90" y1="397.20" x2="4348.90" y2="402.20" stroke="#000" stroke-width="1.1"/>
<text x="4212.99" y="376.20" font-size="13.90" textLength="16.05" lengthAdjust="spacingAndGlyphs" fill="#000" stroke-width="0.18">40</text>
<text x="4341.00" y="417.30" font-size="13.90" textLength="16.05" lengthAdjust="spacingAndGlyphs" fill="#000" stroke-width="0.18">40</text>
<rect x="2252.90" y="456.40" width="136.3" height="136.3" fill="none" stroke="#d4202c" stroke-width="1.5"/>
<text x="2289.19" y="448.40" font-size="17.20" textLength="63.47" lengthAdjust="spacingAndGlyphs" fill="#000" stroke-width="0.22">845894</text>
<line x1="2247.90" y1="457.76" x2="2252.90" y2="457.76" stroke="#000" stroke-width="1.1"/>
<line x1="2254.26" y1="592.70" x2="2254.26" y2="597.70" stroke="#000" stroke-width="1.1"/>
<text x="2235.59" y="462.66" font-size="13.90" textLength="7.82" lengthAdjust="spacingAndGlyphs" fill="#000" stroke-width="0.18">0</text>
<text x="2250.33" y="612.80" font-size="13.90" textLength="7.82" lengthAdjust="spacingAndGlyphs" fill="#000" stroke-width="0.18">0</text>
<line x1="2247.90" y1="512.28" x2="2252.90" y2="512.28" stroke="#000" stroke-width="1.1"/>
<line x1="2308.78" y1="592.70" x2="2308.78" y2="597.70" stroke="#000" stroke-width="1.1"/>
<text x="2226.93" y="517.18" font-size="13.90" textLength="16.52" lengthAdjust="spacingAndGlyphs" fill="#000" stroke-width="0.18">20</text>
<text x="2300.43" y="612.80" font-size="13.90" textLength="16.52" lengthAdjust="spacingAndGlyphs" fill="#000" stroke-width="0.18">20</text>
<line x1="2247.90" y1="566.80" x2="2252.90" y2="566.80" stroke="#000" stroke-width="1.1"/>
<line x1="2363.30" y1="592.70" x2="2363.30" y2="597.70" stroke="#000" stroke-width="1.1"/>
<text x="2227.39" y="571.70" font-size="13.90" textLength="16.05" lengthAdjust="spacingAndGlyphs" fill="#000" stroke-width="0.18">40</text>
<text x="2355.40" y="612.80" font-size="13.90" textLength="16.05" lengthAdjust="spacingAndGlyphs" fill="#000" stroke-width="0.18">40</text>
<rect x="2451.46" y="456.40" width="136.3" height="136.3" fill="none" stroke="#d4202c" stroke-width="1.5"/>
<text x="2487.75" y="448.40" font-size="17.20" textLength="63.66" lengthAdjust="spacingAndGlyphs" fill="#000" stroke-width="0.22">845895</text>
<line x1="2446.46" y1="457.76" x2="2451.46" y2="457.76" stroke="#000" stroke-width="1.1"/>
<line x1="2452.82" y1="592.70" x2="2452.82" y2="597.70" stroke="#000" stroke-width="1.1"/>
<text x="2434.15" y="462.66" font-size="13.90" textLength="7.82" lengthAdjust="spacingAndGlyphs" fill="#000" stroke-width="0.18">0</text>
<text x="2448.89" y="612.80" font-size="13.90" textLength="7.82" lengthAdjust="spacingAndGlyphs" fill="#000" stroke-width="0.18">0</text>
<line x1="2446.46" y1="512.28" x2="2451.46" y2="512.28" stroke="#000" stroke-width="1.1"/>
<line x1="2507.34" y1="592.70" x2="2507.34" y2="597.70" stroke="#000" stroke-width="1.1"/>
<text x="2425.49" y="517.18" font-size="13.90" textLength="16.52" lengthAdjust="spacingAndGlyphs" fill="#000" stroke-width="0.18">20</text>
<text x="2498.99" y="612.80" font-size="13.90" textLength="16.52" lengthAdjust="spacingAndGlyphs" fill="#000" stroke-width="0.18">20</text>
<line x1="2446.46" y1="566.80" x2="2451.46" y2="566.80" stroke="#000" stroke-width="1.1"/>
<line x1="2561.86" y1="592.70" x2="2561.86" y2="597.70" stroke="#000" stroke-width="1.1"/>
<text x="2425.95" y="571.70" font-size="13.90" textLength="16.05" lengthAdjust="spacingAndGlyphs" fill="#000" stroke-width="0.18">40</text>
<text x="2553.96" y="612.80" font-size="13.90" textLength="16.05" lengthAdjust="spacingAndGlyphs" fill="#000" stroke-width="0.18">40</text>
<rect x="2650.02" y="456.40" width="136.3" height="136.3" fill="none" stroke="#d4202c" stroke-width="1.5"/>
<text x="2686.31" y="448.40" font-size="17.20" textLength="63.66" lengthAdjust="spacingAndGlyphs" fill="#000" stroke-width="0.22">845896</text>
<line x1="2645.02" y1="457.76" x2="2650.02" y2="457.76" stroke="#000" stroke-width="1.1"/>
<line x1="2651.38" y1="592.70" x2="2651.38" y2="597.70" stroke="#000" stroke-width="1.1"/>
<text x="2632.71" y="462.66" font-size="13.90" textLength="7.82" lengthAdjust="spacingAndGlyphs" fill="#000" stroke-width="0.18">0</text>
<text x="2647.45" y="612.80" font-size="13.90" textLength="7.82" lengthAdjust="spacingAndGlyphs" fill="#000" stroke-width="0.18">0</text>
<line x1="2645.02" y1="512.28" x2="2650.02" y2="512.28" stroke="#000" stroke-width="1.1"/>
<line x1="2705.90" y1="592.70" x2="2705.90" y2="597.70" stroke="#000" stroke-width="1.1"/>
<text x="2624.05" y="517.18" font-size="13.90" textLength="16.52" lengthAdjust="spacingAndGlyphs" fill="#000" stroke-width="0.18">20</text>
<text x="2697.55" y="612.80" font-size="13.90" textLength="16.52" lengthAdjust="spacingAndGlyphs" fill="#000" stroke-width="0.18">20</text>
<line x1="2645.02" y1="566.80" x2="2650.02" y2="566.80" stroke="#000" stroke-width="1.1"/>
<line x1="2760.42" y1="592.70" x2="2760.42" y2="597.70" stroke="#000" stroke-width="1.1"/>
<text x="2624.51" y="571.70" font-size="13.90" textLength="16.05" lengthAdjust="spacingAndGlyphs" fill="#000" stroke-width="0.18">40</text>
<text x="2752.52" y="612.80" font-size="13.90" textLength="16.05" lengthAdjust="spacingAndGlyphs" fill="#000" stroke-width="0.18">40</text>
<rect x="2848.58" y="456.40" width="136.3" height="136.3" fill="none" stroke="#d4202c" stroke-width="1.5"/>
<text x="2884.87" y="448.40" font-size="17.20" textLength="63.86" lengthAdjust="spacingAndGlyphs" fill="#000" stroke-width="0.22">845897</text>
<line x1="2843.58" y1="457.76" x2="2848.58" y2="457.76" stroke="#000" stroke-width="1.1"/>
<line x1="2849.94" y1="592.70" x2="2849.94" y2="597.70" stroke="#000" stroke-width="1.1"/>
<text x="2831.27" y="462.66" font-size="13.90" textLength="7.82" lengthAdjust="spacingAndGlyphs" fill="#000" stroke-width="0.18">0</text>
<text x="2846.01" y="612.80" font-size="13.90" textLength="7.82" lengthAdjust="spacingAndGlyphs" fill="#000" stroke-width="0.18">0</text>
<line x1="2843.58" y1="512.28" x2="2848.58" y2="512.28" stroke="#000" stroke-width="1.1"/>
<line x1="2904.46" y1="592.70" x2="2904.46" y2="597.70" stroke="#000" stroke-width="1.1"/>
<text x="2822.61" y="517.18" font-size="13.90" textLength="16.52" lengthAdjust="spacingAndGlyphs" fill="#000" stroke-width="0.18">20</text>
<text x="2896.11" y="612.80" font-size="13.90" textLength="16.52" lengthAdjust="spacingAndGlyphs" fill="#000" stroke-width="0.18">20</text>
<line x1="2843.58" y1="566.80" x2="2848.58" y2="566.80" stroke="#000" stroke-width="1.1"/>
<line x1="2958.98" y1="592.70" x2="2958.98" y2="597.70" stroke="#000" stroke-width="1.1"/>
<text x="2823.07" y="571.70" font-size="13.90" textLength="16.05" lengthAdjust="spacingAndGlyphs" fill="#000" stroke-width="0.18">40</text>
<text x="2951.08" y="612.80" font-size="13.90" textLength="16.05" lengthAdjust="spacingAndGlyphs" fill="#000" stroke-width="0.18">40</text>
<rect x="3047.14" y="456.40" width="136.3" height="136.3" fill="none" stroke="#d4202c" stroke-width="1.5"/>
<text x="3083.43" y="448.40" font-size="17.20" textLength="63.66" lengthAdjust="spacingAndGlyphs" fill="#000" stroke-width="0.22">845898</text>
<line x1="3042.14" y1="457.76" x2="3047.14" y2="457.76" stroke="#000" stroke-width="1.1"/>
<line x1="3048.50" y1="592.70" x2="3048.50" y2="597.70" stroke="#000" stroke-width="1.1"/>
<text x="3029.83" y="462.66" font-size="13.90" textLength="7.82" lengthAdjust="spacingAndGlyphs" fill="#000" stroke-width="0.18">0</text>
<text x="3044.57" y="612.80" font-size="13.90" textLength="7.82" lengthAdjust="spacingAndGlyphs" fill="#000" stroke-width="0.18">0</text>
<line x1="3042.14" y1="512.28" x2="3047.14" y2="512.28" stroke="#000" stroke-width="1.1"/>
<line x1="3103.02" y1="592.70" x2="3103.02" y2="597.70" stroke="#000" stroke-width="1.1"/>
<text x="3021.17" y="517.18" font-size="13.90" textLength="16.52" lengthAdjust="spacingAndGlyphs" fill="#000" stroke-width="0.18">20</text>
<text x="3094.67" y="612.80" font-size="13.90" textLength="16.52" lengthAdjust="spacingAndGlyphs" fill="#000" stroke-width="0.18">20</text>
<line x1="3042.14" y1="566.80" x2="3047.14" y2="566.80" stroke="#000" stroke-width="1.1"/>
<line x1="3157.54" y1="592.70" x2="3157.54" y2="597.70" stroke="#000" stroke-width="1.1"/>
<text x="3021.63" y="571.70" font-size="13.90" textLength="16.05" lengthAdjust="spacingAndGlyphs" fill="#000" stroke-width="0.18">40</text>
<text x="3149.64" y="612.80" font-size="13.90" textLength="16.05" lengthAdjust="spacingAndGlyphs" fill="#000" stroke-width="0.18">40</text>
<rect x="3245.70" y="456.40" width="136.3" height="136.3" fill="none" stroke="#d4202c" stroke-width="1.5"/>
<text x="3281.99" y="448.40" font-size="17.20" textLength="63.76" lengthAdjust="spacingAndGlyphs" fill="#000" stroke-width="0.22">845899</text>
<line x1="3240.70" y1="457.76" x2="3245.70" y2="457.76" stroke="#000" stroke-width="1.1"/>
<line x1="3247.06" y1="592.70" x2="3247.06" y2="597.70" stroke="#000" stroke-width="1.1"/>
<text x="3228.39" y="462.66" font-size="13.90" textLength="7.82" lengthAdjust="spacingAndGlyphs" fill="#000" stroke-width="0.18">0</text>
<text x="3243.13" y="612.80" font-size="13.90" textLength="7.82" lengthAdjust="spacingAndGlyphs" fill="#000" stroke-width="0.18">0</text>
<line x1="3240.70" y1="512.28" x2="3245.70" y2="512.28" stroke="#000" stroke-width="1.1"/>
<line x1="3301.58" y1="592.70" x2="3301.58" y2="597.70" stroke="#000" stroke-width="1.1"/>
<text x="3219.73" y="517.18" font-size="13.90" textLength="16.52" lengthAdjust="spacingAndGlyphs" fill="#000" stroke-width="0.18">20</text>
<text x="3293.23" y="612.80" font-size="13.90" textLength="16.52" lengthAdjust="spacingAndGlyphs" fill="#000" stroke-width="0.18">20</text>
<line x1="3240.70" y1="566.80" x2="3245.70" y2="566.80" stroke="#000" stroke-width="1.1"/>
<line x1="3356.10" y1="592.70" x2="3356.10" y2="597.70" stroke="#000" stroke-width="1.1"/>
<text x="3220.19" y="571.70" font-size="13.90" textLength="16.05" lengthAdjust="spacingAndGlyphs" fill="#000" stroke-width="0.18">40</text>
<text x="3348.20" y="612.80" font-size="13.90" textLength="16.05" lengthAdjust="spacingAndGlyphs" fill="#000" stroke-width="0.18">40</text>
<rect x="3444.26" y="456.40" width="136.3" height="136.3" fill="none" stroke="#111" stroke-width="1.5"/>
<text x="3480.55" y="448.40" font-size="17.20" textLength="63.56" lengthAdjust="spacingAndGlyphs" fill="#000" stroke-width="0.22">845900</text>
<line x1="3439.26" y1="457.76" x2="3444.26" y2="457.76" stroke="#000" stroke-width="1.1"/>
<line x1="3445.62" y1="592.70" x2="3445.62" y2="597.70" stroke="#000" stroke-width="1.1"/>
<text x="3426.95" y="462.66" font-size="13.90" textLength="7.82" lengthAdjust="spacingAndGlyphs" fill="#000" stroke-width="0.18">0</text>
<text x="3441.69" y="612.80" font-size="13.90" textLength="7.82" lengthAdjust="spacingAndGlyphs" fill="#000" stroke-width="0.18">0</text>
<line x1="3439.26" y1="512.28" x2="3444.26" y2="512.28" stroke="#000" stroke-width="1.1"/>
<line x1="3500.14" y1="592.70" x2="3500.14" y2="597.70" stroke="#000" stroke-width="1.1"/>
<text x="3418.29" y="517.18" font-size="13.90" textLength="16.52" lengthAdjust="spacingAndGlyphs" fill="#000" stroke-width="0.18">20</text>
<text x="3491.79" y="612.80" font-size="13.90" textLength="16.52" lengthAdjust="spacingAndGlyphs" fill="#000" stroke-width="0.18">20</text>
<line x1="3439.26" y1="566.80" x2="3444.26" y2="566.80" stroke="#000" stroke-width="1.1"/>
<line x1="3554.66" y1="592.70" x2="3554.66" y2="597.70" stroke="#000" stroke-width="1.1"/>
<text x="3418.75" y="571.70" font-size="13.90" textLength="16.05" lengthAdjust="spacingAndGlyphs" fill="#000" stroke-width="0.18">40</text>
<text x="3546.76" y="612.80" font-size="13.90" textLength="16.05" lengthAdjust="spacingAndGlyphs" fill="#000" stroke-width="0.18">40</text>
<rect x="3642.82" y="456.40" width="136.3" height="136.3" fill="none" stroke="#d4202c" stroke-width="1.5"/>
<text x="3679.11" y="448.40" font-size="17.20" textLength="63.76" lengthAdjust="spacingAndGlyphs" fill="#000" stroke-width="0.22">845901</text>
<line x1="3637.82" y1="457.76" x2="3642.82" y2="457.76" stroke="#000" stroke-width="1.1"/>
<line x1="3644.18" y1="592.70" x2="3644.18" y2="597.70" stroke="#000" stroke-width="1.1"/>
<text x="3625.51" y="462.66" font-size="13.90" textLength="7.82" lengthAdjust="spacingAndGlyphs" fill="#000" stroke-width="0.18">0</text>
<text x="3640.25" y="612.80" font-size="13.90" textLength="7.82" lengthAdjust="spacingAndGlyphs" fill="#000" stroke-width="0.18">0</text>
<line x1="3637.82" y1="512.28" x2="3642.82" y2="512.28" stroke="#000" stroke-width="1.1"/>
<line x1="3698.70" y1="592.70" x2="3698.70" y2="597.70" stroke="#000" stroke-width="1.1"/>
<text x="3616.85" y="517.18" font-size="13.90" textLength="16.52" lengthAdjust="spacingAndGlyphs" fill="#000" stroke-width="0.18">20</text>
<text x="3690.35" y="612.80" font-size="13.90" textLength="16.52" lengthAdjust="spacingAndGlyphs" fill="#000" stroke-width="0.18">20</text>
<line x1="3637.82" y1="566.80" x2="3642.82" y2="566.80" stroke="#000" stroke-width="1.1"/>
<line x1="3753.22" y1="592.70" x2="3753.22" y2="597.70" stroke="#000" stroke-width="1.1"/>
<text x="3617.31" y="571.70" font-size="13.90" textLength="16.05" lengthAdjust="spacingAndGlyphs" fill="#000" stroke-width="0.18">40</text>
<text x="3745.32" y="612.80" font-size="13.90" textLength="16.05" lengthAdjust="spacingAndGlyphs" fill="#000" stroke-width="0.18">40</text>
<rect x="3841.38" y="456.40" width="136.3" height="136.3" fill="none" stroke="#d4202c" stroke-width="1.5"/>
<text x="3877.67" y="448.40" font-size="17.20" textLength="63.86" lengthAdjust="spacingAndGlyphs" fill="#000" stroke-width="0.22">845902</text>
<line x1="3836.38" y1="457.76" x2="3841.38" y2="457.76" stroke="#000" stroke-width="1.1"/>
<line x1="3842.74" y1="592.70" x2="3842.74" y2="597.70" stroke="#000" stroke-width="1.1"/>
<text x="3824.07" y="462.66" font-size="13.90" textLength="7.82" lengthAdjust="spacingAndGlyphs" fill="#000" stroke-width="0.18">0</text>
<text x="3838.81" y="612.80" font-size="13.90" textLength="7.82" lengthAdjust="spacingAndGlyphs" fill="#000" stroke-width="0.18">0</text>
<line x1="3836.38" y1="512.28" x2="3841.38" y2="512.28" stroke="#000" stroke-width="1.1"/>
<line x1="3897.26" y1="592.70" x2="3897.26" y2="597.70" stroke="#000" stroke-width="1.1"/>
<text x="3815.41" y="517.18" font-size="13.90" textLength="16.52" lengthAdjust="spacingAndGlyphs" fill="#000" stroke-width="0.18">20</text>
<text x="3888.91" y="612.80" font-size="13.90" textLength="16.52" lengthAdjust="spacingAndGlyphs" fill="#000" stroke-width="0.18">20</text>
<line x1="3836.38" y1="566.80" x2="3841.38" y2="566.80" stroke="#000" stroke-width="1.1"/>
<line x1="3951.78" y1="592.70" x2="3951.78" y2="597.70" stroke="#000" stroke-width="1.1"/>
<text x="3815.87" y="571.70" font-size="13.90" textLength="16.05" lengthAdjust="spacingAndGlyphs" fill="#000" stroke-width="0.18">40</text>
<text x="3943.88" y="612.80" font-size="13.90" textLength="16.05" lengthAdjust="spacingAndGlyphs" fill="#000" stroke-width="0.18">40</text>
<rect x="4039.94" y="456.40" width="136.3" height="136.3" fill="none" stroke="#d4202c" stroke-width="1.5"/>
<text x="4076.23" y="448.40" font-size="17.20" textLength="63.66" lengthAdjust="spacingAndGlyphs" fill="#000" stroke-width="0.22">845903</text>
<line x1="4034.94" y1="457.76" x2="4039.94" y2="457.76" stroke="#000" stroke-width="1.1"/>
<line x1="4041.30" y1="592.70" x2="4041.30" y2="597.70" stroke="#000" stroke-width="1.1"/>
<text x="4022.63" y="462.66" font-size="13.90" textLength="7.82" lengthAdjust="spacingAndGlyphs" fill="#000" stroke-width="0.18">0</text>
<text x="4037.37" y="612.80" font-size="13.90" textLength="7.82" lengthAdjust="spacingAndGlyphs" fill="#000" stroke-width="0.18">0</text>
<line x1="4034.94" y1="512.28" x2="4039.94" y2="512.28" stroke="#000" stroke-width="1.1"/>
<line x1="4095.82" y1="592.70" x2="4095.82" y2="597.70" stroke="#000" stroke-width="1.1"/>
<text x="4013.97" y="517.18" font-size="13.90" textLength="16.52" lengthAdjust="spacingAndGlyphs" fill="#000" stroke-width="0.18">20</text>
<text x="4087.47" y="612.80" font-size="13.90" textLength="16.52" lengthAdjust="spacingAndGlyphs" fill="#000" stroke-width="0.18">20</text>
<line x1="4034.94" y1="566.80" x2="4039.94" y2="566.80" stroke="#000" stroke-width="1.1"/>
<line x1="4150.34" y1="592.70" x2="4150.34" y2="597.70" stroke="#000" stroke-width="1.1"/>
<text x="4014.43" y="571.70" font-size="13.90" textLength="16.05" lengthAdjust="spacingAndGlyphs" fill="#000" stroke-width="0.18">40</text>
<text x="4142.44" y="612.80" font-size="13.90" textLength="16.05" lengthAdjust="spacingAndGlyphs" fill="#000" stroke-width="0.18">40</text>
<rect x="4238.50" y="456.40" width="136.3" height="136.3" fill="none" stroke="#d4202c" stroke-width="1.5"/>
<text x="4274.79" y="448.40" font-size="17.20" textLength="63.47" lengthAdjust="spacingAndGlyphs" fill="#000" stroke-width="0.22">845904</text>
<line x1="4233.50" y1="457.76" x2="4238.50" y2="457.76" stroke="#000" stroke-width="1.1"/>
<line x1="4239.86" y1="592.70" x2="4239.86" y2="597.70" stroke="#000" stroke-width="1.1"/>
<text x="4221.19" y="462.66" font-size="13.90" textLength="7.82" lengthAdjust="spacingAndGlyphs" fill="#000" stroke-width="0.18">0</text>
<text x="4235.93" y="612.80" font-size="13.90" textLength="7.82" lengthAdjust="spacingAndGlyphs" fill="#000" stroke-width="0.18">0</text>
<line x1="4233.50" y1="512.28" x2="4238.50" y2="512.28" stroke="#000" stroke-width="1.1"/>
<line x1="4294.38" y1="592.70" x2="4294.38" y2="597.70" stroke="#000" stroke-width="1.1"/>
<text x="4212.53" y="517.18" font-size="13.90" textLength="16.52" lengthAdjust="spacingAndGlyphs" fill="#000" stroke-width="0.18">20</text>
<text x="4286.03" y="612.80" font-size="13.90" textLength="16.52" lengthAdjust="spacingAndGlyphs" fill="#000" stroke-width="0.18">20</text>
<line x1="4233.50" y1="566.80" x2="4238.50" y2="566.80" stroke="#000" stroke-width="1.1"/>
<line x1="4348.90" y1="592.70" x2="4348.90" y2="597.70" stroke="#000" stroke-width="1.1"/>
<text x="4212.99" y="571.70" font-size="13.90" textLength="16.05" lengthAdjust="spacingAndGlyphs" fill="#000" stroke-width="0.18">40</text>
<text x="4341.00" y="612.80" font-size="13.90" textLength="16.05" lengthAdjust="spacingAndGlyphs" fill="#000" stroke-width="0.18">40</text>
<rect x="2252.90" y="651.90" width="136.3" height="136.3" fill="none" stroke="#d4202c" stroke-width="1.5"/>
<text x="2289.19" y="643.90" font-size="17.20" textLength="63.66" lengthAdjust="spacingAndGlyphs" fill="#000" stroke-width="0.22">845905</text>
<line x1="2247.90" y1="653.26" x2="2252.90" y2="653.26" stroke="#000" stroke-width="1.1"/>
<line x1="2254.26" y1="788.20" x2="2254.26" y2="793.20" stroke="#000" stroke-width="1.1"/>
<text x="2235.59" y="658.16" font-size="13.90" textLength="7.82" lengthAdjust="spacingAndGlyphs" fill="#000" stroke-width="0.18">0</text>
<text x="2250.33" y="808.30" font-size="13.90" textLength="7.82" lengthAdjust="spacingAndGlyphs" fill="#000" stroke-width="0.18">0</text>
<line x1="2247.90" y1="707.78" x2="2252.90" y2="707.78" stroke="#000" stroke-width="1.1"/>
<line x1="2308.78" y1="788.20" x2="2308.78" y2="793.20" stroke="#000" stroke-width="1.1"/>
<text x="2226.93" y="712.68" font-size="13.90" textLength="16.52" lengthAdjust="spacingAndGlyphs" fill="#000" stroke-width="0.18">20</text>
<text x="2300.43" y="808.30" font-size="13.90" textLength="16.52" lengthAdjust="spacingAndGlyphs" fill="#000" stroke-width="0.18">20</text>
<line x1="2247.90" y1="762.30" x2="2252.90" y2="762.30" stroke="#000" stroke-width="1.1"/>
<line x1="2363.30" y1="788.20" x2="2363.30" y2="793.20" stroke="#000" stroke-width="1.1"/>
<text x="2227.39" y="767.20" font-size="13.90" textLength="16.05" lengthAdjust="spacingAndGlyphs" fill="#000" stroke-width="0.18">40</text>
<text x="2355.40" y="808.30" font-size="13.90" textLength="16.05" lengthAdjust="spacingAndGlyphs" fill="#000" stroke-width="0.18">40</text>
<rect x="2451.46" y="651.90" width="136.3" height="136.3" fill="none" stroke="#d4202c" stroke-width="1.5"/>
<text x="2487.75" y="643.90" font-size="17.20" textLength="63.66" lengthAdjust="spacingAndGlyphs" fill="#000" stroke-width="0.22">845906</text>
<line x1="2446.46" y1="653.26" x2="2451.46" y2="653.26" stroke="#000" stroke-width="1.1"/>
<line x1="2452.82" y1="788.20" x2="2452.82" y2="793.20" stroke="#000" stroke-width="1.1"/>
<text x="2434.15" y="658.16" font-size="13.90" textLength="7.82" lengthAdjust="spacingAndGlyphs" fill="#000" stroke-width="0.18">0</text>
<text x="2448.89" y="808.30" font-size="13.90" textLength="7.82" lengthAdjust="spacingAndGlyphs" fill="#000" stroke-width="0.18">0</text>
<line x1="2446.46" y1="707.78" x2="2451.46" y2="707.78" stroke="#000" stroke-width="1.1"/>
<line x1="2507.34" y1="788.20" x2="2507.34" y2="793.20" stroke="#000" stroke-width="1.1"/>
<text x="2425.49" y="712.68" font-size="13.90" textLength="16.52" lengthAdjust="spacingAndGlyphs" fill="#000" stroke-width="0.18">20</text>
<text x="2498.99" y="808.30" font-size="13.90" textLength="16.52" lengthAdjust="spacingAndGlyphs" fill="#000" stroke-width="0.18">20</text>
<line x1="2446.46" y1="762.30" x2="2451.46" y2="762.30" stroke="#000" stroke-width="1.1"/>
<line x1="2561.86" y1="788.20" x2="2561.86" y2="793.20" stroke="#000" stroke-width="1.1"/>
<text x="2425.95" y="767.20" font-size="13.90" textLength="16.05" lengthAdjust="spacingAndGlyphs" fill="#000" stroke-width="0.18">40</text>
<text x="2553.96" y="808.30" font-size="13.90" textLength="16.05" lengthAdjust="spacingAndGlyphs" fill="#000" stroke-width="0.18">40</text>
<rect x="2650.02" y="651.90" width="136.3" height="136.3" fill="none" stroke="#d4202c" stroke-width="1.5"/>
<text x="2686.31" y="643.90" font-size="17.20" textLength="63.86" lengthAdjust="spacingAndGlyphs" fill="#000" stroke-width="0.22">845907</text>
<line x1="2645.02" y1="653.26" x2="2650.02" y2="653.26" stroke="#000" stroke-width="1.1"/>
<line x1="2651.38" y1="788.20" x2="2651.38" y2="793.20" stroke="#000" stroke-width="1.1"/>
<text x="2632.71" y="658.16" font-size="13.90" textLength="7.82" lengthAdjust="spacingAndGlyphs" fill="#000" stroke-width="0.18">0</text>
<text x="2647.45" y="808.30" font-size="13.90" textLength="7.82" lengthAdjust="spacingAndGlyphs" fill="#000" stroke-width="0.18">0</text>
<line x1="2645.02" y1="707.78" x2="2650.02" y2="707.78" stroke="#000" stroke-width="1.1"/>
<line x1="2705.90" y1="788.20" x2="2705.90" y2="793.20" stroke="#000" stroke-width="1.1"/>
<text x="2624.05" y="712.68" font-size="13.90" textLength="16.52" lengthAdjust="spacingAndGlyphs" fill="#000" stroke-width="0.18">20</text>
<text x="2697.55" y="808.30" font-size="13.90" textLength="16.52" lengthAdjust="spacingAndGlyphs" fill="#000" stroke-width="0.18">20</text>
<line x1="2645.02" y1="762.30" x2="2650.02" y2="762.30" stroke="#000" stroke-width="1.1"/>
<line x1="2760.42" y1="788.20" x2="2760.42" y2="793.20" stroke="#000" stroke-width="1.1"/>
<text x="2624.51" y="767.20" font-size="13.90" textLength="16.05" lengthAdjust="spacingAndGlyphs" fill="#000" stroke-width="0.18">40</text>
<text x="2752.52" y="808.30" font-size="13.90" textLength="16.05" lengthAdjust="spacingAndGlyphs" fill="#000" stroke-width="0.18">40</text>
<rect x="2848.58" y="651.90" width="136.3" height="136.3" fill="none" stroke="#d4202c" stroke-width="1.5"/>
<text x="2884.87" y="643.90" font-size="17.20" textLength="63.66" lengthAdjust="spacingAndGlyphs" fill="#000" stroke-width="0.22">845908</text>
<line x1="2843.58" y1="653.26" x2="2848.58" y2="653.26" stroke="#000" stroke-width="1.1"/>
<line x1="2849.94" y1="788.20" x2="2849.94" y2="793.20" stroke="#000" stroke-width="1.1"/>
<text x="2831.27" y="658.16" font-size="13.90" textLength="7.82" lengthAdjust="spacingAndGlyphs" fill="#000" stroke-width="0.18">0</text>
<text x="2846.01" y="808.30" font-size="13.90" textLength="7.82" lengthAdjust="spacingAndGlyphs" fill="#000" stroke-width="0.18">0</text>
<line x1="2843.58" y1="707.78" x2="2848.58" y2="707.78" stroke="#000" stroke-width="1.1"/>
<line x1="2904.46" y1="788.20" x2="2904.46" y2="793.20" stroke="#000" stroke-width="1.1"/>
<text x="2822.61" y="712.68" font-size="13.90" textLength="16.52" lengthAdjust="spacingAndGlyphs" fill="#000" stroke-width="0.18">20</text>
<text x="2896.11" y="808.30" font-size="13.90" textLength="16.52" lengthAdjust="spacingAndGlyphs" fill="#000" stroke-width="0.18">20</text>
<line x1="2843.58" y1="762.30" x2="2848.58" y2="762.30" stroke="#000" stroke-width="1.1"/>
<line x1="2958.98" y1="788.20" x2="2958.98" y2="793.20" stroke="#000" stroke-width="1.1"/>
<text x="2823.07" y="767.20" font-size="13.90" textLength="16.05" lengthAdjust="spacingAndGlyphs" fill="#000" stroke-width="0.18">40</text>
<text x="2951.08" y="808.30" font-size="13.90" textLength="16.05" lengthAdjust="spacingAndGlyphs" fill="#000" stroke-width="0.18">40</text>
<rect x="3047.14" y="651.90" width="136.3" height="136.3" fill="none" stroke="#d4202c" stroke-width="1.5"/>
<text x="3083.43" y="643.90" font-size="17.20" textLength="63.76" lengthAdjust="spacingAndGlyphs" fill="#000" stroke-width="0.22">845909</text>
<line x1="3042.14" y1="653.26" x2="3047.14" y2="653.26" stroke="#000" stroke-width="1.1"/>
<line x1="3048.50" y1="788.20" x2="3048.50" y2="793.20" stroke="#000" stroke-width="1.1"/>
<text x="3029.83" y="658.16" font-size="13.90" textLength="7.82" lengthAdjust="spacingAndGlyphs" fill="#000" stroke-width="0.18">0</text>
<text x="3044.57" y="808.30" font-size="13.90" textLength="7.82" lengthAdjust="spacingAndGlyphs" fill="#000" stroke-width="0.18">0</text>
<line x1="3042.14" y1="707.78" x2="3047.14" y2="707.78" stroke="#000" stroke-width="1.1"/>
<line x1="3103.02" y1="788.20" x2="3103.02" y2="793.20" stroke="#000" stroke-width="1.1"/>
<text x="3021.17" y="712.68" font-size="13.90" textLength="16.52" lengthAdjust="spacingAndGlyphs" fill="#000" stroke-width="0.18">20</text>
<text x="3094.67" y="808.30" font-size="13.90" textLength="16.52" lengthAdjust="spacingAndGlyphs" fill="#000" stroke-width="0.18">20</text>
<line x1="3042.14" y1="762.30" x2="3047.14" y2="762.30" stroke="#000" stroke-width="1.1"/>
<line x1="3157.54" y1="788.20" x2="3157.54" y2="793.20" stroke="#000" stroke-width="1.1"/>
<text x="3021.63" y="767.20" font-size="13.90" textLength="16.05" lengthAdjust="spacingAndGlyphs" fill="#000" stroke-width="0.18">40</text>
<text x="3149.64" y="808.30" font-size="13.90" textLength="16.05" lengthAdjust="spacingAndGlyphs" fill="#000" stroke-width="0.18">40</text>
<rect x="3245.70" y="651.90" width="136.3" height="136.3" fill="none" stroke="#d4202c" stroke-width="1.5"/>
<text x="3281.99" y="643.90" font-size="17.20" textLength="63.56" lengthAdjust="spacingAndGlyphs" fill="#000" stroke-width="0.22">845910</text>
<line x1="3240.70" y1="653.26" x2="3245.70" y2="653.26" stroke="#000" stroke-width="1.1"/>
<line x1="3247.06" y1="788.20" x2="3247.06" y2="793.20" stroke="#000" stroke-width="1.1"/>
<text x="3228.39" y="658.16" font-size="13.90" textLength="7.82" lengthAdjust="spacingAndGlyphs" fill="#000" stroke-width="0.18">0</text>
<text x="3243.13" y="808.30" font-size="13.90" textLength="7.82" lengthAdjust="spacingAndGlyphs" fill="#000" stroke-width="0.18">0</text>
<line x1="3240.70" y1="707.78" x2="3245.70" y2="707.78" stroke="#000" stroke-width="1.1"/>
<line x1="3301.58" y1="788.20" x2="3301.58" y2="793.20" stroke="#000" stroke-width="1.1"/>
<text x="3219.73" y="712.68" font-size="13.90" textLength="16.52" lengthAdjust="spacingAndGlyphs" fill="#000" stroke-width="0.18">20</text>
<text x="3293.23" y="808.30" font-size="13.90" textLength="16.52" lengthAdjust="spacingAndGlyphs" fill="#000" stroke-width="0.18">20</text>
<line x1="3240.70" y1="762.30" x2="3245.70" y2="762.30" stroke="#000" stroke-width="1.1"/>
<line x1="3356.10" y1="788.20" x2="3356.10" y2="793.20" stroke="#000" stroke-width="1.1"/>
<text x="3220.19" y="767.20" font-size="13.90" textLength="16.05" lengthAdjust="spacingAndGlyphs" fill="#000" stroke-width="0.18">40</text>
<text x="3348.20" y="808.30" font-size="13.90" textLength="16.05" lengthAdjust="spacingAndGlyphs" fill="#000" stroke-width="0.18">40</text>
<rect x="3444.26" y="651.90" width="136.3" height="136.3" fill="none" stroke="#d4202c" stroke-width="1.5"/>
<text x="3480.53" y="643.90" font-size="17.20" textLength="63.82" lengthAdjust="spacingAndGlyphs" fill="#000" stroke-width="0.22">845911</text>
<line x1="3439.26" y1="653.26" x2="3444.26" y2="653.26" stroke="#000" stroke-width="1.1"/>
<line x1="3445.62" y1="788.20" x2="3445.62" y2="793.20" stroke="#000" stroke-width="1.1"/>
<text x="3426.95" y="658.16" font-size="13.90" textLength="7.82" lengthAdjust="spacingAndGlyphs" fill="#000" stroke-width="0.18">0</text>
<text x="3441.69" y="808.30" font-size="13.90" textLength="7.82" lengthAdjust="spacingAndGlyphs" fill="#000" stroke-width="0.18">0</text>
<line x1="3439.26" y1="707.78" x2="3444.26" y2="707.78" stroke="#000" stroke-width="1.1"/>
<line x1="3500.14" y1="788.20" x2="3500.14" y2="793.20" stroke="#000" stroke-width="1.1"/>
<text x="3418.29" y="712.68" font-size="13.90" textLength="16.52" lengthAdjust="spacingAndGlyphs" fill="#000" stroke-width="0.18">20</text>
<text x="3491.79" y="808.30" font-size="13.90" textLength="16.52" lengthAdjust="spacingAndGlyphs" fill="#000" stroke-width="0.18">20</text>
<line x1="3439.26" y1="762.30" x2="3444.26" y2="762.30" stroke="#000" stroke-width="1.1"/>
<line x1="3554.66" y1="788.20" x2="3554.66" y2="793.20" stroke="#000" stroke-width="1.1"/>
<text x="3418.75" y="767.20" font-size="13.90" textLength="16.05" lengthAdjust="spacingAndGlyphs" fill="#000" stroke-width="0.18">40</text>
<text x="3546.76" y="808.30" font-size="13.90" textLength="16.05" lengthAdjust="spacingAndGlyphs" fill="#000" stroke-width="0.18">40</text>
<rect x="3642.82" y="651.90" width="136.3" height="136.3" fill="none" stroke="#d4202c" stroke-width="1.5"/>
<text x="3679.11" y="643.90" font-size="17.20" textLength="63.86" lengthAdjust="spacingAndGlyphs" fill="#000" stroke-width="0.22">845912</text>
<line x1="3637.82" y1="653.26" x2="3642.82" y2="653.26" stroke="#000" stroke-width="1.1"/>
<line x1="3644.18" y1="788.20" x2="3644.18" y2="793.20" stroke="#000" stroke-width="1.1"/>
<text x="3625.51" y="658.16" font-size="13.90" textLength="7.82" lengthAdjust="spacingAndGlyphs" fill="#000" stroke-width="0.18">0</text>
<text x="3640.25" y="808.30" font-size="13.90" textLength="7.82" lengthAdjust="spacingAndGlyphs" fill="#000" stroke-width="0.18">0</text>
<line x1="3637.82" y1="707.78" x2="3642.82" y2="707.78" stroke="#000" stroke-width="1.1"/>
<line x1="3698.70" y1="788.20" x2="3698.70" y2="793.20" stroke="#000" stroke-width="1.1"/>
<text x="3616.85" y="712.68" font-size="13.90" textLength="16.52" lengthAdjust="spacingAndGlyphs" fill="#000" stroke-width="0.18">20</text>
<text x="3690.35" y="808.30" font-size="13.90" textLength="16.52" lengthAdjust="spacingAndGlyphs" fill="#000" stroke-width="0.18">20</text>
<line x1="3637.82" y1="762.30" x2="3642.82" y2="762.30" stroke="#000" stroke-width="1.1"/>
<line x1="3753.22" y1="788.20" x2="3753.22" y2="793.20" stroke="#000" stroke-width="1.1"/>
<text x="3617.31" y="767.20" font-size="13.90" textLength="16.05" lengthAdjust="spacingAndGlyphs" fill="#000" stroke-width="0.18">40</text>
<text x="3745.32" y="808.30" font-size="13.90" textLength="16.05" lengthAdjust="spacingAndGlyphs" fill="#000" stroke-width="0.18">40</text>
<rect x="3841.38" y="651.90" width="136.3" height="136.3" fill="none" stroke="#d4202c" stroke-width="1.5"/>
<text x="3877.67" y="643.90" font-size="17.20" textLength="63.66" lengthAdjust="spacingAndGlyphs" fill="#000" stroke-width="0.22">845913</text>
<line x1="3836.38" y1="653.26" x2="3841.38" y2="653.26" stroke="#000" stroke-width="1.1"/>
<line x1="3842.74" y1="788.20" x2="3842.74" y2="793.20" stroke="#000" stroke-width="1.1"/>
<text x="3824.07" y="658.16" font-size="13.90" textLength="7.82" lengthAdjust="spacingAndGlyphs" fill="#000" stroke-width="0.18">0</text>
<text x="3838.81" y="808.30" font-size="13.90" textLength="7.82" lengthAdjust="spacingAndGlyphs" fill="#000" stroke-width="0.18">0</text>
<line x1="3836.38" y1="707.78" x2="3841.38" y2="707.78" stroke="#000" stroke-width="1.1"/>
<line x1="3897.26" y1="788.20" x2="3897.26" y2="793.20" stroke="#000" stroke-width="1.1"/>
<text x="3815.41" y="712.68" font-size="13.90" textLength="16.52" lengthAdjust="spacingAndGlyphs" fill="#000" stroke-width="0.18">20</text>
<text x="3888.91" y="808.30" font-size="13.90" textLength="16.52" lengthAdjust="spacingAndGlyphs" fill="#000" stroke-width="0.18">20</text>
<line x1="3836.38" y1="762.30" x2="3841.38" y2="762.30" stroke="#000" stroke-width="1.1"/>
<line x1="3951.78" y1="788.20" x2="3951.78" y2="793.20" stroke="#000" stroke-width="1.1"/>
<text x="3815.87" y="767.20" font-size="13.90" textLength="16.05" lengthAdjust="spacingAndGlyphs" fill="#000" stroke-width="0.18">40</text>
<text x="3943.88" y="808.30" font-size="13.90" textLength="16.05" lengthAdjust="spacingAndGlyphs" fill="#000" stroke-width="0.18">40</text>
<rect x="4039.94" y="651.90" width="136.3" height="136.3" fill="none" stroke="#d4202c" stroke-width="1.5"/>
<text x="4076.23" y="643.90" font-size="17.20" textLength="63.47" lengthAdjust="spacingAndGlyphs" fill="#000" stroke-width="0.22">845914</text>
<line x1="4034.94" y1="653.26" x2="4039.94" y2="653.26" stroke="#000" stroke-width="1.1"/>
<line x1="4041.30" y1="788.20" x2="4041.30" y2="793.20" stroke="#000" stroke-width="1.1"/>
<text x="4022.63" y="658.16" font-size="13.90" textLength="7.82" lengthAdjust="spacingAndGlyphs" fill="#000" stroke-width="0.18">0</text>
<text x="4037.37" y="808.30" font-size="13.90" textLength="7.82" lengthAdjust="spacingAndGlyphs" fill="#000" stroke-width="0.18">0</text>
<line x1="4034.94" y1="707.78" x2="4039.94" y2="707.78" stroke="#000" stroke-width="1.1"/>
<line x1="4095.82" y1="788.20" x2="4095.82" y2="793.20" stroke="#000" stroke-width="1.1"/>
<text x="4013.97" y="712.68" font-size="13.90" textLength="16.52" lengthAdjust="spacingAndGlyphs" fill="#000" stroke-width="0.18">20</text>
<text x="4087.47" y="808.30" font-size="13.90" textLength="16.52" lengthAdjust="spacingAndGlyphs" fill="#000" stroke-width="0.18">20</text>
<line x1="4034.94" y1="762.30" x2="4039.94" y2="762.30" stroke="#000" stroke-width="1.1"/>
<line x1="4150.34" y1="788.20" x2="4150.34" y2="793.20" stroke="#000" stroke-width="1.1"/>
<text x="4014.43" y="767.20" font-size="13.90" textLength="16.05" lengthAdjust="spacingAndGlyphs" fill="#000" stroke-width="0.18">40</text>
<text x="4142.44" y="808.30" font-size="13.90" textLength="16.05" lengthAdjust="spacingAndGlyphs" fill="#000" stroke-width="0.18">40</text>
<rect x="4238.50" y="651.90" width="136.3" height="136.3" fill="none" stroke="#d4202c" stroke-width="1.5"/>
<text x="4274.79" y="643.90" font-size="17.20" textLength="63.66" lengthAdjust="spacingAndGlyphs" fill="#000" stroke-width="0.22">845915</text>
<line x1="4233.50" y1="653.26" x2="4238.50" y2="653.26" stroke="#000" stroke-width="1.1"/>
<line x1="4239.86" y1="788.20" x2="4239.86" y2="793.20" stroke="#000" stroke-width="1.1"/>
<text x="4221.19" y="658.16" font-size="13.90" textLength="7.82" lengthAdjust="spacingAndGlyphs" fill="#000" stroke-width="0.18">0</text>
<text x="4235.93" y="808.30" font-size="13.90" textLength="7.82" lengthAdjust="spacingAndGlyphs" fill="#000" stroke-width="0.18">0</text>
<line x1="4233.50" y1="707.78" x2="4238.50" y2="707.78" stroke="#000" stroke-width="1.1"/>
<line x1="4294.38" y1="788.20" x2="4294.38" y2="793.20" stroke="#000" stroke-width="1.1"/>
<text x="4212.53" y="712.68" font-size="13.90" textLength="16.52" lengthAdjust="spacingAndGlyphs" fill="#000" stroke-width="0.18">20</text>
<text x="4286.03" y="808.30" font-size="13.90" textLength="16.52" lengthAdjust="spacingAndGlyphs" fill="#000" stroke-width="0.18">20</text>
<line x1="4233.50" y1="762.30" x2="4238.50" y2="762.30" stroke="#000" stroke-width="1.1"/>
<line x1="4348.90" y1="788.20" x2="4348.90" y2="793.20" stroke="#000" stroke-width="1.1"/>
<text x="4212.99" y="767.20" font-size="13.90" textLength="16.05" lengthAdjust="spacingAndGlyphs" fill="#000" stroke-width="0.18">40</text>
<text x="4341.00" y="808.30" font-size="13.90" textLength="16.05" lengthAdjust="spacingAndGlyphs" fill="#000" stroke-width="0.18">40</text>
<rect x="2252.90" y="847.40" width="136.3" height="136.3" fill="none" stroke="#d4202c" stroke-width="1.5"/>
<text x="2289.19" y="839.40" font-size="17.20" textLength="63.66" lengthAdjust="spacingAndGlyphs" fill="#000" stroke-width="0.22">845916</text>
<line x1="2247.90" y1="848.76" x2="2252.90" y2="848.76" stroke="#000" stroke-width="1.1"/>
<line x1="2254.26" y1="983.70" x2="2254.26" y2="988.70" stroke="#000" stroke-width="1.1"/>
<text x="2235.59" y="853.66" font-size="13.90" textLength="7.82" lengthAdjust="spacingAndGlyphs" fill="#000" stroke-width="0.18">0</text>
<text x="2250.33" y="1003.80" font-size="13.90" textLength="7.82" lengthAdjust="spacingAndGlyphs" fill="#000" stroke-width="0.18">0</text>
<line x1="2247.90" y1="903.28" x2="2252.90" y2="903.28" stroke="#000" stroke-width="1.1"/>
<line x1="2308.78" y1="983.70" x2="2308.78" y2="988.70" stroke="#000" stroke-width="1.1"/>
<text x="2226.93" y="908.18" font-size="13.90" textLength="16.52" lengthAdjust="spacingAndGlyphs" fill="#000" stroke-width="0.18">20</text>
<text x="2300.43" y="1003.80" font-size="13.90" textLength="16.52" lengthAdjust="spacingAndGlyphs" fill="#000" stroke-width="0.18">20</text>
<line x1="2247.90" y1="957.80" x2="2252.90" y2="957.80" stroke="#000" stroke-width="1.1"/>
<line x1="2363.30" y1="983.70" x2="2363.30" y2="988.70" stroke="#000" stroke-width="1.1"/>
<text x="2227.39" y="962.70" font-size="13.90" textLength="16.05" lengthAdjust="spacingAndGlyphs" fill="#000" stroke-width="0.18">40</text>
<text x="2355.40" y="1003.80" font-size="13.90" textLength="16.05" lengthAdjust="spacingAndGlyphs" fill="#000" stroke-width="0.18">40</text>
<rect x="2451.46" y="847.40" width="136.3" height="136.3" fill="none" stroke="#d4202c" stroke-width="1.5"/>
<text x="2487.75" y="839.40" font-size="17.20" textLength="63.86" lengthAdjust="spacingAndGlyphs" fill="#000" stroke-width="0.22">845917</text>
<line x1="2446.46" y1="848.76" x2="2451.46" y2="848.76" stroke="#000" stroke-width="1.1"/>
<line x1="2452.82" y1="983.70" x2="2452.82" y2="988.70" stroke="#000" stroke-width="1.1"/>
<text x="2434.15" y="853.66" font-size="13.90" textLength="7.82" lengthAdjust="spacingAndGlyphs" fill="#000" stroke-width="0.18">0</text>
<text x="2448.89" y="1003.80" font-size="13.90" textLength="7.82" lengthAdjust="spacingAndGlyphs" fill="#000" stroke-width="0.18">0</text>
<line x1="2446.46" y1="903.28" x2="2451.46" y2="903.28" stroke="#000" stroke-width="1.1"/>
<line x1="2507.34" y1="983.70" x2="2507.34" y2="988.70" stroke="#000" stroke-width="1.1"/>
<text x="2425.49" y="908.18" font-size="13.90" textLength="16.52" lengthAdjust="spacingAndGlyphs" fill="#000" stroke-width="0.18">20</text>
<text x="2498.99" y="1003.80" font-size="13.90" textLength="16.52" lengthAdjust="spacingAndGlyphs" fill="#000" stroke-width="0.18">20</text>
<line x1="2446.46" y1="957.80" x2="2451.46" y2="957.80" stroke="#000" stroke-width="1.1"/>
<line x1="2561.86" y1="983.70" x2="2561.86" y2="988.70" stroke="#000" stroke-width="1.1"/>
<text x="2425.95" y="962.70" font-size="13.90" textLength="16.05" lengthAdjust="spacingAndGlyphs" fill="#000" stroke-width="0.18">40</text>
<text x="2553.96" y="1003.80" font-size="13.90" textLength="16.05" lengthAdjust="spacingAndGlyphs" fill="#000" stroke-width="0.18">40</text>
<rect x="2650.02" y="847.40" width="136.3" height="136.3" fill="none" stroke="#d4202c" stroke-width="1.5"/>
<text x="2686.31" y="839.40" font-size="17.20" textLength="63.66" lengthAdjust="spacingAndGlyphs" fill="#000" stroke-width="0.22">845918</text>
<line x1="2645.02" y1="848.76" x2="2650.02" y2="848.76" stroke="#000" stroke-width="1.1"/>
<line x1="2651.38" y1="983.70" x2="2651.38" y2="988.70" stroke="#000" stroke-width="1.1"/>
<text x="2632.71" y="853.66" font-size="13.90" textLength="7.82" lengthAdjust="spacingAndGlyphs" fill="#000" stroke-width="0.18">0</text>
<text x="2647.45" y="1003.80" font-size="13.90" textLength="7.82" lengthAdjust="spacingAndGlyphs" fill="#000" stroke-width="0.18">0</text>
<line x1="2645.02" y1="903.28" x2="2650.02" y2="903.28" stroke="#000" stroke-width="1.1"/>
<line x1="2705.90" y1="983.70" x2="2705.90" y2="988.70" stroke="#000" stroke-width="1.1"/>
<text x="2624.05" y="908.18" font-size="13.90" textLength="16.52" lengthAdjust="spacingAndGlyphs" fill="#000" stroke-width="0.18">20</text>
<text x="2697.55" y="1003.80" font-size="13.90" textLength="16.52" lengthAdjust="spacingAndGlyphs" fill="#000" stroke-width="0.18">20</text>
<line x1="2645.02" y1="957.80" x2="2650.02" y2="957.80" stroke="#000" stroke-width="1.1"/>
<line x1="2760.42" y1="983.70" x2="2760.42" y2="988.70" stroke="#000" stroke-width="1.1"/>
<text x="2624.51" y="962.70" font-size="13.90" textLength="16.05" lengthAdjust="spacingAndGlyphs" fill="#000" stroke-width="0.18">40</text>
<text x="2752.52" y="1003.80" font-size="13.90" textLength="16.05" lengthAdjust="spacingAndGlyphs" fill="#000" stroke-width="0.18">40</text>
<rect x="2848.58" y="847.40" width="136.3" height="136.3" fill="none" stroke="#d4202c" stroke-width="1.5"/>
<text x="2884.87" y="839.40" font-size="17.20" textLength="63.76" lengthAdjust="spacingAndGlyphs" fill="#000" stroke-width="0.22">845919</text>
<line x1="2843.58" y1="848.76" x2="2848.58" y2="848.76" stroke="#000" stroke-width="1.1"/>
<line x1="2849.94" y1="983.70" x2="2849.94" y2="988.70" stroke="#000" stroke-width="1.1"/>
<text x="2831.27" y="853.66" font-size="13.90" textLength="7.82" lengthAdjust="spacingAndGlyphs" fill="#000" stroke-width="0.18">0</text>
<text x="2846.01" y="1003.80" font-size="13.90" textLength="7.82" lengthAdjust="spacingAndGlyphs" fill="#000" stroke-width="0.18">0</text>
<line x1="2843.58" y1="903.28" x2="2848.58" y2="903.28" stroke="#000" stroke-width="1.1"/>
<line x1="2904.46" y1="983.70" x2="2904.46" y2="988.70" stroke="#000" stroke-width="1.1"/>
<text x="2822.61" y="908.18" font-size="13.90" textLength="16.52" lengthAdjust="spacingAndGlyphs" fill="#000" stroke-width="0.18">20</text>
<text x="2896.11" y="1003.80" font-size="13.90" textLength="16.52" lengthAdjust="spacingAndGlyphs" fill="#000" stroke-width="0.18">20</text>
<line x1="2843.58" y1="957.80" x2="2848.58" y2="957.80" stroke="#000" stroke-width="1.1"/>
<line x1="2958.98" y1="983.70" x2="2958.98" y2="988.70" stroke="#000" stroke-width="1.1"/>
<text x="2823.07" y="962.70" font-size="13.90" textLength="16.05" lengthAdjust="spacingAndGlyphs" fill="#000" stroke-width="0.18">40</text>
<text x="2951.08" y="1003.80" font-size="13.90" textLength="16.05" lengthAdjust="spacingAndGlyphs" fill="#000" stroke-width="0.18">40</text>
<rect x="3047.14" y="847.40" width="136.3" height="136.3" fill="none" stroke="#d4202c" stroke-width="1.5"/>
<text x="3083.43" y="839.40" font-size="17.20" textLength="63.56" lengthAdjust="spacingAndGlyphs" fill="#000" stroke-width="0.22">845920</text>
<line x1="3042.14" y1="848.76" x2="3047.14" y2="848.76" stroke="#000" stroke-width="1.1"/>
<line x1="3048.50" y1="983.70" x2="3048.50" y2="988.70" stroke="#000" stroke-width="1.1"/>
<text x="3029.83" y="853.66" font-size="13.90" textLength="7.82" lengthAdjust="spacingAndGlyphs" fill="#000" stroke-width="0.18">0</text>
<text x="3044.57" y="1003.80" font-size="13.90" textLength="7.82" lengthAdjust="spacingAndGlyphs" fill="#000" stroke-width="0.18">0</text>
<line x1="3042.14" y1="903.28" x2="3047.14" y2="903.28" stroke="#000" stroke-width="1.1"/>
<line x1="3103.02" y1="983.70" x2="3103.02" y2="988.70" stroke="#000" stroke-width="1.1"/>
<text x="3021.17" y="908.18" font-size="13.90" textLength="16.52" lengthAdjust="spacingAndGlyphs" fill="#000" stroke-width="0.18">20</text>
<text x="3094.67" y="1003.80" font-size="13.90" textLength="16.52" lengthAdjust="spacingAndGlyphs" fill="#000" stroke-width="0.18">20</text>
<line x1="3042.14" y1="957.80" x2="3047.14" y2="957.80" stroke="#000" stroke-width="1.1"/>
<line x1="3157.54" y1="983.70" x2="3157.54" y2="988.70" stroke="#000" stroke-width="1.1"/>
<text x="3021.63" y="962.70" font-size="13.90" textLength="16.05" lengthAdjust="spacingAndGlyphs" fill="#000" stroke-width="0.18">40</text>
<text x="3149.64" y="1003.80" font-size="13.90" textLength="16.05" lengthAdjust="spacingAndGlyphs" fill="#000" stroke-width="0.18">40</text>
<rect x="3245.70" y="847.40" width="136.3" height="136.3" fill="none" stroke="#d4202c" stroke-width="1.5"/>
<text x="3281.99" y="839.40" font-size="17.20" textLength="63.76" lengthAdjust="spacingAndGlyphs" fill="#000" stroke-width="0.22">845921</text>
<line x1="3240.70" y1="848.76" x2="3245.70" y2="848.76" stroke="#000" stroke-width="1.1"/>
<line x1="3247.06" y1="983.70" x2="3247.06" y2="988.70" stroke="#000" stroke-width="1.1"/>
<text x="3228.39" y="853.66" font-size="13.90" textLength="7.82" lengthAdjust="spacingAndGlyphs" fill="#000" stroke-width="0.18">0</text>
<text x="3243.13" y="1003.80" font-size="13.90" textLength="7.82" lengthAdjust="spacingAndGlyphs" fill="#000" stroke-width="0.18">0</text>
<line x1="3240.70" y1="903.28" x2="3245.70" y2="903.28" stroke="#000" stroke-width="1.1"/>
<line x1="3301.58" y1="983.70" x2="3301.58" y2="988.70" stroke="#000" stroke-width="1.1"/>
<text x="3219.73" y="908.18" font-size="13.90" textLength="16.52" lengthAdjust="spacingAndGlyphs" fill="#000" stroke-width="0.18">20</text>
<text x="3293.23" y="1003.80" font-size="13.90" textLength="16.52" lengthAdjust="spacingAndGlyphs" fill="#000" stroke-width="0.18">20</text>
<line x1="3240.70" y1="957.80" x2="3245.70" y2="957.80" stroke="#000" stroke-width="1.1"/>
<line x1="3356.10" y1="983.70" x2="3356.10" y2="988.70" stroke="#000" stroke-width="1.1"/>
<text x="3220.19" y="962.70" font-size="13.90" textLength="16.05" lengthAdjust="spacingAndGlyphs" fill="#000" stroke-width="0.18">40</text>
<text x="3348.20" y="1003.80" font-size="13.90" textLength="16.05" lengthAdjust="spacingAndGlyphs" fill="#000" stroke-width="0.18">40</text>
<rect x="3444.26" y="847.40" width="136.3" height="136.3" fill="none" stroke="#d4202c" stroke-width="1.5"/>
<text x="3480.55" y="839.40" font-size="17.20" textLength="63.86" lengthAdjust="spacingAndGlyphs" fill="#000" stroke-width="0.22">845922</text>
<line x1="3439.26" y1="848.76" x2="3444.26" y2="848.76" stroke="#000" stroke-width="1.1"/>
<line x1="3445.62" y1="983.70" x2="3445.62" y2="988.70" stroke="#000" stroke-width="1.1"/>
<text x="3426.95" y="853.66" font-size="13.90" textLength="7.82" lengthAdjust="spacingAndGlyphs" fill="#000" stroke-width="0.18">0</text>
<text x="3441.69" y="1003.80" font-size="13.90" textLength="7.82" lengthAdjust="spacingAndGlyphs" fill="#000" stroke-width="0.18">0</text>
<line x1="3439.26" y1="903.28" x2="3444.26" y2="903.28" stroke="#000" stroke-width="1.1"/>
<line x1="3500.14" y1="983.70" x2="3500.14" y2="988.70" stroke="#000" stroke-width="1.1"/>
<text x="3418.29" y="908.18" font-size="13.90" textLength="16.52" lengthAdjust="spacingAndGlyphs" fill="#000" stroke-width="0.18">20</text>
<text x="3491.79" y="1003.80" font-size="13.90" textLength="16.52" lengthAdjust="spacingAndGlyphs" fill="#000" stroke-width="0.18">20</text>
<line x1="3439.26" y1="957.80" x2="3444.26" y2="957.80" stroke="#000" stroke-width="1.1"/>
<line x1="3554.66" y1="983.70" x2="3554.66" y2="988.70" stroke="#000" stroke-width="1.1"/>
<text x="3418.75" y="962.70" font-size="13.90" textLength="16.05" lengthAdjust="spacingAndGlyphs" fill="#000" stroke-width="0.18">40</text>
<text x="3546.76" y="1003.80" font-size="13.90" textLength="16.05" lengthAdjust="spacingAndGlyphs" fill="#000" stroke-width="0.18">40</text>
<rect x="3642.82" y="847.40" width="136.3" height="136.3" fill="none" stroke="#d4202c" stroke-width="1.5"/>
<text x="3679.11" y="839.40" font-size="17.20" textLength="63.66" lengthAdjust="spacingAndGlyphs" fill="#000" stroke-width="0.22">845923</text>
<line x1="3637.82" y1="848.76" x2="3642.82" y2="848.76" stroke="#000" stroke-width="1.1"/>
<line x1="3644.18" y1="983.70" x2="3644.18" y2="988.70" stroke="#000" stroke-width="1.1"/>
<text x="3625.51" y="853.66" font-size="13.90" textLength="7.82" lengthAdjust="spacingAndGlyphs" fill="#000" stroke-width="0.18">0</text>
<text x="3640.25" y="1003.80" font-size="13.90" textLength="7.82" lengthAdjust="spacingAndGlyphs" fill="#000" stroke-width="0.18">0</text>
<line x1="3637.82" y1="903.28" x2="3642.82" y2="903.28" stroke="#000" stroke-width="1.1"/>
<line x1="3698.70" y1="983.70" x2="3698.70" y2="988.70" stroke="#000" stroke-width="1.1"/>
<text x="3616.85" y="908.18" font-size="13.90" textLength="16.52" lengthAdjust="spacingAndGlyphs" fill="#000" stroke-width="0.18">20</text>
<text x="3690.35" y="1003.80" font-size="13.90" textLength="16.52" lengthAdjust="spacingAndGlyphs" fill="#000" stroke-width="0.18">20</text>
<line x1="3637.82" y1="957.80" x2="3642.82" y2="957.80" stroke="#000" stroke-width="1.1"/>
<line x1="3753.22" y1="983.70" x2="3753.22" y2="988.70" stroke="#000" stroke-width="1.1"/>
<text x="3617.31" y="962.70" font-size="13.90" textLength="16.05" lengthAdjust="spacingAndGlyphs" fill="#000" stroke-width="0.18">40</text>
<text x="3745.32" y="1003.80" font-size="13.90" textLength="16.05" lengthAdjust="spacingAndGlyphs" fill="#000" stroke-width="0.18">40</text>
<rect x="3841.38" y="847.40" width="136.3" height="136.3" fill="none" stroke="#d4202c" stroke-width="1.5"/>
<text x="3877.67" y="839.40" font-size="17.20" textLength="63.47" lengthAdjust="spacingAndGlyphs" fill="#000" stroke-width="0.22">845924</text>
<line x1="3836.38" y1="848.76" x2="3841.38" y2="848.76" stroke="#000" stroke-width="1.1"/>
<line x1="3842.74" y1="983.70" x2="3842.74" y2="988.70" stroke="#000" stroke-width="1.1"/>
<text x="3824.07" y="853.66" font-size="13.90" textLength="7.82" lengthAdjust="spacingAndGlyphs" fill="#000" stroke-width="0.18">0</text>
<text x="3838.81" y="1003.80" font-size="13.90" textLength="7.82" lengthAdjust="spacingAndGlyphs" fill="#000" stroke-width="0.18">0</text>
<line x1="3836.38" y1="903.28" x2="3841.38" y2="903.28" stroke="#000" stroke-width="1.1"/>
<line x1="3897.26" y1="983.70" x2="3897.26" y2="988.70" stroke="#000" stroke-width="1.1"/>
<text x="3815.41" y="908.18" font-size="13.90" textLength="16.52" lengthAdjust="spacingAndGlyphs" fill="#000" stroke-width="0.18">20</text>
<text x="3888.91" y="1003.80" font-size="13.90" textLength="16.52" lengthAdjust="spacingAndGlyphs" fill="#000" stroke-width="0.18">20</text>
<line x1="3836.38" y1="957.80" x2="3841.38" y2="957.80" stroke="#000" stroke-width="1.1"/>
<line x1="3951.78" y1="983.70" x2="3951.78" y2="988.70" stroke="#000" stroke-width="1.1"/>
<text x="3815.87" y="962.70" font-size="13.90" textLength="16.05" lengthAdjust="spacingAndGlyphs" fill="#000" stroke-width="0.18">40</text>
<text x="3943.88" y="1003.80" font-size="13.90" textLength="16.05" lengthAdjust="spacingAndGlyphs" fill="#000" stroke-width="0.18">40</text>
<rect x="4039.94" y="847.40" width="136.3" height="136.3" fill="none" stroke="#d4202c" stroke-width="1.5"/>
<text x="4076.23" y="839.40" font-size="17.20" textLength="63.66" lengthAdjust="spacingAndGlyphs" fill="#000" stroke-width="0.22">845925</text>
<line x1="4034.94" y1="848.76" x2="4039.94" y2="848.76" stroke="#000" stroke-width="1.1"/>
<line x1="4041.30" y1="983.70" x2="4041.30" y2="988.70" stroke="#000" stroke-width="1.1"/>
<text x="4022.63" y="853.66" font-size="13.90" textLength="7.82" lengthAdjust="spacingAndGlyphs" fill="#000" stroke-width="0.18">0</text>
<text x="4037.37" y="1003.80" font-size="13.90" textLength="7.82" lengthAdjust="spacingAndGlyphs" fill="#000" stroke-width="0.18">0</text>
<line x1="4034.94" y1="903.28" x2="4039.94" y2="903.28" stroke="#000" stroke-width="1.1"/>
<line x1="4095.82" y1="983.70" x2="4095.82" y2="988.70" stroke="#000" stroke-width="1.1"/>
<text x="4013.97" y="908.18" font-size="13.90" textLength="16.52" lengthAdjust="spacingAndGlyphs" fill="#000" stroke-width="0.18">20</text>
<text x="4087.47" y="1003.80" font-size="13.90" textLength="16.52" lengthAdjust="spacingAndGlyphs" fill="#000" stroke-width="0.18">20</text>
<line x1="4034.94" y1="957.80" x2="4039.94" y2="957.80" stroke="#000" stroke-width="1.1"/>
<line x1="4150.34" y1="983.70" x2="4150.34" y2="988.70" stroke="#000" stroke-width="1.1"/>
<text x="4014.43" y="962.70" font-size="13.90" textLength="16.05" lengthAdjust="spacingAndGlyphs" fill="#000" stroke-width="0.18">40</text>
<text x="4142.44" y="1003.80" font-size="13.90" textLength="16.05" lengthAdjust="spacingAndGlyphs" fill="#000" stroke-width="0.18">40</text>
<rect x="4238.50" y="847.40" width="136.3" height="136.3" fill="none" stroke="#d4202c" stroke-width="1.5"/>
<text x="4274.79" y="839.40" font-size="17.20" textLength="63.66" lengthAdjust="spacingAndGlyphs" fill="#000" stroke-width="0.22">845926</text>
<line x1="4233.50" y1="848.76" x2="4238.50" y2="848.76" stroke="#000" stroke-width="1.1"/>
<line x1="4239.86" y1="983.70" x2="4239.86" y2="988.70" stroke="#000" stroke-width="1.1"/>
<text x="4221.19" y="853.66" font-size="13.90" textLength="7.82" lengthAdjust="spacingAndGlyphs" fill="#000" stroke-width="0.18">0</text>
<text x="4235.93" y="1003.80" font-size="13.90" textLength="7.82" lengthAdjust="spacingAndGlyphs" fill="#000" stroke-width="0.18">0</text>
<line x1="4233.50" y1="903.28" x2="4238.50" y2="903.28" stroke="#000" stroke-width="1.1"/>
<line x1="4294.38" y1="983.70" x2="4294.38" y2="988.70" stroke="#000" stroke-width="1.1"/>
<text x="4212.53" y="908.18" font-size="13.90" textLength="16.52" lengthAdjust="spacingAndGlyphs" fill="#000" stroke-width="0.18">20</text>
<text x="4286.03" y="1003.80" font-size="13.90" textLength="16.52" lengthAdjust="spacingAndGlyphs" fill="#000" stroke-width="0.18">20</text>
<line x1="4233.50" y1="957.80" x2="4238.50" y2="957.80" stroke="#000" stroke-width="1.1"/>
<line x1="4348.90" y1="983.70" x2="4348.90" y2="988.70" stroke="#000" stroke-width="1.1"/>
<text x="4212.99" y="962.70" font-size="13.90" textLength="16.05" lengthAdjust="spacingAndGlyphs" fill="#000" stroke-width="0.18">40</text>
<text x="4341.00" y="1003.80" font-size="13.90" textLength="16.05" lengthAdjust="spacingAndGlyphs" fill="#000" stroke-width="0.18">40</text>
<rect x="2252.90" y="1042.90" width="136.3" height="136.3" fill="none" stroke="#d4202c" stroke-width="1.5"/>
<text x="2289.19" y="1034.90" font-size="17.20" textLength="63.86" lengthAdjust="spacingAndGlyphs" fill="#000" stroke-width="0.22">845927</text>
<line x1="2247.90" y1="1044.26" x2="2252.90" y2="1044.26" stroke="#000" stroke-width="1.1"/>
<line x1="2254.26" y1="1179.20" x2="2254.26" y2="1184.20" stroke="#000" stroke-width="1.1"/>
<text x="2235.59" y="1049.16" font-size="13.90" textLength="7.82" lengthAdjust="spacingAndGlyphs" fill="#000" stroke-width="0.18">0</text>
<text x="2250.33" y="1199.30" font-size="13.90" textLength="7.82" lengthAdjust="spacingAndGlyphs" fill="#000" stroke-width="0.18">0</text>
<line x1="2247.90" y1="1098.78" x2="2252.90" y2="1098.78" stroke="#000" stroke-width="1.1"/>
<line x1="2308.78" y1="1179.20" x2="2308.78" y2="1184.20" stroke="#000" stroke-width="1.1"/>
<text x="2226.93" y="1103.68" font-size="13.90" textLength="16.52" lengthAdjust="spacingAndGlyphs" fill="#000" stroke-width="0.18">20</text>
<text x="2300.43" y="1199.30" font-size="13.90" textLength="16.52" lengthAdjust="spacingAndGlyphs" fill="#000" stroke-width="0.18">20</text>
<line x1="2247.90" y1="1153.30" x2="2252.90" y2="1153.30" stroke="#000" stroke-width="1.1"/>
<line x1="2363.30" y1="1179.20" x2="2363.30" y2="1184.20" stroke="#000" stroke-width="1.1"/>
<text x="2227.39" y="1158.20" font-size="13.90" textLength="16.05" lengthAdjust="spacingAndGlyphs" fill="#000" stroke-width="0.18">40</text>
<text x="2355.40" y="1199.30" font-size="13.90" textLength="16.05" lengthAdjust="spacingAndGlyphs" fill="#000" stroke-width="0.18">40</text>
<rect x="2451.46" y="1042.90" width="136.3" height="136.3" fill="none" stroke="#d4202c" stroke-width="1.5"/>
<text x="2487.75" y="1034.90" font-size="17.20" textLength="63.66" lengthAdjust="spacingAndGlyphs" fill="#000" stroke-width="0.22">845928</text>
<line x1="2446.46" y1="1044.26" x2="2451.46" y2="1044.26" stroke="#000" stroke-width="1.1"/>
<line x1="2452.82" y1="1179.20" x2="2452.82" y2="1184.20" stroke="#000" stroke-width="1.1"/>
<text x="2434.15" y="1049.16" font-size="13.90" textLength="7.82" lengthAdjust="spacingAndGlyphs" fill="#000" stroke-width="0.18">0</text>
<text x="2448.89" y="1199.30" font-size="13.90" textLength="7.82" lengthAdjust="spacingAndGlyphs" fill="#000" stroke-width="0.18">0</text>
<line x1="2446.46" y1="1098.78" x2="2451.46" y2="1098.78" stroke="#000" stroke-width="1.1"/>
<line x1="2507.34" y1="1179.20" x2="2507.34" y2="1184.20" stroke="#000" stroke-width="1.1"/>
<text x="2425.49" y="1103.68" font-size="13.90" textLength="16.52" lengthAdjust="spacingAndGlyphs" fill="#000" stroke-width="0.18">20</text>
<text x="2498.99" y="1199.30" font-size="13.90" textLength="16.52" lengthAdjust="spacingAndGlyphs" fill="#000" stroke-width="0.18">20</text>
<line x1="2446.46" y1="1153.30" x2="2451.46" y2="1153.30" stroke="#000" stroke-width="1.1"/>
<line x1="2561.86" y1="1179.20" x2="2561.86" y2="1184.20" stroke="#000" stroke-width="1.1"/>
<text x="2425.95" y="1158.20" font-size="13.90" textLength="16.05" lengthAdjust="spacingAndGlyphs" fill="#000" stroke-width="0.18">40</text>
<text x="2553.96" y="1199.30" font-size="13.90" textLength="16.05" lengthAdjust="spacingAndGlyphs" fill="#000" stroke-width="0.18">40</text>
<rect x="2650.02" y="1042.90" width="136.3" height="136.3" fill="none" stroke="#d4202c" stroke-width="1.5"/>
<text x="2686.31" y="1034.90" font-size="17.20" textLength="63.76" lengthAdjust="spacingAndGlyphs" fill="#000" stroke-width="0.22">845929</text>
<line x1="2645.02" y1="1044.26" x2="2650.02" y2="1044.26" stroke="#000" stroke-width="1.1"/>
<line x1="2651.38" y1="1179.20" x2="2651.38" y2="1184.20" stroke="#000" stroke-width="1.1"/>
<text x="2632.71" y="1049.16" font-size="13.90" textLength="7.82" lengthAdjust="spacingAndGlyphs" fill="#000" stroke-width="0.18">0</text>
<text x="2647.45" y="1199.30" font-size="13.90" textLength="7.82" lengthAdjust="spacingAndGlyphs" fill="#000" stroke-width="0.18">0</text>
<line x1="2645.02" y1="1098.78" x2="2650.02" y2="1098.78" stroke="#000" stroke-width="1.1"/>
<line x1="2705.90" y1="1179.20" x2="2705.90" y2="1184.20" stroke="#000" stroke-width="1.1"/>
<text x="2624.05" y="1103.68" font-size="13.90" textLength="16.52" lengthAdjust="spacingAndGlyphs" fill="#000" stroke-width="0.18">20</text>
<text x="2697.55" y="1199.30" font-size="13.90" textLength="16.52" lengthAdjust="spacingAndGlyphs" fill="#000" stroke-width="0.18">20</text>
<line x1="2645.02" y1="1153.30" x2="2650.02" y2="1153.30" stroke="#000" stroke-width="1.1"/>
<line x1="2760.42" y1="1179.20" x2="2760.42" y2="1184.20" stroke="#000" stroke-width="1.1"/>
<text x="2624.51" y="1158.20" font-size="13.90" textLength="16.05" lengthAdjust="spacingAndGlyphs" fill="#000" stroke-width="0.18">40</text>
<text x="2752.52" y="1199.30" font-size="13.90" textLength="16.05" lengthAdjust="spacingAndGlyphs" fill="#000" stroke-width="0.18">40</text>
<rect x="2848.58" y="1042.90" width="136.3" height="136.3" fill="none" stroke="#111" stroke-width="1.5"/>
<text x="2884.87" y="1034.90" font-size="17.20" textLength="63.56" lengthAdjust="spacingAndGlyphs" fill="#000" stroke-width="0.22">845930</text>
<line x1="2843.58" y1="1044.26" x2="2848.58" y2="1044.26" stroke="#000" stroke-width="1.1"/>
<line x1="2849.94" y1="1179.20" x2="2849.94" y2="1184.20" stroke="#000" stroke-width="1.1"/>
<text x="2831.27" y="1049.16" font-size="13.90" textLength="7.82" lengthAdjust="spacingAndGlyphs" fill="#000" stroke-width="0.18">0</text>
<text x="2846.01" y="1199.30" font-size="13.90" textLength="7.82" lengthAdjust="spacingAndGlyphs" fill="#000" stroke-width="0.18">0</text>
<line x1="2843.58" y1="1098.78" x2="2848.58" y2="1098.78" stroke="#000" stroke-width="1.1"/>
<line x1="2904.46" y1="1179.20" x2="2904.46" y2="1184.20" stroke="#000" stroke-width="1.1"/>
<text x="2822.61" y="1103.68" font-size="13.90" textLength="16.52" lengthAdjust="spacingAndGlyphs" fill="#000" stroke-width="0.18">20</text>
<text x="2896.11" y="1199.30" font-size="13.90" textLength="16.52" lengthAdjust="spacingAndGlyphs" fill="#000" stroke-width="0.18">20</text>
<line x1="2843.58" y1="1153.30" x2="2848.58" y2="1153.30" stroke="#000" stroke-width="1.1"/>
<line x1="2958.98" y1="1179.20" x2="2958.98" y2="1184.20" stroke="#000" stroke-width="1.1"/>
<text x="2823.07" y="1158.20" font-size="13.90" textLength="16.05" lengthAdjust="spacingAndGlyphs" fill="#000" stroke-width="0.18">40</text>
<text x="2951.08" y="1199.30" font-size="13.90" textLength="16.05" lengthAdjust="spacingAndGlyphs" fill="#000" stroke-width="0.18">40</text>
<rect x="3047.14" y="1042.90" width="136.3" height="136.3" fill="none" stroke="#d4202c" stroke-width="1.5"/>
<text x="3083.43" y="1034.90" font-size="17.20" textLength="63.76" lengthAdjust="spacingAndGlyphs" fill="#000" stroke-width="0.22">845931</text>
<line x1="3042.14" y1="1044.26" x2="3047.14" y2="1044.26" stroke="#000" stroke-width="1.1"/>
<line x1="3048.50" y1="1179.20" x2="3048.50" y2="1184.20" stroke="#000" stroke-width="1.1"/>
<text x="3029.83" y="1049.16" font-size="13.90" textLength="7.82" lengthAdjust="spacingAndGlyphs" fill="#000" stroke-width="0.18">0</text>
<text x="3044.57" y="1199.30" font-size="13.90" textLength="7.82" lengthAdjust="spacingAndGlyphs" fill="#000" stroke-width="0.18">0</text>
<line x1="3042.14" y1="1098.78" x2="3047.14" y2="1098.78" stroke="#000" stroke-width="1.1"/>
<line x1="3103.02" y1="1179.20" x2="3103.02" y2="1184.20" stroke="#000" stroke-width="1.1"/>
<text x="3021.17" y="1103.68" font-size="13.90" textLength="16.52" lengthAdjust="spacingAndGlyphs" fill="#000" stroke-width="0.18">20</text>
<text x="3094.67" y="1199.30" font-size="13.90" textLength="16.52" lengthAdjust="spacingAndGlyphs" fill="#000" stroke-width="0.18">20</text>
<line x1="3042.14" y1="1153.30" x2="3047.14" y2="1153.30" stroke="#000" stroke-width="1.1"/>
<line x1="3157.54" y1="1179.20" x2="3157.54" y2="1184.20" stroke="#000" stroke-width="1.1"/>
<text x="3021.63" y="1158.20" font-size="13.90" textLength="16.05" lengthAdjust="spacingAndGlyphs" fill="#000" stroke-width="0.18">40</text>
<text x="3149.64" y="1199.30" font-size="13.90" textLength="16.05" lengthAdjust="spacingAndGlyphs" fill="#000" stroke-width="0.18">40</text>
<rect x="3245.70" y="1042.90" width="136.3" height="136.3" fill="none" stroke="#d4202c" stroke-width="1.5"/>
<text x="3281.99" y="1034.90" font-size="17.20" textLength="63.86" lengthAdjust="spacingAndGlyphs" fill="#000" stroke-width="0.22">845932</text>
<line x1="3240.70" y1="1044.26" x2="3245.70" y2="1044.26" stroke="#000" stroke-width="1.1"/>
<line x1="3247.06" y1="1179.20" x2="3247.06" y2="1184.20" stroke="#000" stroke-width="1.1"/>
<text x="3228.39" y="1049.16" font-size="13.90" textLength="7.82" lengthAdjust="spacingAndGlyphs" fill="#000" stroke-width="0.18">0</text>
<text x="3243.13" y="1199.30" font-size="13.90" textLength="7.82" lengthAdjust="spacingAndGlyphs" fill="#000" stroke-width="0.18">0</text>
<line x1="3240.70" y1="1098.78" x2="3245.70" y2="1098.78" stroke="#000" stroke-width="1.1"/>
<line x1="3301.58" y1="1179.20" x2="3301.58" y2="1184.20" stroke="#000" stroke-width="1.1"/>
<text x="3219.73" y="1103.68" font-size="13.90" textLength="16.52" lengthAdjust="spacingAndGlyphs" fill="#000" stroke-width="0.18">20</text>
<text x="3293.23" y="1199.30" font-size="13.90" textLength="16.52" lengthAdjust="spacingAndGlyphs" fill="#000" stroke-width="0.18">20</text>
<line x1="3240.70" y1="1153.30" x2="3245.70" y2="1153.30" stroke="#000" stroke-width="1.1"/>
<line x1="3356.10" y1="1179.20" x2="3356.10" y2="1184.20" stroke="#000" stroke-width="1.1"/>
<text x="3220.19" y="1158.20" font-size="13.90" textLength="16.05" lengthAdjust="spacingAndGlyphs" fill="#000" stroke-width="0.18">40</text>
<text x="3348.20" y="1199.30" font-size="13.90" textLength="16.05" lengthAdjust="spacingAndGlyphs" fill="#000" stroke-width="0.18">40</text>
<rect x="3444.26" y="1042.90" width="136.3" height="136.3" fill="none" stroke="#d4202c" stroke-width="1.5"/>
<text x="3480.55" y="1034.90" font-size="17.20" textLength="63.66" lengthAdjust="spacingAndGlyphs" fill="#000" stroke-width="0.22">845933</text>
<line x1="3439.26" y1="1044.26" x2="3444.26" y2="1044.26" stroke="#000" stroke-width="1.1"/>
<line x1="3445.62" y1="1179.20" x2="3445.62" y2="1184.20" stroke="#000" stroke-width="1.1"/>
<text x="3426.95" y="1049.16" font-size="13.90" textLength="7.82" lengthAdjust="spacingAndGlyphs" fill="#000" stroke-width="0.18">0</text>
<text x="3441.69" y="1199.30" font-size="13.90" textLength="7.82" lengthAdjust="spacingAndGlyphs" fill="#000" stroke-width="0.18">0</text>
<line x1="3439.26" y1="1098.78" x2="3444.26" y2="1098.78" stroke="#000" stroke-width="1.1"/>
<line x1="3500.14" y1="1179.20" x2="3500.14" y2="1184.20" stroke="#000" stroke-width="1.1"/>
<text x="3418.29" y="1103.68" font-size="13.90" textLength="16.52" lengthAdjust="spacingAndGlyphs" fill="#000" stroke-width="0.18">20</text>
<text x="3491.79" y="1199.30" font-size="13.90" textLength="16.52" lengthAdjust="spacingAndGlyphs" fill="#000" stroke-width="0.18">20</text>
<line x1="3439.26" y1="1153.30" x2="3444.26" y2="1153.30" stroke="#000" stroke-width="1.1"/>
<line x1="3554.66" y1="1179.20" x2="3554.66" y2="1184.20" stroke="#000" stroke-width="1.1"/>
<text x="3418.75" y="1158.20" font-size="13.90" textLength="16.05" lengthAdjust="spacingAndGlyphs" fill="#000" stroke-width="0.18">40</text>
<text x="3546.76" y="1199.30" font-size="13.90" textLength="16.05" lengthAdjust="spacingAndGlyphs" fill="#000" stroke-width="0.18">40</text>
<rect x="3642.82" y="1042.90" width="136.3" height="136.3" fill="none" stroke="#d4202c" stroke-width="1.5"/>
<text x="3679.11" y="1034.90" font-size="17.20" textLength="63.47" lengthAdjust="spacingAndGlyphs" fill="#000" stroke-width="0.22">845934</text>
<line x1="3637.82" y1="1044.26" x2="3642.82" y2="1044.26" stroke="#000" stroke-width="1.1"/>
<line x1="3644.18" y1="1179.20" x2="3644.18" y2="1184.20" stroke="#000" stroke-width="1.1"/>
<text x="3625.51" y="1049.16" font-size="13.90" textLength="7.82" lengthAdjust="spacingAndGlyphs" fill="#000" stroke-width="0.18">0</text>
<text x="3640.25" y="1199.30" font-size="13.90" textLength="7.82" lengthAdjust="spacingAndGlyphs" fill="#000" stroke-width="0.18">0</text>
<line x1="3637.82" y1="1098.78" x2="3642.82" y2="1098.78" stroke="#000" stroke-width="1.1"/>
<line x1="3698.70" y1="1179.20" x2="3698.70" y2="1184.20" stroke="#000" stroke-width="1.1"/>
<text x="3616.85" y="1103.68" font-size="13.90" textLength="16.52" lengthAdjust="spacingAndGlyphs" fill="#000" stroke-width="0.18">20</text>
<text x="3690.35" y="1199.30" font-size="13.90" textLength="16.52" lengthAdjust="spacingAndGlyphs" fill="#000" stroke-width="0.18">20</text>
<line x1="3637.82" y1="1153.30" x2="3642.82" y2="1153.30" stroke="#000" stroke-width="1.1"/>
<line x1="3753.22" y1="1179.20" x2="3753.22" y2="1184.20" stroke="#000" stroke-width="1.1"/>
<text x="3617.31" y="1158.20" font-size="13.90" textLength="16.05" lengthAdjust="spacingAndGlyphs" fill="#000" stroke-width="0.18">40</text>
<text x="3745.32" y="1199.30" font-size="13.90" textLength="16.05" lengthAdjust="spacingAndGlyphs" fill="#000" stroke-width="0.18">40</text>
<rect x="3841.38" y="1042.90" width="136.3" height="136.3" fill="none" stroke="#d4202c" stroke-width="1.5"/>
<text x="3877.67" y="1034.90" font-size="17.20" textLength="63.66" lengthAdjust="spacingAndGlyphs" fill="#000" stroke-width="0.22">845935</text>
<line x1="3836.38" y1="1044.26" x2="3841.38" y2="1044.26" stroke="#000" stroke-width="1.1"/>
<line x1="3842.74" y1="1179.20" x2="3842.74" y2="1184.20" stroke="#000" stroke-width="1.1"/>
<text x="3824.07" y="1049.16" font-size="13.90" textLength="7.82" lengthAdjust="spacingAndGlyphs" fill="#000" stroke-width="0.18">0</text>
<text x="3838.81" y="1199.30" font-size="13.90" textLength="7.82" lengthAdjust="spacingAndGlyphs" fill="#000" stroke-width="0.18">0</text>
<line x1="3836.38" y1="1098.78" x2="3841.38" y2="1098.78" stroke="#000" stroke-width="1.1"/>
<line x1="3897.26" y1="1179.20" x2="3897.26" y2="1184.20" stroke="#000" stroke-width="1.1"/>
<text x="3815.41" y="1103.68" font-size="13.90" textLength="16.52" lengthAdjust="spacingAndGlyphs" fill="#000" stroke-width="0.18">20</text>
<text x="3888.91" y="1199.30" font-size="13.90" textLength="16.52" lengthAdjust="spacingAndGlyphs" fill="#000" stroke-width="0.18">20</text>
<line x1="3836.38" y1="1153.30" x2="3841.38" y2="1153.30" stroke="#000" stroke-width="1.1"/>
<line x1="3951.78" y1="1179.20" x2="3951.78" y2="1184.20" stroke="#000" stroke-width="1.1"/>
<text x="3815.87" y="1158.20" font-size="13.90" textLength="16.05" lengthAdjust="spacingAndGlyphs" fill="#000" stroke-width="0.18">40</text>
<text x="3943.88" y="1199.30" font-size="13.90" textLength="16.05" lengthAdjust="spacingAndGlyphs" fill="#000" stroke-width="0.18">40</text>
<rect x="4039.94" y="1042.90" width="136.3" height="136.3" fill="none" stroke="#d4202c" stroke-width="1.5"/>
<text x="4076.23" y="1034.90" font-size="17.20" textLength="63.66" lengthAdjust="spacingAndGlyphs" fill="#000" stroke-width="0.22">845936</text>
<line x1="4034.94" y1="1044.26" x2="4039.94" y2="1044.26" stroke="#000" stroke-width="1.1"/>
<line x1="4041.30" y1="1179.20" x2="4041.30" y2="1184.20" stroke="#000" stroke-width="1.1"/>
<text x="4022.63" y="1049.16" font-size="13.90" textLength="7.82" lengthAdjust="spacingAndGlyphs" fill="#000" stroke-width="0.18">0</text>
<text x="4037.37" y="1199.30" font-size="13.90" textLength="7.82" lengthAdjust="spacingAndGlyphs" fill="#000" stroke-width="0.18">0</text>
<line x1="4034.94" y1="1098.78" x2="4039.94" y2="1098.78" stroke="#000" stroke-width="1.1"/>
<line x1="4095.82" y1="1179.20" x2="4095.82" y2="1184.20" stroke="#000" stroke-width="1.1"/>
<text x="4013.97" y="1103.68" font-size="13.90" textLength="16.52" lengthAdjust="spacingAndGlyphs" fill="#000" stroke-width="0.18">20</text>
<text x="4087.47" y="1199.30" font-size="13.90" textLength="16.52" lengthAdjust="spacingAndGlyphs" fill="#000" stroke-width="0.18">20</text>
<line x1="4034.94" y1="1153.30" x2="4039.94" y2="1153.30" stroke="#000" stroke-width="1.1"/>
<line x1="4150.34" y1="1179.20" x2="4150.34" y2="1184.20" stroke="#000" stroke-width="1.1"/>
<text x="4014.43" y="1158.20" font-size="13.90" textLength="16.05" lengthAdjust="spacingAndGlyphs" fill="#000" stroke-width="0.18">40</text>
<text x="4142.44" y="1199.30" font-size="13.90" textLength="16.05" lengthAdjust="spacingAndGlyphs" fill="#000" stroke-width="0.18">40</text>
<rect x="4238.50" y="1042.90" width="136.3" height="136.3" fill="none" stroke="#d4202c" stroke-width="1.5"/>
<text x="4274.79" y="1034.90" font-size="17.20" textLength="63.86" lengthAdjust="spacingAndGlyphs" fill="#000" stroke-width="0.22">845937</text>
<line x1="4233.50" y1="1044.26" x2="4238.50" y2="1044.26" stroke="#000" stroke-width="1.1"/>
<line x1="4239.86" y1="1179.20" x2="4239.86" y2="1184.20" stroke="#000" stroke-width="1.1"/>
<text x="4221.19" y="1049.16" font-size="13.90" textLength="7.82" lengthAdjust="spacingAndGlyphs" fill="#000" stroke-width="0.18">0</text>
<text x="4235.93" y="1199.30" font-size="13.90" textLength="7.82" lengthAdjust="spacingAndGlyphs" fill="#000" stroke-width="0.18">0</text>
<line x1="4233.50" y1="1098.78" x2="4238.50" y2="1098.78" stroke="#000" stroke-width="1.1"/>
<line x1="4294.38" y1="1179.20" x2="4294.38" y2="1184.20" stroke="#000" stroke-width="1.1"/>
<text x="4212.53" y="1103.68" font-size="13.90" textLength="16.52" lengthAdjust="spacingAndGlyphs" fill="#000" stroke-width="0.18">20</text>
<text x="4286.03" y="1199.30" font-size="13.90" textLength="16.52" lengthAdjust="spacingAndGlyphs" fill="#000" stroke-width="0.18">20</text>
<line x1="4233.50" y1="1153.30" x2="4238.50" y2="1153.30" stroke="#000" stroke-width="1.1"/>
<line x1="4348.90" y1="1179.20" x2="4348.90" y2="1184.20" stroke="#000" stroke-width="1.1"/>
<text x="4212.99" y="1158.20" font-size="13.90" textLength="16.05" lengthAdjust="spacingAndGlyphs" fill="#000" stroke-width="0.18">40</text>
<text x="4341.00" y="1199.30" font-size="13.90" textLength="16.05" lengthAdjust="spacingAndGlyphs" fill="#000" stroke-width="0.18">40</text>
<rect x="2252.90" y="1238.40" width="136.3" height="136.3" fill="none" stroke="#d4202c" stroke-width="1.5"/>
<text x="2289.19" y="1230.40" font-size="17.20" textLength="63.66" lengthAdjust="spacingAndGlyphs" fill="#000" stroke-width="0.22">845938</text>
<line x1="2247.90" y1="1239.76" x2="2252.90" y2="1239.76" stroke="#000" stroke-width="1.1"/>
<line x1="2254.26" y1="1374.70" x2="2254.26" y2="1379.70" stroke="#000" stroke-width="1.1"/>
<text x="2235.59" y="1244.66" font-size="13.90" textLength="7.82" lengthAdjust="spacingAndGlyphs" fill="#000" stroke-width="0.18">0</text>
<text x="2250.33" y="1394.80" font-size="13.90" textLength="7.82" lengthAdjust="spacingAndGlyphs" fill="#000" stroke-width="0.18">0</text>
<line x1="2247.90" y1="1294.28" x2="2252.90" y2="1294.28" stroke="#000" stroke-width="1.1"/>
<line x1="2308.78" y1="1374.70" x2="2308.78" y2="1379.70" stroke="#000" stroke-width="1.1"/>
<text x="2226.93" y="1299.18" font-size="13.90" textLength="16.52" lengthAdjust="spacingAndGlyphs" fill="#000" stroke-width="0.18">20</text>
<text x="2300.43" y="1394.80" font-size="13.90" textLength="16.52" lengthAdjust="spacingAndGlyphs" fill="#000" stroke-width="0.18">20</text>
<line x1="2247.90" y1="1348.80" x2="2252.90" y2="1348.80" stroke="#000" stroke-width="1.1"/>
<line x1="2363.30" y1="1374.70" x2="2363.30" y2="1379.70" stroke="#000" stroke-width="1.1"/>
<text x="2227.39" y="1353.70" font-size="13.90" textLength="16.05" lengthAdjust="spacingAndGlyphs" fill="#000" stroke-width="0.18">40</text>
<text x="2355.40" y="1394.80" font-size="13.90" textLength="16.05" lengthAdjust="spacingAndGlyphs" fill="#000" stroke-width="0.18">40</text>
<rect x="2451.46" y="1238.40" width="136.3" height="136.3" fill="none" stroke="#d4202c" stroke-width="1.5"/>
<text x="2487.75" y="1230.40" font-size="17.20" textLength="63.76" lengthAdjust="spacingAndGlyphs" fill="#000" stroke-width="0.22">845939</text>
<line x1="2446.46" y1="1239.76" x2="2451.46" y2="1239.76" stroke="#000" stroke-width="1.1"/>
<line x1="2452.82" y1="1374.70" x2="2452.82" y2="1379.70" stroke="#000" stroke-width="1.1"/>
<text x="2434.15" y="1244.66" font-size="13.90" textLength="7.82" lengthAdjust="spacingAndGlyphs" fill="#000" stroke-width="0.18">0</text>
<text x="2448.89" y="1394.80" font-size="13.90" textLength="7.82" lengthAdjust="spacingAndGlyphs" fill="#000" stroke-width="0.18">0</text>
<line x1="2446.46" y1="1294.28" x2="2451.46" y2="1294.28" stroke="#000" stroke-width="1.1"/>
<line x1="2507.34" y1="1374.70" x2="2507.34" y2="1379.70" stroke="#000" stroke-width="1.1"/>
<text x="2425.49" y="1299.18" font-size="13.90" textLength="16.52" lengthAdjust="spacingAndGlyphs" fill="#000" stroke-width="0.18">20</text>
<text x="2498.99" y="1394.80" font-size="13.90" textLength="16.52" lengthAdjust="spacingAndGlyphs" fill="#000" stroke-width="0.18">20</text>
<line x1="2446.46" y1="1348.80" x2="2451.46" y2="1348.80" stroke="#000" stroke-width="1.1"/>
<line x1="2561.86" y1="1374.70" x2="2561.86" y2="1379.70" stroke="#000" stroke-width="1.1"/>
<text x="2425.95" y="1353.70" font-size="13.90" textLength="16.05" lengthAdjust="spacingAndGlyphs" fill="#000" stroke-width="0.18">40</text>
<text x="2553.96" y="1394.80" font-size="13.90" textLength="16.05" lengthAdjust="spacingAndGlyphs" fill="#000" stroke-width="0.18">40</text>
<rect x="2650.02" y="1238.40" width="136.3" height="136.3" fill="none" stroke="#d4202c" stroke-width="1.5"/>
<text x="2686.31" y="1230.40" font-size="17.20" textLength="63.56" lengthAdjust="spacingAndGlyphs" fill="#000" stroke-width="0.22">845940</text>
<line x1="2645.02" y1="1239.76" x2="2650.02" y2="1239.76" stroke="#000" stroke-width="1.1"/>
<line x1="2651.38" y1="1374.70" x2="2651.38" y2="1379.70" stroke="#000" stroke-width="1.1"/>
<text x="2632.71" y="1244.66" font-size="13.90" textLength="7.82" lengthAdjust="spacingAndGlyphs" fill="#000" stroke-width="0.18">0</text>
<text x="2647.45" y="1394.80" font-size="13.90" textLength="7.82" lengthAdjust="spacingAndGlyphs" fill="#000" stroke-width="0.18">0</text>
<line x1="2645.02" y1="1294.28" x2="2650.02" y2="1294.28" stroke="#000" stroke-width="1.1"/>
<line x1="2705.90" y1="1374.70" x2="2705.90" y2="1379.70" stroke="#000" stroke-width="1.1"/>
<text x="2624.05" y="1299.18" font-size="13.90" textLength="16.52" lengthAdjust="spacingAndGlyphs" fill="#000" stroke-width="0.18">20</text>
<text x="2697.55" y="1394.80" font-size="13.90" textLength="16.52" lengthAdjust="spacingAndGlyphs" fill="#000" stroke-width="0.18">20</text>
<line x1="2645.02" y1="1348.80" x2="2650.02" y2="1348.80" stroke="#000" stroke-width="1.1"/>
<line x1="2760.42" y1="1374.70" x2="2760.42" y2="1379.70" stroke="#000" stroke-width="1.1"/>
<text x="2624.51" y="1353.70" font-size="13.90" textLength="16.05" lengthAdjust="spacingAndGlyphs" fill="#000" stroke-width="0.18">40</text>
<text x="2752.52" y="1394.80" font-size="13.90" textLength="16.05" lengthAdjust="spacingAndGlyphs" fill="#000" stroke-width="0.18">40</text>
<rect x="2848.58" y="1238.40" width="136.3" height="136.3" fill="none" stroke="#d4202c" stroke-width="1.5"/>
<text x="2884.87" y="1230.40" font-size="17.20" textLength="63.76" lengthAdjust="spacingAndGlyphs" fill="#000" stroke-width="0.22">845941</text>
<line x1="2843.58" y1="1239.76" x2="2848.58" y2="1239.76" stroke="#000" stroke-width="1.1"/>
<line x1="2849.94" y1="1374.70" x2="2849.94" y2="1379.70" stroke="#000" stroke-width="1.1"/>
<text x="2831.27" y="1244.66" font-size="13.90" textLength="7.82" lengthAdjust="spacingAndGlyphs" fill="#000" stroke-width="0.18">0</text>
<text x="2846.01" y="1394.80" font-size="13.90" textLength="7.82" lengthAdjust="spacingAndGlyphs" fill="#000" stroke-width="0.18">0</text>
<line x1="2843.58" y1="1294.28" x2="2848.58" y2="1294.28" stroke="#000" stroke-width="1.1"/>
<line x1="2904.46" y1="1374.70" x2="2904.46" y2="1379.70" stroke="#000" stroke-width="1.1"/>
<text x="2822.61" y="1299.18" font-size="13.90" textLength="16.52" lengthAdjust="spacingAndGlyphs" fill="#000" stroke-width="0.18">20</text>
<text x="2896.11" y="1394.80" font-size="13.90" textLength="16.52" lengthAdjust="spacingAndGlyphs" fill="#000" stroke-width="0.18">20</text>
<line x1="2843.58" y1="1348.80" x2="2848.58" y2="1348.80" stroke="#000" stroke-width="1.1"/>
<line x1="2958.98" y1="1374.70" x2="2958.98" y2="1379.70" stroke="#000" stroke-width="1.1"/>
<text x="2823.07" y="1353.70" font-size="13.90" textLength="16.05" lengthAdjust="spacingAndGlyphs" fill="#000" stroke-width="0.18">40</text>
<text x="2951.08" y="1394.80" font-size="13.90" textLength="16.05" lengthAdjust="spacingAndGlyphs" fill="#000" stroke-width="0.18">40</text>
<rect x="3047.14" y="1238.40" width="136.3" height="136.3" fill="none" stroke="#d4202c" stroke-width="1.5"/>
<text x="3083.43" y="1230.40" font-size="17.20" textLength="63.86" lengthAdjust="spacingAndGlyphs" fill="#000" stroke-width="0.22">845942</text>
<line x1="3042.14" y1="1239.76" x2="3047.14" y2="1239.76" stroke="#000" stroke-width="1.1"/>
<line x1="3048.50" y1="1374.70" x2="3048.50" y2="1379.70" stroke="#000" stroke-width="1.1"/>
<text x="3029.83" y="1244.66" font-size="13.90" textLength="7.82" lengthAdjust="spacingAndGlyphs" fill="#000" stroke-width="0.18">0</text>
<text x="3044.57" y="1394.80" font-size="13.90" textLength="7.82" lengthAdjust="spacingAndGlyphs" fill="#000" stroke-width="0.18">0</text>
<line x1="3042.14" y1="1294.28" x2="3047.14" y2="1294.28" stroke="#000" stroke-width="1.1"/>
<line x1="3103.02" y1="1374.70" x2="3103.02" y2="1379.70" stroke="#000" stroke-width="1.1"/>
<text x="3021.17" y="1299.18" font-size="13.90" textLength="16.52" lengthAdjust="spacingAndGlyphs" fill="#000" stroke-width="0.18">20</text>
<text x="3094.67" y="1394.80" font-size="13.90" textLength="16.52" lengthAdjust="spacingAndGlyphs" fill="#000" stroke-width="0.18">20</text>
<line x1="3042.14" y1="1348.80" x2="3047.14" y2="1348.80" stroke="#000" stroke-width="1.1"/>
<line x1="3157.54" y1="1374.70" x2="3157.54" y2="1379.70" stroke="#000" stroke-width="1.1"/>
<text x="3021.63" y="1353.70" font-size="13.90" textLength="16.05" lengthAdjust="spacingAndGlyphs" fill="#000" stroke-width="0.18">40</text>
<text x="3149.64" y="1394.80" font-size="13.90" textLength="16.05" lengthAdjust="spacingAndGlyphs" fill="#000" stroke-width="0.18">40</text>
<rect x="3245.70" y="1238.40" width="136.3" height="136.3" fill="none" stroke="#d4202c" stroke-width="1.5"/>
<text x="3281.99" y="1230.40" font-size="17.20" textLength="63.66" lengthAdjust="spacingAndGlyphs" fill="#000" stroke-width="0.22">845943</text>
<line x1="3240.70" y1="1239.76" x2="3245.70" y2="1239.76" stroke="#000" stroke-width="1.1"/>
<line x1="3247.06" y1="1374.70" x2="3247.06" y2="1379.70" stroke="#000" stroke-width="1.1"/>
<text x="3228.39" y="1244.66" font-size="13.90" textLength="7.82" lengthAdjust="spacingAndGlyphs" fill="#000" stroke-width="0.18">0</text>
<text x="3243.13" y="1394.80" font-size="13.90" textLength="7.82" lengthAdjust="spacingAndGlyphs" fill="#000" stroke-width="0.18">0</text>
<line x1="3240.70" y1="1294.28" x2="3245.70" y2="1294.28" stroke="#000" stroke-width="1.1"/>
<line x1="3301.58" y1="1374.70" x2="3301.58" y2="1379.70" stroke="#000" stroke-width="1.1"/>
<text x="3219.73" y="1299.18" font-size="13.90" textLength="16.52" lengthAdjust="spacingAndGlyphs" fill="#000" stroke-width="0.18">20</text>
<text x="3293.23" y="1394.80" font-size="13.90" textLength="16.52" lengthAdjust="spacingAndGlyphs" fill="#000" stroke-width="0.18">20</text>
<line x1="3240.70" y1="1348.80" x2="3245.70" y2="1348.80" stroke="#000" stroke-width="1.1"/>
<line x1="3356.10" y1="1374.70" x2="3356.10" y2="1379.70" stroke="#000" stroke-width="1.1"/>
<text x="3220.19" y="1353.70" font-size="13.90" textLength="16.05" lengthAdjust="spacingAndGlyphs" fill="#000" stroke-width="0.18">40</text>
<text x="3348.20" y="1394.80" font-size="13.90" textLength="16.05" lengthAdjust="spacingAndGlyphs" fill="#000" stroke-width="0.18">40</text>
<rect x="3444.26" y="1238.40" width="136.3" height="136.3" fill="none" stroke="#d4202c" stroke-width="1.5"/>
<text x="3480.55" y="1230.40" font-size="17.20" textLength="63.47" lengthAdjust="spacingAndGlyphs" fill="#000" stroke-width="0.22">845944</text>
<line x1="3439.26" y1="1239.76" x2="3444.26" y2="1239.76" stroke="#000" stroke-width="1.1"/>
<line x1="3445.62" y1="1374.70" x2="3445.62" y2="1379.70" stroke="#000" stroke-width="1.1"/>
<text x="3426.95" y="1244.66" font-size="13.90" textLength="7.82" lengthAdjust="spacingAndGlyphs" fill="#000" stroke-width="0.18">0</text>
<text x="3441.69" y="1394.80" font-size="13.90" textLength="7.82" lengthAdjust="spacingAndGlyphs" fill="#000" stroke-width="0.18">0</text>
<line x1="3439.26" y1="1294.28" x2="3444.26" y2="1294.28" stroke="#000" stroke-width="1.1"/>
<line x1="3500.14" y1="1374.70" x2="3500.14" y2="1379.70" stroke="#000" stroke-width="1.1"/>
<text x="3418.29" y="1299.18" font-size="13.90" textLength="16.52" lengthAdjust="spacingAndGlyphs" fill="#000" stroke-width="0.18">20</text>
<text x="3491.79" y="1394.80" font-size="13.90" textLength="16.52" lengthAdjust="spacingAndGlyphs" fill="#000" stroke-width="0.18">20</text>
<line x1="3439.26" y1="1348.80" x2="3444.26" y2="1348.80" stroke="#000" stroke-width="1.1"/>
<line x1="3554.66" y1="1374.70" x2="3554.66" y2="1379.70" stroke="#000" stroke-width="1.1"/>
<text x="3418.75" y="1353.70" font-size="13.90" textLength="16.05" lengthAdjust="spacingAndGlyphs" fill="#000" stroke-width="0.18">40</text>
<text x="3546.76" y="1394.80" font-size="13.90" textLength="16.05" lengthAdjust="spacingAndGlyphs" fill="#000" stroke-width="0.18">40</text>
<rect x="3642.82" y="1238.40" width="136.3" height="136.3" fill="none" stroke="#d4202c" stroke-width="1.5"/>
<text x="3679.11" y="1230.40" font-size="17.20" textLength="63.66" lengthAdjust="spacingAndGlyphs" fill="#000" stroke-width="0.22">845945</text>
<line x1="3637.82" y1="1239.76" x2="3642.82" y2="1239.76" stroke="#000" stroke-width="1.1"/>
<line x1="3644.18" y1="1374.70" x2="3644.18" y2="1379.70" stroke="#000" stroke-width="1.1"/>
<text x="3625.51" y="1244.66" font-size="13.90" textLength="7.82" lengthAdjust="spacingAndGlyphs" fill="#000" stroke-width="0.18">0</text>
<text x="3640.25" y="1394.80" font-size="13.90" textLength="7.82" lengthAdjust="spacingAndGlyphs" fill="#000" stroke-width="0.18">0</text>
<line x1="3637.82" y1="1294.28" x2="3642.82" y2="1294.28" stroke="#000" stroke-width="1.1"/>
<line x1="3698.70" y1="1374.70" x2="3698.70" y2="1379.70" stroke="#000" stroke-width="1.1"/>
<text x="3616.85" y="1299.18" font-size="13.90" textLength="16.52" lengthAdjust="spacingAndGlyphs" fill="#000" stroke-width="0.18">20</text>
<text x="3690.35" y="1394.80" font-size="13.90" textLength="16.52" lengthAdjust="spacingAndGlyphs" fill="#000" stroke-width="0.18">20</text>
<line x1="3637.82" y1="1348.80" x2="3642.82" y2="1348.80" stroke="#000" stroke-width="1.1"/>
<line x1="3753.22" y1="1374.70" x2="3753.22" y2="1379.70" stroke="#000" stroke-width="1.1"/>
<text x="3617.31" y="1353.70" font-size="13.90" textLength="16.05" lengthAdjust="spacingAndGlyphs" fill="#000" stroke-width="0.18">40</text>
<text x="3745.32" y="1394.80" font-size="13.90" textLength="16.05" lengthAdjust="spacingAndGlyphs" fill="#000" stroke-width="0.18">40</text>
<rect x="3841.38" y="1238.40" width="136.3" height="136.3" fill="none" stroke="#d4202c" stroke-width="1.5"/>
<text x="3877.67" y="1230.40" font-size="17.20" textLength="63.66" lengthAdjust="spacingAndGlyphs" fill="#000" stroke-width="0.22">845946</text>
<line x1="3836.38" y1="1239.76" x2="3841.38" y2="1239.76" stroke="#000" stroke-width="1.1"/>
<line x1="3842.74" y1="1374.70" x2="3842.74" y2="1379.70" stroke="#000" stroke-width="1.1"/>
<text x="3824.07" y="1244.66" font-size="13.90" textLength="7.82" lengthAdjust="spacingAndGlyphs" fill="#000" stroke-width="0.18">0</text>
<text x="3838.81" y="1394.80" font-size="13.90" textLength="7.82" lengthAdjust="spacingAndGlyphs" fill="#000" stroke-width="0.18">0</text>
<line x1="3836.38" y1="1294.28" x2="3841.38" y2="1294.28" stroke="#000" stroke-width="1.1"/>
<line x1="3897.26" y1="1374.70" x2="3897.26" y2="1379.70" stroke="#000" stroke-width="1.1"/>
<text x="3815.41" y="1299.18" font-size="13.90" textLength="16.52" lengthAdjust="spacingAndGlyphs" fill="#000" stroke-width="0.18">20</text>
<text x="3888.91" y="1394.80" font-size="13.90" textLength="16.52" lengthAdjust="spacingAndGlyphs" fill="#000" stroke-width="0.18">20</text>
<line x1="3836.38" y1="1348.80" x2="3841.38" y2="1348.80" stroke="#000" stroke-width="1.1"/>
<line x1="3951.78" y1="1374.70" x2="3951.78" y2="1379.70" stroke="#000" stroke-width="1.1"/>
<text x="3815.87" y="1353.70" font-size="13.90" textLength="16.05" lengthAdjust="spacingAndGlyphs" fill="#000" stroke-width="0.18">40</text>
<text x="3943.88" y="1394.80" font-size="13.90" textLength="16.05" lengthAdjust="spacingAndGlyphs" fill="#000" stroke-width="0.18">40</text>
<rect x="4039.94" y="1238.40" width="136.3" height="136.3" fill="none" stroke="#d4202c" stroke-width="1.5"/>
<text x="4076.23" y="1230.40" font-size="17.20" textLength="63.86" lengthAdjust="spacingAndGlyphs" fill="#000" stroke-width="0.22">845947</text>
<line x1="4034.94" y1="1239.76" x2="4039.94" y2="1239.76" stroke="#000" stroke-width="1.1"/>
<line x1="4041.30" y1="1374.70" x2="4041.30" y2="1379.70" stroke="#000" stroke-width="1.1"/>
<text x="4022.63" y="1244.66" font-size="13.90" textLength="7.82" lengthAdjust="spacingAndGlyphs" fill="#000" stroke-width="0.18">0</text>
<text x="4037.37" y="1394.80" font-size="13.90" textLength="7.82" lengthAdjust="spacingAndGlyphs" fill="#000" stroke-width="0.18">0</text>
<line x1="4034.94" y1="1294.28" x2="4039.94" y2="1294.28" stroke="#000" stroke-width="1.1"/>
<line x1="4095.82" y1="1374.70" x2="4095.82" y2="1379.70" stroke="#000" stroke-width="1.1"/>
<text x="4013.97" y="1299.18" font-size="13.90" textLength="16.52" lengthAdjust="spacingAndGlyphs" fill="#000" stroke-width="0.18">20</text>
<text x="4087.47" y="1394.80" font-size="13.90" textLength="16.52" lengthAdjust="spacingAndGlyphs" fill="#000" stroke-width="0.18">20</text>
<line x1="4034.94" y1="1348.80" x2="4039.94" y2="1348.80" stroke="#000" stroke-width="1.1"/>
<line x1="4150.34" y1="1374.70" x2="4150.34" y2="1379.70" stroke="#000" stroke-width="1.1"/>
<text x="4014.43" y="1353.70" font-size="13.90" textLength="16.05" lengthAdjust="spacingAndGlyphs" fill="#000" stroke-width="0.18">40</text>
<text x="4142.44" y="1394.80" font-size="13.90" textLength="16.05" lengthAdjust="spacingAndGlyphs" fill="#000" stroke-width="0.18">40</text>
<rect x="4238.50" y="1238.40" width="136.3" height="136.3" fill="none" stroke="#d4202c" stroke-width="1.5"/>
<text x="4274.79" y="1230.40" font-size="17.20" textLength="63.66" lengthAdjust="spacingAndGlyphs" fill="#000" stroke-width="0.22">845948</text>
<line x1="4233.50" y1="1239.76" x2="4238.50" y2="1239.76" stroke="#000" stroke-width="1.1"/>
<line x1="4239.86" y1="1374.70" x2="4239.86" y2="1379.70" stroke="#000" stroke-width="1.1"/>
<text x="4221.19" y="1244.66" font-size="13.90" textLength="7.82" lengthAdjust="spacingAndGlyphs" fill="#000" stroke-width="0.18">0</text>
<text x="4235.93" y="1394.80" font-size="13.90" textLength="7.82" lengthAdjust="spacingAndGlyphs" fill="#000" stroke-width="0.18">0</text>
<line x1="4233.50" y1="1294.28" x2="4238.50" y2="1294.28" stroke="#000" stroke-width="1.1"/>
<line x1="4294.38" y1="1374.70" x2="4294.38" y2="1379.70" stroke="#000" stroke-width="1.1"/>
<text x="4212.53" y="1299.18" font-size="13.90" textLength="16.52" lengthAdjust="spacingAndGlyphs" fill="#000" stroke-width="0.18">20</text>
<text x="4286.03" y="1394.80" font-size="13.90" textLength="16.52" lengthAdjust="spacingAndGlyphs" fill="#000" stroke-width="0.18">20</text>
<line x1="4233.50" y1="1348.80" x2="4238.50" y2="1348.80" stroke="#000" stroke-width="1.1"/>
<line x1="4348.90" y1="1374.70" x2="4348.90" y2="1379.70" stroke="#000" stroke-width="1.1"/>
<text x="4212.99" y="1353.70" font-size="13.90" textLength="16.05" lengthAdjust="spacingAndGlyphs" fill="#000" stroke-width="0.18">40</text>
<text x="4341.00" y="1394.80" font-size="13.90" textLength="16.05" lengthAdjust="spacingAndGlyphs" fill="#000" stroke-width="0.18">40</text>
<rect x="2252.90" y="1433.90" width="136.3" height="136.3" fill="none" stroke="#d4202c" stroke-width="1.5"/>
<text x="2289.19" y="1425.90" font-size="17.20" textLength="63.76" lengthAdjust="spacingAndGlyphs" fill="#000" stroke-width="0.22">845949</text>
<line x1="2247.90" y1="1435.26" x2="2252.90" y2="1435.26" stroke="#000" stroke-width="1.1"/>
<line x1="2254.26" y1="1570.20" x2="2254.26" y2="1575.20" stroke="#000" stroke-width="1.1"/>
<text x="2235.59" y="1440.16" font-size="13.90" textLength="7.82" lengthAdjust="spacingAndGlyphs" fill="#000" stroke-width="0.18">0</text>
<text x="2250.33" y="1590.30" font-size="13.90" textLength="7.82" lengthAdjust="spacingAndGlyphs" fill="#000" stroke-width="0.18">0</text>
<line x1="2247.90" y1="1489.78" x2="2252.90" y2="1489.78" stroke="#000" stroke-width="1.1"/>
<line x1="2308.78" y1="1570.20" x2="2308.78" y2="1575.20" stroke="#000" stroke-width="1.1"/>
<text x="2226.93" y="1494.68" font-size="13.90" textLength="16.52" lengthAdjust="spacingAndGlyphs" fill="#000" stroke-width="0.18">20</text>
<text x="2300.43" y="1590.30" font-size="13.90" textLength="16.52" lengthAdjust="spacingAndGlyphs" fill="#000" stroke-width="0.18">20</text>
<line x1="2247.90" y1="1544.30" x2="2252.90" y2="1544.30" stroke="#000" stroke-width="1.1"/>
<line x1="2363.30" y1="1570.20" x2="2363.30" y2="1575.20" stroke="#000" stroke-width="1.1"/>
<text x="2227.39" y="1549.20" font-size="13.90" textLength="16.05" lengthAdjust="spacingAndGlyphs" fill="#000" stroke-width="0.18">40</text>
<text x="2355.40" y="1590.30" font-size="13.90" textLength="16.05" lengthAdjust="spacingAndGlyphs" fill="#000" stroke-width="0.18">40</text>
<rect x="2451.46" y="1433.90" width="136.3" height="136.3" fill="none" stroke="#d4202c" stroke-width="1.5"/>
<text x="2487.75" y="1425.90" font-size="17.20" textLength="63.56" lengthAdjust="spacingAndGlyphs" fill="#000" stroke-width="0.22">845950</text>
<line x1="2446.46" y1="1435.26" x2="2451.46" y2="1435.26" stroke="#000" stroke-width="1.1"/>
<line x1="2452.82" y1="1570.20" x2="2452.82" y2="1575.20" stroke="#000" stroke-width="1.1"/>
<text x="2434.15" y="1440.16" font-size="13.90" textLength="7.82" lengthAdjust="spacingAndGlyphs" fill="#000" stroke-width="0.18">0</text>
<text x="2448.89" y="1590.30" font-size="13.90" textLength="7.82" lengthAdjust="spacingAndGlyphs" fill="#000" stroke-width="0.18">0</text>
<line x1="2446.46" y1="1489.78" x2="2451.46" y2="1489.78" stroke="#000" stroke-width="1.1"/>
<line x1="2507.34" y1="1570.20" x2="2507.34" y2="1575.20" stroke="#000" stroke-width="1.1"/>
<text x="2425.49" y="1494.68" font-size="13.90" textLength="16.52" lengthAdjust="spacingAndGlyphs" fill="#000" stroke-width="0.18">20</text>
<text x="2498.99" y="1590.30" font-size="13.90" textLength="16.52" lengthAdjust="spacingAndGlyphs" fill="#000" stroke-width="0.18">20</text>
<line x1="2446.46" y1="1544.30" x2="2451.46" y2="1544.30" stroke="#000" stroke-width="1.1"/>
<line x1="2561.86" y1="1570.20" x2="2561.86" y2="1575.20" stroke="#000" stroke-width="1.1"/>
<text x="2425.95" y="1549.20" font-size="13.90" textLength="16.05" lengthAdjust="spacingAndGlyphs" fill="#000" stroke-width="0.18">40</text>
<text x="2553.96" y="1590.30" font-size="13.90" textLength="16.05" lengthAdjust="spacingAndGlyphs" fill="#000" stroke-width="0.18">40</text>
<rect x="2650.02" y="1433.90" width="136.3" height="136.3" fill="none" stroke="#d4202c" stroke-width="1.5"/>
<text x="2686.31" y="1425.90" font-size="17.20" textLength="63.76" lengthAdjust="spacingAndGlyphs" fill="#000" stroke-width="0.22">845951</text>
<line x1="2645.02" y1="1435.26" x2="2650.02" y2="1435.26" stroke="#000" stroke-width="1.1"/>
<line x1="2651.38" y1="1570.20" x2="2651.38" y2="1575.20" stroke="#000" stroke-width="1.1"/>
<text x="2632.71" y="1440.16" font-size="13.90" textLength="7.82" lengthAdjust="spacingAndGlyphs" fill="#000" stroke-width="0.18">0</text>
<text x="2647.45" y="1590.30" font-size="13.90" textLength="7.82" lengthAdjust="spacingAndGlyphs" fill="#000" stroke-width="0.18">0</text>
<line x1="2645.02" y1="1489.78" x2="2650.02" y2="1489.78" stroke="#000" stroke-width="1.1"/>
<line x1="2705.90" y1="1570.20" x2="2705.90" y2="1575.20" stroke="#000" stroke-width="1.1"/>
<text x="2624.05" y="1494.68" font-size="13.90" textLength="16.52" lengthAdjust="spacingAndGlyphs" fill="#000" stroke-width="0.18">20</text>
<text x="2697.55" y="1590.30" font-size="13.90" textLength="16.52" lengthAdjust="spacingAndGlyphs" fill="#000" stroke-width="0.18">20</text>
<line x1="2645.02" y1="1544.30" x2="2650.02" y2="1544.30" stroke="#000" stroke-width="1.1"/>
<line x1="2760.42" y1="1570.20" x2="2760.42" y2="1575.20" stroke="#000" stroke-width="1.1"/>
<text x="2624.51" y="1549.20" font-size="13.90" textLength="16.05" lengthAdjust="spacingAndGlyphs" fill="#000" stroke-width="0.18">40</text>
<text x="2752.52" y="1590.30" font-size="13.90" textLength="16.05" lengthAdjust="spacingAndGlyphs" fill="#000" stroke-width="0.18">40</text>
<rect x="2848.58" y="1433.90" width="136.3" height="136.3" fill="none" stroke="#111" stroke-width="1.5"/>
<text x="2884.87" y="1425.90" font-size="17.20" textLength="63.86" lengthAdjust="spacingAndGlyphs" fill="#000" stroke-width="0.22">845952</text>
<line x1="2843.58" y1="1435.26" x2="2848.58" y2="1435.26" stroke="#000" stroke-width="1.1"/>
<line x1="2849.94" y1="1570.20" x2="2849.94" y2="1575.20" stroke="#000" stroke-width="1.1"/>
<text x="2831.27" y="1440.16" font-size="13.90" textLength="7.82" lengthAdjust="spacingAndGlyphs" fill="#000" stroke-width="0.18">0</text>
<text x="2846.01" y="1590.30" font-size="13.90" textLength="7.82" lengthAdjust="spacingAndGlyphs" fill="#000" stroke-width="0.18">0</text>
<line x1="2843.58" y1="1489.78" x2="2848.58" y2="1489.78" stroke="#000" stroke-width="1.1"/>
<line x1="2904.46" y1="1570.20" x2="2904.46" y2="1575.20" stroke="#000" stroke-width="1.1"/>
<text x="2822.61" y="1494.68" font-size="13.90" textLength="16.52" lengthAdjust="spacingAndGlyphs" fill="#000" stroke-width="0.18">20</text>
<text x="2896.11" y="1590.30" font-size="13.90" textLength="16.52" lengthAdjust="spacingAndGlyphs" fill="#000" stroke-width="0.18">20</text>
<line x1="2843.58" y1="1544.30" x2="2848.58" y2="1544.30" stroke="#000" stroke-width="1.1"/>
<line x1="2958.98" y1="1570.20" x2="2958.98" y2="1575.20" stroke="#000" stroke-width="1.1"/>
<text x="2823.07" y="1549.20" font-size="13.90" textLength="16.05" lengthAdjust="spacingAndGlyphs" fill="#000" stroke-width="0.18">40</text>
<text x="2951.08" y="1590.30" font-size="13.90" textLength="16.05" lengthAdjust="spacingAndGlyphs" fill="#000" stroke-width="0.18">40</text>
<rect x="3047.14" y="1433.90" width="136.3" height="136.3" fill="none" stroke="#d4202c" stroke-width="1.5"/>
<text x="3083.43" y="1425.90" font-size="17.20" textLength="63.66" lengthAdjust="spacingAndGlyphs" fill="#000" stroke-width="0.22">845953</text>
<line x1="3042.14" y1="1435.26" x2="3047.14" y2="1435.26" stroke="#000" stroke-width="1.1"/>
<line x1="3048.50" y1="1570.20" x2="3048.50" y2="1575.20" stroke="#000" stroke-width="1.1"/>
<text x="3029.83" y="1440.16" font-size="13.90" textLength="7.82" lengthAdjust="spacingAndGlyphs" fill="#000" stroke-width="0.18">0</text>
<text x="3044.57" y="1590.30" font-size="13.90" textLength="7.82" lengthAdjust="spacingAndGlyphs" fill="#000" stroke-width="0.18">0</text>
<line x1="3042.14" y1="1489.78" x2="3047.14" y2="1489.78" stroke="#000" stroke-width="1.1"/>
<line x1="3103.02" y1="1570.20" x2="3103.02" y2="1575.20" stroke="#000" stroke-width="1.1"/>
<text x="3021.17" y="1494.68" font-size="13.90" textLength="16.52" lengthAdjust="spacingAndGlyphs" fill="#000" stroke-width="0.18">20</text>
<text x="3094.67" y="1590.30" font-size="13.90" textLength="16.52" lengthAdjust="spacingAndGlyphs" fill="#000" stroke-width="0.18">20</text>
<line x1="3042.14" y1="1544.30" x2="3047.14" y2="1544.30" stroke="#000" stroke-width="1.1"/>
<line x1="3157.54" y1="1570.20" x2="3157.54" y2="1575.20" stroke="#000" stroke-width="1.1"/>
<text x="3021.63" y="1549.20" font-size="13.90" textLength="16.05" lengthAdjust="spacingAndGlyphs" fill="#000" stroke-width="0.18">40</text>
<text x="3149.64" y="1590.30" font-size="13.90" textLength="16.05" lengthAdjust="spacingAndGlyphs" fill="#000" stroke-width="0.18">40</text>
<rect x="3245.70" y="1433.90" width="136.3" height="136.3" fill="none" stroke="#d4202c" stroke-width="1.5"/>
<text x="3281.99" y="1425.90" font-size="17.20" textLength="63.47" lengthAdjust="spacingAndGlyphs" fill="#000" stroke-width="0.22">845954</text>
<line x1="3240.70" y1="1435.26" x2="3245.70" y2="1435.26" stroke="#000" stroke-width="1.1"/>
<line x1="3247.06" y1="1570.20" x2="3247.06" y2="1575.20" stroke="#000" stroke-width="1.1"/>
<text x="3228.39" y="1440.16" font-size="13.90" textLength="7.82" lengthAdjust="spacingAndGlyphs" fill="#000" stroke-width="0.18">0</text>
<text x="3243.13" y="1590.30" font-size="13.90" textLength="7.82" lengthAdjust="spacingAndGlyphs" fill="#000" stroke-width="0.18">0</text>
<line x1="3240.70" y1="1489.78" x2="3245.70" y2="1489.78" stroke="#000" stroke-width="1.1"/>
<line x1="3301.58" y1="1570.20" x2="3301.58" y2="1575.20" stroke="#000" stroke-width="1.1"/>
<text x="3219.73" y="1494.68" font-size="13.90" textLength="16.52" lengthAdjust="spacingAndGlyphs" fill="#000" stroke-width="0.18">20</text>
<text x="3293.23" y="1590.30" font-size="13.90" textLength="16.52" lengthAdjust="spacingAndGlyphs" fill="#000" stroke-width="0.18">20</text>
<line x1="3240.70" y1="1544.30" x2="3245.70" y2="1544.30" stroke="#000" stroke-width="1.1"/>
<line x1="3356.10" y1="1570.20" x2="3356.10" y2="1575.20" stroke="#000" stroke-width="1.1"/>
<text x="3220.19" y="1549.20" font-size="13.90" textLength="16.05" lengthAdjust="spacingAndGlyphs" fill="#000" stroke-width="0.18">40</text>
<text x="3348.20" y="1590.30" font-size="13.90" textLength="16.05" lengthAdjust="spacingAndGlyphs" fill="#000" stroke-width="0.18">40</text>
<rect x="3444.26" y="1433.90" width="136.3" height="136.3" fill="none" stroke="#111" stroke-width="1.5"/>
<text x="3480.55" y="1425.90" font-size="17.20" textLength="63.66" lengthAdjust="spacingAndGlyphs" fill="#000" stroke-width="0.22">845955</text>
<line x1="3439.26" y1="1435.26" x2="3444.26" y2="1435.26" stroke="#000" stroke-width="1.1"/>
<line x1="3445.62" y1="1570.20" x2="3445.62" y2="1575.20" stroke="#000" stroke-width="1.1"/>
<text x="3426.95" y="1440.16" font-size="13.90" textLength="7.82" lengthAdjust="spacingAndGlyphs" fill="#000" stroke-width="0.18">0</text>
<text x="3441.69" y="1590.30" font-size="13.90" textLength="7.82" lengthAdjust="spacingAndGlyphs" fill="#000" stroke-width="0.18">0</text>
<line x1="3439.26" y1="1489.78" x2="3444.26" y2="1489.78" stroke="#000" stroke-width="1.1"/>
<line x1="3500.14" y1="1570.20" x2="3500.14" y2="1575.20" stroke="#000" stroke-width="1.1"/>
<text x="3418.29" y="1494.68" font-size="13.90" textLength="16.52" lengthAdjust="spacingAndGlyphs" fill="#000" stroke-width="0.18">20</text>
<text x="3491.79" y="1590.30" font-size="13.90" textLength="16.52" lengthAdjust="spacingAndGlyphs" fill="#000" stroke-width="0.18">20</text>
<line x1="3439.26" y1="1544.30" x2="3444.26" y2="1544.30" stroke="#000" stroke-width="1.1"/>
<line x1="3554.66" y1="1570.20" x2="3554.66" y2="1575.20" stroke="#000" stroke-width="1.1"/>
<text x="3418.75" y="1549.20" font-size="13.90" textLength="16.05" lengthAdjust="spacingAndGlyphs" fill="#000" stroke-width="0.18">40</text>
<text x="3546.76" y="1590.30" font-size="13.90" textLength="16.05" lengthAdjust="spacingAndGlyphs" fill="#000" stroke-width="0.18">40</text>
<rect x="3642.82" y="1433.90" width="136.3" height="136.3" fill="none" stroke="#d4202c" stroke-width="1.5"/>
<text x="3679.11" y="1425.90" font-size="17.20" textLength="63.66" lengthAdjust="spacingAndGlyphs" fill="#000" stroke-width="0.22">845956</text>
<line x1="3637.82" y1="1435.26" x2="3642.82" y2="1435.26" stroke="#000" stroke-width="1.1"/>
<line x1="3644.18" y1="1570.20" x2="3644.18" y2="1575.20" stroke="#000" stroke-width="1.1"/>
<text x="3625.51" y="1440.16" font-size="13.90" textLength="7.82" lengthAdjust="spacingAndGlyphs" fill="#000" stroke-width="0.18">0</text>
<text x="3640.25" y="1590.30" font-size="13.90" textLength="7.82" lengthAdjust="spacingAndGlyphs" fill="#000" stroke-width="0.18">0</text>
<line x1="3637.82" y1="1489.78" x2="3642.82" y2="1489.78" stroke="#000" stroke-width="1.1"/>
<line x1="3698.70" y1="1570.20" x2="3698.70" y2="1575.20" stroke="#000" stroke-width="1.1"/>
<text x="3616.85" y="1494.68" font-size="13.90" textLength="16.52" lengthAdjust="spacingAndGlyphs" fill="#000" stroke-width="0.18">20</text>
<text x="3690.35" y="1590.30" font-size="13.90" textLength="16.52" lengthAdjust="spacingAndGlyphs" fill="#000" stroke-width="0.18">20</text>
<line x1="3637.82" y1="1544.30" x2="3642.82" y2="1544.30" stroke="#000" stroke-width="1.1"/>
<line x1="3753.22" y1="1570.20" x2="3753.22" y2="1575.20" stroke="#000" stroke-width="1.1"/>
<text x="3617.31" y="1549.20" font-size="13.90" textLength="16.05" lengthAdjust="spacingAndGlyphs" fill="#000" stroke-width="0.18">40</text>
<text x="3745.32" y="1590.30" font-size="13.90" textLength="16.05" lengthAdjust="spacingAndGlyphs" fill="#000" stroke-width="0.18">40</text>
<rect x="3841.38" y="1433.90" width="136.3" height="136.3" fill="none" stroke="#d4202c" stroke-width="1.5"/>
<text x="3877.67" y="1425.90" font-size="17.20" textLength="63.86" lengthAdjust="spacingAndGlyphs" fill="#000" stroke-width="0.22">845957</text>
<line x1="3836.38" y1="1435.26" x2="3841.38" y2="1435.26" stroke="#000" stroke-width="1.1"/>
<line x1="3842.74" y1="1570.20" x2="3842.74" y2="1575.20" stroke="#000" stroke-width="1.1"/>
<text x="3824.07" y="1440.16" font-size="13.90" textLength="7.82" lengthAdjust="spacingAndGlyphs" fill="#000" stroke-width="0.18">0</text>
<text x="3838.81" y="1590.30" font-size="13.90" textLength="7.82" lengthAdjust="spacingAndGlyphs" fill="#000" stroke-width="0.18">0</text>
<line x1="3836.38" y1="1489.78" x2="3841.38" y2="1489.78" stroke="#000" stroke-width="1.1"/>
<line x1="3897.26" y1="1570.20" x2="3897.26" y2="1575.20" stroke="#000" stroke-width="1.1"/>
<text x="3815.41" y="1494.68" font-size="13.90" textLength="16.52" lengthAdjust="spacingAndGlyphs" fill="#000" stroke-width="0.18">20</text>
<text x="3888.91" y="1590.30" font-size="13.90" textLength="16.52" lengthAdjust="spacingAndGlyphs" fill="#000" stroke-width="0.18">20</text>
<line x1="3836.38" y1="1544.30" x2="3841.38" y2="1544.30" stroke="#000" stroke-width="1.1"/>
<line x1="3951.78" y1="1570.20" x2="3951.78" y2="1575.20" stroke="#000" stroke-width="1.1"/>
<text x="3815.87" y="1549.20" font-size="13.90" textLength="16.05" lengthAdjust="spacingAndGlyphs" fill="#000" stroke-width="0.18">40</text>
<text x="3943.88" y="1590.30" font-size="13.90" textLength="16.05" lengthAdjust="spacingAndGlyphs" fill="#000" stroke-width="0.18">40</text>
<rect x="4039.94" y="1433.90" width="136.3" height="136.3" fill="none" stroke="#d4202c" stroke-width="1.5"/>
<text x="4076.23" y="1425.90" font-size="17.20" textLength="63.66" lengthAdjust="spacingAndGlyphs" fill="#000" stroke-width="0.22">845958</text>
<line x1="4034.94" y1="1435.26" x2="4039.94" y2="1435.26" stroke="#000" stroke-width="1.1"/>
<line x1="4041.30" y1="1570.20" x2="4041.30" y2="1575.20" stroke="#000" stroke-width="1.1"/>
<text x="4022.63" y="1440.16" font-size="13.90" textLength="7.82" lengthAdjust="spacingAndGlyphs" fill="#000" stroke-width="0.18">0</text>
<text x="4037.37" y="1590.30" font-size="13.90" textLength="7.82" lengthAdjust="spacingAndGlyphs" fill="#000" stroke-width="0.18">0</text>
<line x1="4034.94" y1="1489.78" x2="4039.94" y2="1489.78" stroke="#000" stroke-width="1.1"/>
<line x1="4095.82" y1="1570.20" x2="4095.82" y2="1575.20" stroke="#000" stroke-width="1.1"/>
<text x="4013.97" y="1494.68" font-size="13.90" textLength="16.52" lengthAdjust="spacingAndGlyphs" fill="#000" stroke-width="0.18">20</text>
<text x="4087.47" y="1590.30" font-size="13.90" textLength="16.52" lengthAdjust="spacingAndGlyphs" fill="#000" stroke-width="0.18">20</text>
<line x1="4034.94" y1="1544.30" x2="4039.94" y2="1544.30" stroke="#000" stroke-width="1.1"/>
<line x1="4150.34" y1="1570.20" x2="4150.34" y2="1575.20" stroke="#000" stroke-width="1.1"/>
<text x="4014.43" y="1549.20" font-size="13.90" textLength="16.05" lengthAdjust="spacingAndGlyphs" fill="#000" stroke-width="0.18">40</text>
<text x="4142.44" y="1590.30" font-size="13.90" textLength="16.05" lengthAdjust="spacingAndGlyphs" fill="#000" stroke-width="0.18">40</text>
<rect x="4238.50" y="1433.90" width="136.3" height="136.3" fill="none" stroke="#d4202c" stroke-width="1.5"/>
<text x="4274.79" y="1425.90" font-size="17.20" textLength="63.76" lengthAdjust="spacingAndGlyphs" fill="#000" stroke-width="0.22">845959</text>
<line x1="4233.50" y1="1435.26" x2="4238.50" y2="1435.26" stroke="#000" stroke-width="1.1"/>
<line x1="4239.86" y1="1570.20" x2="4239.86" y2="1575.20" stroke="#000" stroke-width="1.1"/>
<text x="4221.19" y="1440.16" font-size="13.90" textLength="7.82" lengthAdjust="spacingAndGlyphs" fill="#000" stroke-width="0.18">0</text>
<text x="4235.93" y="1590.30" font-size="13.90" textLength="7.82" lengthAdjust="spacingAndGlyphs" fill="#000" stroke-width="0.18">0</text>
<line x1="4233.50" y1="1489.78" x2="4238.50" y2="1489.78" stroke="#000" stroke-width="1.1"/>
<line x1="4294.38" y1="1570.20" x2="4294.38" y2="1575.20" stroke="#000" stroke-width="1.1"/>
<text x="4212.53" y="1494.68" font-size="13.90" textLength="16.52" lengthAdjust="spacingAndGlyphs" fill="#000" stroke-width="0.18">20</text>
<text x="4286.03" y="1590.30" font-size="13.90" textLength="16.52" lengthAdjust="spacingAndGlyphs" fill="#000" stroke-width="0.18">20</text>
<line x1="4233.50" y1="1544.30" x2="4238.50" y2="1544.30" stroke="#000" stroke-width="1.1"/>
<line x1="4348.90" y1="1570.20" x2="4348.90" y2="1575.20" stroke="#000" stroke-width="1.1"/>
<text x="4212.99" y="1549.20" font-size="13.90" textLength="16.05" lengthAdjust="spacingAndGlyphs" fill="#000" stroke-width="0.18">40</text>
<text x="4341.00" y="1590.30" font-size="13.90" textLength="16.05" lengthAdjust="spacingAndGlyphs" fill="#000" stroke-width="0.18">40</text>
<rect x="2252.90" y="1629.40" width="136.3" height="136.3" fill="none" stroke="#d4202c" stroke-width="1.5"/>
<text x="2289.19" y="1621.40" font-size="17.20" textLength="63.56" lengthAdjust="spacingAndGlyphs" fill="#000" stroke-width="0.22">845960</text>
<line x1="2247.90" y1="1630.76" x2="2252.90" y2="1630.76" stroke="#000" stroke-width="1.1"/>
<line x1="2254.26" y1="1765.70" x2="2254.26" y2="1770.70" stroke="#000" stroke-width="1.1"/>
<text x="2235.59" y="1635.66" font-size="13.90" textLength="7.82" lengthAdjust="spacingAndGlyphs" fill="#000" stroke-width="0.18">0</text>
<text x="2250.33" y="1785.80" font-size="13.90" textLength="7.82" lengthAdjust="spacingAndGlyphs" fill="#000" stroke-width="0.18">0</text>
<line x1="2247.90" y1="1685.28" x2="2252.90" y2="1685.28" stroke="#000" stroke-width="1.1"/>
<line x1="2308.78" y1="1765.70" x2="2308.78" y2="1770.70" stroke="#000" stroke-width="1.1"/>
<text x="2226.93" y="1690.18" font-size="13.90" textLength="16.52" lengthAdjust="spacingAndGlyphs" fill="#000" stroke-width="0.18">20</text>
<text x="2300.43" y="1785.80" font-size="13.90" textLength="16.52" lengthAdjust="spacingAndGlyphs" fill="#000" stroke-width="0.18">20</text>
<line x1="2247.90" y1="1739.80" x2="2252.90" y2="1739.80" stroke="#000" stroke-width="1.1"/>
<line x1="2363.30" y1="1765.70" x2="2363.30" y2="1770.70" stroke="#000" stroke-width="1.1"/>
<text x="2227.39" y="1744.70" font-size="13.90" textLength="16.05" lengthAdjust="spacingAndGlyphs" fill="#000" stroke-width="0.18">40</text>
<text x="2355.40" y="1785.80" font-size="13.90" textLength="16.05" lengthAdjust="spacingAndGlyphs" fill="#000" stroke-width="0.18">40</text>
<rect x="2451.46" y="1629.40" width="136.3" height="136.3" fill="none" stroke="#d4202c" stroke-width="1.5"/>
<text x="2487.75" y="1621.40" font-size="17.20" textLength="63.76" lengthAdjust="spacingAndGlyphs" fill="#000" stroke-width="0.22">845961</text>
<line x1="2446.46" y1="1630.76" x2="2451.46" y2="1630.76" stroke="#000" stroke-width="1.1"/>
<line x1="2452.82" y1="1765.70" x2="2452.82" y2="1770.70" stroke="#000" stroke-width="1.1"/>
<text x="2434.15" y="1635.66" font-size="13.90" textLength="7.82" lengthAdjust="spacingAndGlyphs" fill="#000" stroke-width="0.18">0</text>
<text x="2448.89" y="1785.80" font-size="13.90" textLength="7.82" lengthAdjust="spacingAndGlyphs" fill="#000" stroke-width="0.18">0</text>
<line x1="2446.46" y1="1685.28" x2="2451.46" y2="1685.28" stroke="#000" stroke-width="1.1"/>
<line x1="2507.34" y1="1765.70" x2="2507.34" y2="1770.70" stroke="#000" stroke-width="1.1"/>
<text x="2425.49" y="1690.18" font-size="13.90" textLength="16.52" lengthAdjust="spacingAndGlyphs" fill="#000" stroke-width="0.18">20</text>
<text x="2498.99" y="1785.80" font-size="13.90" textLength="16.52" lengthAdjust="spacingAndGlyphs" fill="#000" stroke-width="0.18">20</text>
<line x1="2446.46" y1="1739.80" x2="2451.46" y2="1739.80" stroke="#000" stroke-width="1.1"/>
<line x1="2561.86" y1="1765.70" x2="2561.86" y2="1770.70" stroke="#000" stroke-width="1.1"/>
<text x="2425.95" y="1744.70" font-size="13.90" textLength="16.05" lengthAdjust="spacingAndGlyphs" fill="#000" stroke-width="0.18">40</text>
<text x="2553.96" y="1785.80" font-size="13.90" textLength="16.05" lengthAdjust="spacingAndGlyphs" fill="#000" stroke-width="0.18">40</text>
<rect x="2650.02" y="1629.40" width="136.3" height="136.3" fill="none" stroke="#d4202c" stroke-width="1.5"/>
<text x="2686.31" y="1621.40" font-size="17.20" textLength="63.86" lengthAdjust="spacingAndGlyphs" fill="#000" stroke-width="0.22">845962</text>
<line x1="2645.02" y1="1630.76" x2="2650.02" y2="1630.76" stroke="#000" stroke-width="1.1"/>
<line x1="2651.38" y1="1765.70" x2="2651.38" y2="1770.70" stroke="#000" stroke-width="1.1"/>
<text x="2632.71" y="1635.66" font-size="13.90" textLength="7.82" lengthAdjust="spacingAndGlyphs" fill="#000" stroke-width="0.18">0</text>
<text x="2647.45" y="1785.80" font-size="13.90" textLength="7.82" lengthAdjust="spacingAndGlyphs" fill="#000" stroke-width="0.18">0</text>
<line x1="2645.02" y1="1685.28" x2="2650.02" y2="1685.28" stroke="#000" stroke-width="1.1"/>
<line x1="2705.90" y1="1765.70" x2="2705.90" y2="1770.70" stroke="#000" stroke-width="1.1"/>
<text x="2624.05" y="1690.18" font-size="13.90" textLength="16.52" lengthAdjust="spacingAndGlyphs" fill="#000" stroke-width="0.18">20</text>
<text x="2697.55" y="1785.80" font-size="13.90" textLength="16.52" lengthAdjust="spacingAndGlyphs" fill="#000" stroke-width="0.18">20</text>
<line x1="2645.02" y1="1739.80" x2="2650.02" y2="1739.80" stroke="#000" stroke-width="1.1"/>
<line x1="2760.42" y1="1765.70" x2="2760.42" y2="1770.70" stroke="#000" stroke-width="1.1"/>
<text x="2624.51" y="1744.70" font-size="13.90" textLength="16.05" lengthAdjust="spacingAndGlyphs" fill="#000" stroke-width="0.18">40</text>
<text x="2752.52" y="1785.80" font-size="13.90" textLength="16.05" lengthAdjust="spacingAndGlyphs" fill="#000" stroke-width="0.18">40</text>
<rect x="2848.58" y="1629.40" width="136.3" height="136.3" fill="none" stroke="#111" stroke-width="1.5"/>
<text x="2884.87" y="1621.40" font-size="17.20" textLength="63.66" lengthAdjust="spacingAndGlyphs" fill="#000" stroke-width="0.22">845963</text>
<line x1="2843.58" y1="1630.76" x2="2848.58" y2="1630.76" stroke="#000" stroke-width="1.1"/>
<line x1="2849.94" y1="1765.70" x2="2849.94" y2="1770.70" stroke="#000" stroke-width="1.1"/>
<text x="2831.27" y="1635.66" font-size="13.90" textLength="7.82" lengthAdjust="spacingAndGlyphs" fill="#000" stroke-width="0.18">0</text>
<text x="2846.01" y="1785.80" font-size="13.90" textLength="7.82" lengthAdjust="spacingAndGlyphs" fill="#000" stroke-width="0.18">0</text>
<line x1="2843.58" y1="1685.28" x2="2848.58" y2="1685.28" stroke="#000" stroke-width="1.1"/>
<line x1="2904.46" y1="1765.70" x2="2904.46" y2="1770.70" stroke="#000" stroke-width="1.1"/>
<text x="2822.61" y="1690.18" font-size="13.90" textLength="16.52" lengthAdjust="spacingAndGlyphs" fill="#000" stroke-width="0.18">20</text>
<text x="2896.11" y="1785.80" font-size="13.90" textLength="16.52" lengthAdjust="spacingAndGlyphs" fill="#000" stroke-width="0.18">20</text>
<line x1="2843.58" y1="1739.80" x2="2848.58" y2="1739.80" stroke="#000" stroke-width="1.1"/>
<line x1="2958.98" y1="1765.70" x2="2958.98" y2="1770.70" stroke="#000" stroke-width="1.1"/>
<text x="2823.07" y="1744.70" font-size="13.90" textLength="16.05" lengthAdjust="spacingAndGlyphs" fill="#000" stroke-width="0.18">40</text>
<text x="2951.08" y="1785.80" font-size="13.90" textLength="16.05" lengthAdjust="spacingAndGlyphs" fill="#000" stroke-width="0.18">40</text>
<rect x="3047.14" y="1629.40" width="136.3" height="136.3" fill="none" stroke="#d4202c" stroke-width="1.5"/>
<text x="3083.43" y="1621.40" font-size="17.20" textLength="63.47" lengthAdjust="spacingAndGlyphs" fill="#000" stroke-width="0.22">845964</text>
<line x1="3042.14" y1="1630.76" x2="3047.14" y2="1630.76" stroke="#000" stroke-width="1.1"/>
<line x1="3048.50" y1="1765.70" x2="3048.50" y2="1770.70" stroke="#000" stroke-width="1.1"/>
<text x="3029.83" y="1635.66" font-size="13.90" textLength="7.82" lengthAdjust="spacingAndGlyphs" fill="#000" stroke-width="0.18">0</text>
<text x="3044.57" y="1785.80" font-size="13.90" textLength="7.82" lengthAdjust="spacingAndGlyphs" fill="#000" stroke-width="0.18">0</text>
<line x1="3042.14" y1="1685.28" x2="3047.14" y2="1685.28" stroke="#000" stroke-width="1.1"/>
<line x1="3103.02" y1="1765.70" x2="3103.02" y2="1770.70" stroke="#000" stroke-width="1.1"/>
<text x="3021.17" y="1690.18" font-size="13.90" textLength="16.52" lengthAdjust="spacingAndGlyphs" fill="#000" stroke-width="0.18">20</text>
<text x="3094.67" y="1785.80" font-size="13.90" textLength="16.52" lengthAdjust="spacingAndGlyphs" fill="#000" stroke-width="0.18">20</text>
<line x1="3042.14" y1="1739.80" x2="3047.14" y2="1739.80" stroke="#000" stroke-width="1.1"/>
<line x1="3157.54" y1="1765.70" x2="3157.54" y2="1770.70" stroke="#000" stroke-width="1.1"/>
<text x="3021.63" y="1744.70" font-size="13.90" textLength="16.05" lengthAdjust="spacingAndGlyphs" fill="#000" stroke-width="0.18">40</text>
<text x="3149.64" y="1785.80" font-size="13.90" textLength="16.05" lengthAdjust="spacingAndGlyphs" fill="#000" stroke-width="0.18">40</text>
<rect x="3245.70" y="1629.40" width="136.3" height="136.3" fill="none" stroke="#111" stroke-width="1.5"/>
<text x="3281.99" y="1621.40" font-size="17.20" textLength="63.66" lengthAdjust="spacingAndGlyphs" fill="#000" stroke-width="0.22">845965</text>
<line x1="3240.70" y1="1630.76" x2="3245.70" y2="1630.76" stroke="#000" stroke-width="1.1"/>
<line x1="3247.06" y1="1765.70" x2="3247.06" y2="1770.70" stroke="#000" stroke-width="1.1"/>
<text x="3228.39" y="1635.66" font-size="13.90" textLength="7.82" lengthAdjust="spacingAndGlyphs" fill="#000" stroke-width="0.18">0</text>
<text x="3243.13" y="1785.80" font-size="13.90" textLength="7.82" lengthAdjust="spacingAndGlyphs" fill="#000" stroke-width="0.18">0</text>
<line x1="3240.70" y1="1685.28" x2="3245.70" y2="1685.28" stroke="#000" stroke-width="1.1"/>
<line x1="3301.58" y1="1765.70" x2="3301.58" y2="1770.70" stroke="#000" stroke-width="1.1"/>
<text x="3219.73" y="1690.18" font-size="13.90" textLength="16.52" lengthAdjust="spacingAndGlyphs" fill="#000" stroke-width="0.18">20</text>
<text x="3293.23" y="1785.80" font-size="13.90" textLength="16.52" lengthAdjust="spacingAndGlyphs" fill="#000" stroke-width="0.18">20</text>
<line x1="3240.70" y1="1739.80" x2="3245.70" y2="1739.80" stroke="#000" stroke-width="1.1"/>
<line x1="3356.10" y1="1765.70" x2="3356.10" y2="1770.70" stroke="#000" stroke-width="1.1"/>
<text x="3220.19" y="1744.70" font-size="13.90" textLength="16.05" lengthAdjust="spacingAndGlyphs" fill="#000" stroke-width="0.18">40</text>
<text x="3348.20" y="1785.80" font-size="13.90" textLength="16.05" lengthAdjust="spacingAndGlyphs" fill="#000" stroke-width="0.18">40</text>
<rect x="3444.26" y="1629.40" width="136.3" height="136.3" fill="none" stroke="#111" stroke-width="1.5"/>
<text x="3480.55" y="1621.40" font-size="17.20" textLength="63.66" lengthAdjust="spacingAndGlyphs" fill="#000" stroke-width="0.22">845966</text>
<line x1="3439.26" y1="1630.76" x2="3444.26" y2="1630.76" stroke="#000" stroke-width="1.1"/>
<line x1="3445.62" y1="1765.70" x2="3445.62" y2="1770.70" stroke="#000" stroke-width="1.1"/>
<text x="3426.95" y="1635.66" font-size="13.90" textLength="7.82" lengthAdjust="spacingAndGlyphs" fill="#000" stroke-width="0.18">0</text>
<text x="3441.69" y="1785.80" font-size="13.90" textLength="7.82" lengthAdjust="spacingAndGlyphs" fill="#000" stroke-width="0.18">0</text>
<line x1="3439.26" y1="1685.28" x2="3444.26" y2="1685.28" stroke="#000" stroke-width="1.1"/>
<line x1="3500.14" y1="1765.70" x2="3500.14" y2="1770.70" stroke="#000" stroke-width="1.1"/>
<text x="3418.29" y="1690.18" font-size="13.90" textLength="16.52" lengthAdjust="spacingAndGlyphs" fill="#000" stroke-width="0.18">20</text>
<text x="3491.79" y="1785.80" font-size="13.90" textLength="16.52" lengthAdjust="spacingAndGlyphs" fill="#000" stroke-width="0.18">20</text>
<line x1="3439.26" y1="1739.80" x2="3444.26" y2="1739.80" stroke="#000" stroke-width="1.1"/>
<line x1="3554.66" y1="1765.70" x2="3554.66" y2="1770.70" stroke="#000" stroke-width="1.1"/>
<text x="3418.75" y="1744.70" font-size="13.90" textLength="16.05" lengthAdjust="spacingAndGlyphs" fill="#000" stroke-width="0.18">40</text>
<text x="3546.76" y="1785.80" font-size="13.90" textLength="16.05" lengthAdjust="spacingAndGlyphs" fill="#000" stroke-width="0.18">40</text>
<rect x="3642.82" y="1629.40" width="136.3" height="136.3" fill="none" stroke="#111" stroke-width="1.5"/>
<text x="3679.11" y="1621.40" font-size="17.20" textLength="63.86" lengthAdjust="spacingAndGlyphs" fill="#000" stroke-width="0.22">845967</text>
<line x1="3637.82" y1="1630.76" x2="3642.82" y2="1630.76" stroke="#000" stroke-width="1.1"/>
<line x1="3644.18" y1="1765.70" x2="3644.18" y2="1770.70" stroke="#000" stroke-width="1.1"/>
<text x="3625.51" y="1635.66" font-size="13.90" textLength="7.82" lengthAdjust="spacingAndGlyphs" fill="#000" stroke-width="0.18">0</text>
<text x="3640.25" y="1785.80" font-size="13.90" textLength="7.82" lengthAdjust="spacingAndGlyphs" fill="#000" stroke-width="0.18">0</text>
<line x1="3637.82" y1="1685.28" x2="3642.82" y2="1685.28" stroke="#000" stroke-width="1.1"/>
<line x1="3698.70" y1="1765.70" x2="3698.70" y2="1770.70" stroke="#000" stroke-width="1.1"/>
<text x="3616.85" y="1690.18" font-size="13.90" textLength="16.52" lengthAdjust="spacingAndGlyphs" fill="#000" stroke-width="0.18">20</text>
<text x="3690.35" y="1785.80" font-size="13.90" textLength="16.52" lengthAdjust="spacingAndGlyphs" fill="#000" stroke-width="0.18">20</text>
<line x1="3637.82" y1="1739.80" x2="3642.82" y2="1739.80" stroke="#000" stroke-width="1.1"/>
<line x1="3753.22" y1="1765.70" x2="3753.22" y2="1770.70" stroke="#000" stroke-width="1.1"/>
<text x="3617.31" y="1744.70" font-size="13.90" textLength="16.05" lengthAdjust="spacingAndGlyphs" fill="#000" stroke-width="0.18">40</text>
<text x="3745.32" y="1785.80" font-size="13.90" textLength="16.05" lengthAdjust="spacingAndGlyphs" fill="#000" stroke-width="0.18">40</text>
<rect x="3841.38" y="1629.40" width="136.3" height="136.3" fill="none" stroke="#d4202c" stroke-width="1.5"/>
<text x="3877.67" y="1621.40" font-size="17.20" textLength="63.66" lengthAdjust="spacingAndGlyphs" fill="#000" stroke-width="0.22">845968</text>
<line x1="3836.38" y1="1630.76" x2="3841.38" y2="1630.76" stroke="#000" stroke-width="1.1"/>
<line x1="3842.74" y1="1765.70" x2="3842.74" y2="1770.70" stroke="#000" stroke-width="1.1"/>
<text x="3824.07" y="1635.66" font-size="13.90" textLength="7.82" lengthAdjust="spacingAndGlyphs" fill="#000" stroke-width="0.18">0</text>
<text x="3838.81" y="1785.80" font-size="13.90" textLength="7.82" lengthAdjust="spacingAndGlyphs" fill="#000" stroke-width="0.18">0</text>
<line x1="3836.38" y1="1685.28" x2="3841.38" y2="1685.28" stroke="#000" stroke-width="1.1"/>
<line x1="3897.26" y1="1765.70" x2="3897.26" y2="1770.70" stroke="#000" stroke-width="1.1"/>
<text x="3815.41" y="1690.18" font-size="13.90" textLength="16.52" lengthAdjust="spacingAndGlyphs" fill="#000" stroke-width="0.18">20</text>
<text x="3888.91" y="1785.80" font-size="13.90" textLength="16.52" lengthAdjust="spacingAndGlyphs" fill="#000" stroke-width="0.18">20</text>
<line x1="3836.38" y1="1739.80" x2="3841.38" y2="1739.80" stroke="#000" stroke-width="1.1"/>
<line x1="3951.78" y1="1765.70" x2="3951.78" y2="1770.70" stroke="#000" stroke-width="1.1"/>
<text x="3815.87" y="1744.70" font-size="13.90" textLength="16.05" lengthAdjust="spacingAndGlyphs" fill="#000" stroke-width="0.18">40</text>
<text x="3943.88" y="1785.80" font-size="13.90" textLength="16.05" lengthAdjust="spacingAndGlyphs" fill="#000" stroke-width="0.18">40</text>
<rect x="4039.94" y="1629.40" width="136.3" height="136.3" fill="none" stroke="#d4202c" stroke-width="1.5"/>
<text x="4076.23" y="1621.40" font-size="17.20" textLength="63.76" lengthAdjust="spacingAndGlyphs" fill="#000" stroke-width="0.22">845969</text>
<line x1="4034.94" y1="1630.76" x2="4039.94" y2="1630.76" stroke="#000" stroke-width="1.1"/>
<line x1="4041.30" y1="1765.70" x2="4041.30" y2="1770.70" stroke="#000" stroke-width="1.1"/>
<text x="4022.63" y="1635.66" font-size="13.90" textLength="7.82" lengthAdjust="spacingAndGlyphs" fill="#000" stroke-width="0.18">0</text>
<text x="4037.37" y="1785.80" font-size="13.90" textLength="7.82" lengthAdjust="spacingAndGlyphs" fill="#000" stroke-width="0.18">0</text>
<line x1="4034.94" y1="1685.28" x2="4039.94" y2="1685.28" stroke="#000" stroke-width="1.1"/>
<line x1="4095.82" y1="1765.70" x2="4095.82" y2="1770.70" stroke="#000" stroke-width="1.1"/>
<text x="4013.97" y="1690.18" font-size="13.90" textLength="16.52" lengthAdjust="spacingAndGlyphs" fill="#000" stroke-width="0.18">20</text>
<text x="4087.47" y="1785.80" font-size="13.90" textLength="16.52" lengthAdjust="spacingAndGlyphs" fill="#000" stroke-width="0.18">20</text>
<line x1="4034.94" y1="1739.80" x2="4039.94" y2="1739.80" stroke="#000" stroke-width="1.1"/>
<line x1="4150.34" y1="1765.70" x2="4150.34" y2="1770.70" stroke="#000" stroke-width="1.1"/>
<text x="4014.43" y="1744.70" font-size="13.90" textLength="16.05" lengthAdjust="spacingAndGlyphs" fill="#000" stroke-width="0.18">40</text>
<text x="4142.44" y="1785.80" font-size="13.90" textLength="16.05" lengthAdjust="spacingAndGlyphs" fill="#000" stroke-width="0.18">40</text>
<rect x="4238.50" y="1629.40" width="136.3" height="136.3" fill="none" stroke="#111" stroke-width="1.5"/>
<text x="4274.79" y="1621.40" font-size="17.20" textLength="63.56" lengthAdjust="spacingAndGlyphs" fill="#000" stroke-width="0.22">845970</text>
<line x1="4233.50" y1="1630.76" x2="4238.50" y2="1630.76" stroke="#000" stroke-width="1.1"/>
<line x1="4239.86" y1="1765.70" x2="4239.86" y2="1770.70" stroke="#000" stroke-width="1.1"/>
<text x="4221.19" y="1635.66" font-size="13.90" textLength="7.82" lengthAdjust="spacingAndGlyphs" fill="#000" stroke-width="0.18">0</text>
<text x="4235.93" y="1785.80" font-size="13.90" textLength="7.82" lengthAdjust="spacingAndGlyphs" fill="#000" stroke-width="0.18">0</text>
<line x1="4233.50" y1="1685.28" x2="4238.50" y2="1685.28" stroke="#000" stroke-width="1.1"/>
<line x1="4294.38" y1="1765.70" x2="4294.38" y2="1770.70" stroke="#000" stroke-width="1.1"/>
<text x="4212.53" y="1690.18" font-size="13.90" textLength="16.52" lengthAdjust="spacingAndGlyphs" fill="#000" stroke-width="0.18">20</text>
<text x="4286.03" y="1785.80" font-size="13.90" textLength="16.52" lengthAdjust="spacingAndGlyphs" fill="#000" stroke-width="0.18">20</text>
<line x1="4233.50" y1="1739.80" x2="4238.50" y2="1739.80" stroke="#000" stroke-width="1.1"/>
<line x1="4348.90" y1="1765.70" x2="4348.90" y2="1770.70" stroke="#000" stroke-width="1.1"/>
<text x="4212.99" y="1744.70" font-size="13.90" textLength="16.05" lengthAdjust="spacingAndGlyphs" fill="#000" stroke-width="0.18">40</text>
<text x="4341.00" y="1785.80" font-size="13.90" textLength="16.05" lengthAdjust="spacingAndGlyphs" fill="#000" stroke-width="0.18">40</text>
<rect x="2252.90" y="1824.90" width="136.3" height="136.3" fill="none" stroke="#d4202c" stroke-width="1.5"/>
<text x="2289.19" y="1816.90" font-size="17.20" textLength="63.76" lengthAdjust="spacingAndGlyphs" fill="#000" stroke-width="0.22">845971</text>
<line x1="2247.90" y1="1826.26" x2="2252.90" y2="1826.26" stroke="#000" stroke-width="1.1"/>
<line x1="2254.26" y1="1961.20" x2="2254.26" y2="1966.20" stroke="#000" stroke-width="1.1"/>
<text x="2235.59" y="1831.16" font-size="13.90" textLength="7.82" lengthAdjust="spacingAndGlyphs" fill="#000" stroke-width="0.18">0</text>
<text x="2250.33" y="1981.30" font-size="13.90" textLength="7.82" lengthAdjust="spacingAndGlyphs" fill="#000" stroke-width="0.18">0</text>
<line x1="2247.90" y1="1880.78" x2="2252.90" y2="1880.78" stroke="#000" stroke-width="1.1"/>
<line x1="2308.78" y1="1961.20" x2="2308.78" y2="1966.20" stroke="#000" stroke-width="1.1"/>
<text x="2226.93" y="1885.68" font-size="13.90" textLength="16.52" lengthAdjust="spacingAndGlyphs" fill="#000" stroke-width="0.18">20</text>
<text x="2300.43" y="1981.30" font-size="13.90" textLength="16.52" lengthAdjust="spacingAndGlyphs" fill="#000" stroke-width="0.18">20</text>
<line x1="2247.90" y1="1935.30" x2="2252.90" y2="1935.30" stroke="#000" stroke-width="1.1"/>
<line x1="2363.30" y1="1961.20" x2="2363.30" y2="1966.20" stroke="#000" stroke-width="1.1"/>
<text x="2227.39" y="1940.20" font-size="13.90" textLength="16.05" lengthAdjust="spacingAndGlyphs" fill="#000" stroke-width="0.18">40</text>
<text x="2355.40" y="1981.30" font-size="13.90" textLength="16.05" lengthAdjust="spacingAndGlyphs" fill="#000" stroke-width="0.18">40</text>
<rect x="2451.46" y="1824.90" width="136.3" height="136.3" fill="none" stroke="#111" stroke-width="1.5"/>
<text x="2487.75" y="1816.90" font-size="17.20" textLength="63.86" lengthAdjust="spacingAndGlyphs" fill="#000" stroke-width="0.22">845972</text>
<line x1="2446.46" y1="1826.26" x2="2451.46" y2="1826.26" stroke="#000" stroke-width="1.1"/>
<line x1="2452.82" y1="1961.20" x2="2452.82" y2="1966.20" stroke="#000" stroke-width="1.1"/>
<text x="2434.15" y="1831.16" font-size="13.90" textLength="7.82" lengthAdjust="spacingAndGlyphs" fill="#000" stroke-width="0.18">0</text>
<text x="2448.89" y="1981.30" font-size="13.90" textLength="7.82" lengthAdjust="spacingAndGlyphs" fill="#000" stroke-width="0.18">0</text>
<line x1="2446.46" y1="1880.78" x2="2451.46" y2="1880.78" stroke="#000" stroke-width="1.1"/>
<line x1="2507.34" y1="1961.20" x2="2507.34" y2="1966.20" stroke="#000" stroke-width="1.1"/>
<text x="2425.49" y="1885.68" font-size="13.90" textLength="16.52" lengthAdjust="spacingAndGlyphs" fill="#000" stroke-width="0.18">20</text>
<text x="2498.99" y="1981.30" font-size="13.90" textLength="16.52" lengthAdjust="spacingAndGlyphs" fill="#000" stroke-width="0.18">20</text>
<line x1="2446.46" y1="1935.30" x2="2451.46" y2="1935.30" stroke="#000" stroke-width="1.1"/>
<line x1="2561.86" y1="1961.20" x2="2561.86" y2="1966.20" stroke="#000" stroke-width="1.1"/>
<text x="2425.95" y="1940.20" font-size="13.90" textLength="16.05" lengthAdjust="spacingAndGlyphs" fill="#000" stroke-width="0.18">40</text>
<text x="2553.96" y="1981.30" font-size="13.90" textLength="16.05" lengthAdjust="spacingAndGlyphs" fill="#000" stroke-width="0.18">40</text>
<rect x="2650.02" y="1824.90" width="136.3" height="136.3" fill="none" stroke="#111" stroke-width="1.5"/>
<text x="2686.31" y="1816.90" font-size="17.20" textLength="63.66" lengthAdjust="spacingAndGlyphs" fill="#000" stroke-width="0.22">845973</text>
<line x1="2645.02" y1="1826.26" x2="2650.02" y2="1826.26" stroke="#000" stroke-width="1.1"/>
<line x1="2651.38" y1="1961.20" x2="2651.38" y2="1966.20" stroke="#000" stroke-width="1.1"/>
<text x="2632.71" y="1831.16" font-size="13.90" textLength="7.82" lengthAdjust="spacingAndGlyphs" fill="#000" stroke-width="0.18">0</text>
<text x="2647.45" y="1981.30" font-size="13.90" textLength="7.82" lengthAdjust="spacingAndGlyphs" fill="#000" stroke-width="0.18">0</text>
<line x1="2645.02" y1="1880.78" x2="2650.02" y2="1880.78" stroke="#000" stroke-width="1.1"/>
<line x1="2705.90" y1="1961.20" x2="2705.90" y2="1966.20" stroke="#000" stroke-width="1.1"/>
<text x="2624.05" y="1885.68" font-size="13.90" textLength="16.52" lengthAdjust="spacingAndGlyphs" fill="#000" stroke-width="0.18">20</text>
<text x="2697.55" y="1981.30" font-size="13.90" textLength="16.52" lengthAdjust="spacingAndGlyphs" fill="#000" stroke-width="0.18">20</text>
<line x1="2645.02" y1="1935.30" x2="2650.02" y2="1935.30" stroke="#000" stroke-width="1.1"/>
<line x1="2760.42" y1="1961.20" x2="2760.42" y2="1966.20" stroke="#000" stroke-width="1.1"/>
<text x="2624.51" y="1940.20" font-size="13.90" textLength="16.05" lengthAdjust="spacingAndGlyphs" fill="#000" stroke-width="0.18">40</text>
<text x="2752.52" y="1981.30" font-size="13.90" textLength="16.05" lengthAdjust="spacingAndGlyphs" fill="#000" stroke-width="0.18">40</text>
<rect x="2848.58" y="1824.90" width="136.3" height="136.3" fill="none" stroke="#111" stroke-width="1.5"/>
<text x="2884.87" y="1816.90" font-size="17.20" textLength="63.47" lengthAdjust="spacingAndGlyphs" fill="#000" stroke-width="0.22">845974</text>
<line x1="2843.58" y1="1826.26" x2="2848.58" y2="1826.26" stroke="#000" stroke-width="1.1"/>
<line x1="2849.94" y1="1961.20" x2="2849.94" y2="1966.20" stroke="#000" stroke-width="1.1"/>
<text x="2831.27" y="1831.16" font-size="13.90" textLength="7.82" lengthAdjust="spacingAndGlyphs" fill="#000" stroke-width="0.18">0</text>
<text x="2846.01" y="1981.30" font-size="13.90" textLength="7.82" lengthAdjust="spacingAndGlyphs" fill="#000" stroke-width="0.18">0</text>
<line x1="2843.58" y1="1880.78" x2="2848.58" y2="1880.78" stroke="#000" stroke-width="1.1"/>
<line x1="2904.46" y1="1961.20" x2="2904.46" y2="1966.20" stroke="#000" stroke-width="1.1"/>
<text x="2822.61" y="1885.68" font-size="13.90" textLength="16.52" lengthAdjust="spacingAndGlyphs" fill="#000" stroke-width="0.18">20</text>
<text x="2896.11" y="1981.30" font-size="13.90" textLength="16.52" lengthAdjust="spacingAndGlyphs" fill="#000" stroke-width="0.18">20</text>
<line x1="2843.58" y1="1935.30" x2="2848.58" y2="1935.30" stroke="#000" stroke-width="1.1"/>
<line x1="2958.98" y1="1961.20" x2="2958.98" y2="1966.20" stroke="#000" stroke-width="1.1"/>
<text x="2823.07" y="1940.20" font-size="13.90" textLength="16.05" lengthAdjust="spacingAndGlyphs" fill="#000" stroke-width="0.18">40</text>
<text x="2951.08" y="1981.30" font-size="13.90" textLength="16.05" lengthAdjust="spacingAndGlyphs" fill="#000" stroke-width="0.18">40</text>
<rect x="3047.14" y="1824.90" width="136.3" height="136.3" fill="none" stroke="#111" stroke-width="1.5"/>
<text x="3083.43" y="1816.90" font-size="17.20" textLength="63.66" lengthAdjust="spacingAndGlyphs" fill="#000" stroke-width="0.22">845975</text>
<line x1="3042.14" y1="1826.26" x2="3047.14" y2="1826.26" stroke="#000" stroke-width="1.1"/>
<line x1="3048.50" y1="1961.20" x2="3048.50" y2="1966.20" stroke="#000" stroke-width="1.1"/>
<text x="3029.83" y="1831.16" font-size="13.90" textLength="7.82" lengthAdjust="spacingAndGlyphs" fill="#000" stroke-width="0.18">0</text>
<text x="3044.57" y="1981.30" font-size="13.90" textLength="7.82" lengthAdjust="spacingAndGlyphs" fill="#000" stroke-width="0.18">0</text>
<line x1="3042.14" y1="1880.78" x2="3047.14" y2="1880.78" stroke="#000" stroke-width="1.1"/>
<line x1="3103.02" y1="1961.20" x2="3103.02" y2="1966.20" stroke="#000" stroke-width="1.1"/>
<text x="3021.17" y="1885.68" font-size="13.90" textLength="16.52" lengthAdjust="spacingAndGlyphs" fill="#000" stroke-width="0.18">20</text>
<text x="3094.67" y="1981.30" font-size="13.90" textLength="16.52" lengthAdjust="spacingAndGlyphs" fill="#000" stroke-width="0.18">20</text>
<line x1="3042.14" y1="1935.30" x2="3047.14" y2="1935.30" stroke="#000" stroke-width="1.1"/>
<line x1="3157.54" y1="1961.20" x2="3157.54" y2="1966.20" stroke="#000" stroke-width="1.1"/>
<text x="3021.63" y="1940.20" font-size="13.90" textLength="16.05" lengthAdjust="spacingAndGlyphs" fill="#000" stroke-width="0.18">40</text>
<text x="3149.64" y="1981.30" font-size="13.90" textLength="16.05" lengthAdjust="spacingAndGlyphs" fill="#000" stroke-width="0.18">40</text>
<text x="3258.22" y="51.60" font-size="16.20" textLength="85.08" lengthAdjust="spacingAndGlyphs" fill="#000" stroke-width="0.21">cluster 10</text>
</svg>
<script>
(function(){
var cv=document.getElementById('cv'); var ctx=cv.getContext('2d');
ctx.imageSmoothingEnabled=false;
function rng(a){return function(){a|=0;a=a+0x6D2B79F5|0;var t=Math.imul(a^a>>>15,1|a);t=t+Math.imul(t^t>>>7,61|t)^t;return((t^t>>>14)>>>0)/4294967296;}}
function gs(r){var u=r()||1e-9,v=r();return Math.sqrt(-2*Math.log(u))*Math.cos(6.283185307*v);}
var off=document.createElement('canvas');off.width=50;off.height=50;var oc=off.getContext('2d');
function draw(x,y,w,h,kind,seed,mean,kind2){
  var r=rng(seed); var img=oc.createImageData(50,50); var d=img.data;
  for(var j=0;j<50;j++)for(var i=0;i<50;i++){
    var v;
    if(kind==='light'){
      var dx=i-25.3,dy=j-26.2,rr=dx*dx+dy*dy;
      var pc=Math.exp(-rr/(2*1.6*1.6)), ph=Math.exp(-rr/(2*3.2*3.2)); var bg=(kind2==='med')?0.75:0.775; v=bg+0.075*gs(r)*(1+0.8*ph)-0.45*pc-0.27*ph;
    } else if(kind==='dark'){
      var dx=i-25.3,dy=j-26.2,rr=dx*dx+dy*dy;
      v=0.49+0.125*gs(r)-0.10*Math.exp(-rr/(2*3*3));
    } else {
      var dx=i-25,dy=j-25,rr=dx*dx+dy*dy;
      v=mean+0.165*gs(r)-0.08*Math.exp(-rr/(2*2.5*2.5));
    }
    if(v<0)v=0;if(v>1)v=1; var g=Math.round(v*255); var k=(j*50+i)*4;
    d[k]=g;d[k+1]=g;d[k+2]=g;d[k+3]=255;
  }
  oc.putImageData(img,0,0);
  ctx.imageSmoothingEnabled=(kind==='thumb'); ctx.drawImage(off,0,0,50,50,x,y,w,h);
}
var P=[[117.0, 226.9, 364.5, 366.4, "light", 1000, ""], [534.2, 226.9, 364.2, 366.4, "light", 1000, ""], [951.0, 226.9, 364.2, 366.4, "light", 1003, "med"], [1367.8, 226.9, 364.4, 366.4, "light", 1000, ""], [117.0, 712.2, 364.5, 364.9, "light", 1010, ""], [534.2, 712.2, 364.2, 364.9, "light", 1010, ""], [951.0, 712.2, 364.2, 364.9, "light", 1013, "med"], [1367.8, 712.2, 364.4, 364.9, "light", 1010, ""], [117.0, 1196.3, 364.5, 364.0, "dark", 1020, ""], [534.2, 1196.3, 364.2, 364.0, "dark", 1020, ""], [951.0, 1196.3, 364.2, 364.0, "dark", 1023, "med"], [1367.8, 1196.3, 364.4, 364.0, "dark", 1020, ""]]; for(var n=0;n<P.length;n++){var q=P[n];draw(q[0],q[1],q[2],q[3],q[4],q[5],0,q[6]);}
var T=[[2252.9, 65.4, 136.3, 136.3, "thumb", 5000, 0.5425], [2451.46, 65.4, 136.3, 136.3, "thumb", 5001, 0.5575000000000001], [2650.02, 65.4, 136.3, 136.3, "thumb", 5002, 0.5275000000000001], [2848.58, 65.4, 136.3, 136.3, "thumb", 5003, 0.5275000000000001], [3047.14, 65.4, 136.3, 136.3, "thumb", 5004, 0.52], [3245.7, 65.4, 136.3, 136.3, "thumb", 5005, 0.5425], [3444.26, 65.4, 136.3, 136.3, "thumb", 5006, 0.49750000000000005], [3642.82, 65.4, 136.3, 136.3, "thumb", 5007, 0.5425], [3841.38, 65.4, 136.3, 136.3, "thumb", 5008, 0.505], [4039.94, 65.4, 136.3, 136.3, "thumb", 5009, 0.5425], [4238.5, 65.4, 136.3, 136.3, "thumb", 5010, 0.5575000000000001], [2252.9, 260.9, 136.3, 136.3, "thumb", 5011, 0.5425], [2451.46, 260.9, 136.3, 136.3, "thumb", 5012, 0.505], [2650.02, 260.9, 136.3, 136.3, "thumb", 5013, 0.49000000000000005], [2848.58, 260.9, 136.3, 136.3, "thumb", 5014, 0.4525], [3047.14, 260.9, 136.3, 136.3, "thumb", 5015, 0.5575000000000001], [3245.7, 260.9, 136.3, 136.3, "thumb", 5016, 0.5425], [3444.26, 260.9, 136.3, 136.3, "thumb", 5017, 0.5575000000000001], [3642.82, 260.9, 136.3, 136.3, "thumb", 5018, 0.48250000000000004], [3841.38, 260.9, 136.3, 136.3, "thumb", 5019, 0.4675], [4039.94, 260.9, 136.3, 136.3, "thumb", 5020, 0.52], [4238.5, 260.9, 136.3, 136.3, "thumb", 5021, 0.40750000000000003], [2252.9, 456.4, 136.3, 136.3, "thumb", 5022, 0.4375], [2451.46, 456.4, 136.3, 136.3, "thumb", 5023, 0.5425], [2650.02, 456.4, 136.3, 136.3, "thumb", 5024, 0.505], [2848.58, 456.4, 136.3, 136.3, "thumb", 5025, 0.52], [3047.14, 456.4, 136.3, 136.3, "thumb", 5026, 0.6025], [3245.7, 456.4, 136.3, 136.3, "thumb", 5027, 0.5425], [3444.26, 456.4, 136.3, 136.3, "thumb", 5028, 0.52], [3642.82, 456.4, 136.3, 136.3, "thumb", 5029, 0.4675], [3841.38, 456.4, 136.3, 136.3, "thumb", 5030, 0.4675], [4039.94, 456.4, 136.3, 136.3, "thumb", 5031, 0.5425], [4238.5, 456.4, 136.3, 136.3, "thumb", 5032, 0.52], [2252.9, 651.9, 136.3, 136.3, "thumb", 5033, 0.6025], [2451.46, 651.9, 136.3, 136.3, "thumb", 5034, 0.4525], [2650.02, 651.9, 136.3, 136.3, "thumb", 5035, 0.5275000000000001], [2848.58, 651.9, 136.3, 136.3, "thumb", 5036, 0.4525], [3047.14, 651.9, 136.3, 136.3, "thumb", 5037, 0.4675], [3245.7, 651.9, 136.3, 136.3, "thumb", 5038, 0.3925], [3444.26, 651.9, 136.3, 136.3, "thumb", 5039, 0.5650000000000001], [3642.82, 651.9, 136.3, 136.3, "thumb", 5040, 0.505], [3841.38, 651.9, 136.3, 136.3, "thumb", 5041, 0.5800000000000001], [4039.94, 651.9, 136.3, 136.3, "thumb", 5042, 0.5800000000000001], [4238.5, 651.9, 136.3, 136.3, "thumb", 5043, 0.48250000000000004], [2252.9, 847.4, 136.3, 136.3, "thumb", 5044, 0.4675], [2451.46, 847.4, 136.3, 136.3, "thumb", 5045, 0.41500000000000004], [2650.02, 847.4, 136.3, 136.3, "thumb", 5046, 0.5275000000000001], [2848.58, 847.4, 136.3, 136.3, "thumb", 5047, 0.48250000000000004], [3047.14, 847.4, 136.3, 136.3, "thumb", 5048, 0.5875000000000001], [3245.7, 847.4, 136.3, 136.3, "thumb", 5049, 0.505], [3444.26, 847.4, 136.3, 136.3, "thumb", 5050, 0.41500000000000004], [3642.82, 847.4, 136.3, 136.3, "thumb", 5051, 0.48250000000000004], [3841.38, 847.4, 136.3, 136.3, "thumb", 5052, 0.5575000000000001], [4039.94, 847.4, 136.3, 136.3, "thumb", 5053, 0.505], [4238.5, 847.4, 136.3, 136.3, "thumb", 5054, 0.5425], [2252.9, 1042.9, 136.3, 136.3, "thumb", 5055, 0.5800000000000001], [2451.46, 1042.9, 136.3, 136.3, "thumb", 5056, 0.5650000000000001], [2650.02, 1042.9, 136.3, 136.3, "thumb", 5057, 0.52], [2848.58, 1042.9, 136.3, 136.3, "thumb", 5058, 0.5425], [3047.14, 1042.9, 136.3, 136.3, "thumb", 5059, 0.4675], [3245.7, 1042.9, 136.3, 136.3, "thumb", 5060, 0.5650000000000001], [3444.26, 1042.9, 136.3, 136.3, "thumb", 5061, 0.5275000000000001], [3642.82, 1042.9, 136.3, 136.3, "thumb", 5062, 0.505], [3841.38, 1042.9, 136.3, 136.3, "thumb", 5063, 0.52], [4039.94, 1042.9, 136.3, 136.3, "thumb", 5064, 0.505], [4238.5, 1042.9, 136.3, 136.3, "thumb", 5065, 0.505], [2252.9, 1238.4, 136.3, 136.3, "thumb", 5066, 0.52], [2451.46, 1238.4, 136.3, 136.3, "thumb", 5067, 0.505], [2650.02, 1238.4, 136.3, 136.3, "thumb", 5068, 0.505], [2848.58, 1238.4, 136.3, 136.3, "thumb", 5069, 0.505], [3047.14, 1238.4, 136.3, 136.3, "thumb", 5070, 0.5575000000000001], [3245.7, 1238.4, 136.3, 136.3, "thumb", 5071, 0.505], [3444.26, 1238.4, 136.3, 136.3, "thumb", 5072, 0.48250000000000004], [3642.82, 1238.4, 136.3, 136.3, "thumb", 5073, 0.48250000000000004], [3841.38, 1238.4, 136.3, 136.3, "thumb", 5074, 0.5275000000000001], [4039.94, 1238.4, 136.3, 136.3, "thumb", 5075, 0.505], [4238.5, 1238.4, 136.3, 136.3, "thumb", 5076, 0.48250000000000004], [2252.9, 1433.9, 136.3, 136.3, "thumb", 5077, 0.48250000000000004], [2451.46, 1433.9, 136.3, 136.3, "thumb", 5078, 0.6025], [2650.02, 1433.9, 136.3, 136.3, "thumb", 5079, 0.41500000000000004], [2848.58, 1433.9, 136.3, 136.3, "thumb", 5080, 0.5800000000000001], [3047.14, 1433.9, 136.3, 136.3, "thumb", 5081, 0.48250000000000004], [3245.7, 1433.9, 136.3, 136.3, "thumb", 5082, 0.4525], [3444.26, 1433.9, 136.3, 136.3, "thumb", 5083, 0.48250000000000004], [3642.82, 1433.9, 136.3, 136.3, "thumb", 5084, 0.5425], [3841.38, 1433.9, 136.3, 136.3, "thumb", 5085, 0.48250000000000004], [4039.94, 1433.9, 136.3, 136.3, "thumb", 5086, 0.4525], [4238.5, 1433.9, 136.3, 136.3, "thumb", 5087, 0.655], [2252.9, 1629.4, 136.3, 136.3, "thumb", 5088, 0.48250000000000004], [2451.46, 1629.4, 136.3, 136.3, "thumb", 5089, 0.4675], [2650.02, 1629.4, 136.3, 136.3, "thumb", 5090, 0.505], [2848.58, 1629.4, 136.3, 136.3, "thumb", 5091, 0.4675], [3047.14, 1629.4, 136.3, 136.3, "thumb", 5092, 0.52], [3245.7, 1629.4, 136.3, 136.3, "thumb", 5093, 0.48250000000000004], [3444.26, 1629.4, 136.3, 136.3, "thumb", 5094, 0.5425], [3642.82, 1629.4, 136.3, 136.3, "thumb", 5095, 0.5425], [3841.38, 1629.4, 136.3, 136.3, "thumb", 5096, 0.4525], [4039.94, 1629.4, 136.3, 136.3, "thumb", 5097, 0.505], [4238.5, 1629.4, 136.3, 136.3, "thumb", 5098, 0.48250000000000004], [2252.9, 1824.9, 136.3, 136.3, "thumb", 5099, 0.505], [2451.46, 1824.9, 136.3, 136.3, "thumb", 5100, 0.5800000000000001], [2650.02, 1824.9, 136.3, 136.3, "thumb", 5101, 0.505], [2848.58, 1824.9, 136.3, 136.3, "thumb", 5102, 0.505], [3047.14, 1824.9, 136.3, 136.3, "thumb", 5103, 0.505]]; for(var n=0;n<T.length;n++){var q=T[n];draw(q[0],q[1],q[2],q[3],q[4],q[5],q[6]);}
})();
</script>
</body></html>
